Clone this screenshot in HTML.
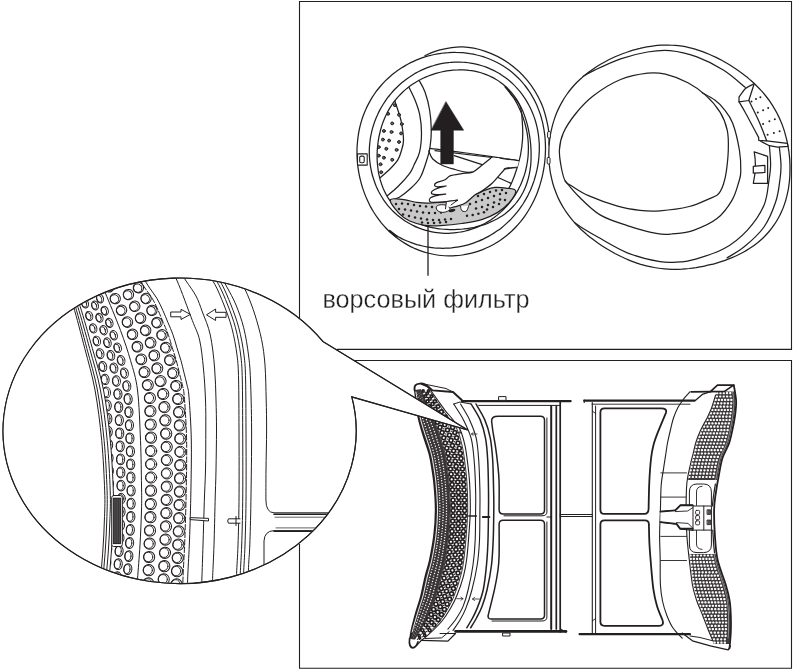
<!DOCTYPE html>
<html><head><meta charset="utf-8"><title>ворсовый фильтр</title>
<style>html,body{margin:0;padding:0;background:#fff}svg{display:block}
text{font-family:"Liberation Sans","DejaVu Sans",sans-serif;fill:#231f20}</style></head>
<body><svg width="793" height="670" viewBox="0 0 793 670">
<rect width="793" height="670" fill="#fff"/>
<path d="M299.5 318V1.5H791.5V349.4H336.7" fill="none" stroke="#231f20" stroke-width="1.1" />
<path d="M354.4 360.5H791.5V668.3H299.5V544" fill="none" stroke="#231f20" stroke-width="1.1" />
<g id="drum" stroke-linecap="round" stroke-linejoin="round">
<path d="M357.0 155.0C357.0 152.8 357.0 150.6 357.0 148.4C357.1 146.1 357.3 143.9 357.5 141.7C357.7 139.5 357.9 137.3 358.3 135.1C358.6 132.9 359.0 130.7 359.5 128.5C360.0 126.3 360.6 124.1 361.2 121.9C361.8 119.8 362.5 117.6 363.3 115.5C364.1 113.4 364.9 111.3 365.9 109.2C366.8 107.1 367.8 105.1 368.9 103.1C370.0 101.1 371.1 99.1 372.3 97.1C373.6 95.2 374.9 93.3 376.2 91.4C377.6 89.6 379.1 87.8 380.6 86.0C382.1 84.3 383.7 82.6 385.3 80.9C386.9 79.3 388.7 77.7 390.4 76.2C392.2 74.6 394.0 73.2 395.9 71.8C397.7 70.4 399.7 69.1 401.7 67.8C403.6 66.6 405.7 65.4 407.7 64.2C409.8 63.1 411.9 62.1 414.1 61.1C416.2 60.2 418.4 59.3 420.6 58.4C422.8 57.6 425.1 56.9 427.4 56.2C429.7 55.6 432.0 55.0 434.3 54.5C436.6 54.0 439.0 53.6 441.3 53.3C443.7 53.0 446.0 52.7 448.4 52.6C450.8 52.4 453.2 52.3 455.6 52.4C458.0 52.4 460.4 52.5 462.8 52.7C465.1 52.9 467.5 53.2 469.9 53.6C472.3 53.9 474.6 54.4 476.9 55.0C479.3 55.5 481.6 56.2 483.9 56.9C486.1 57.7 488.4 58.5 490.6 59.5C492.8 60.4 495.0 61.4 497.1 62.5C499.2 63.6 501.3 64.8 503.3 66.1C505.4 67.4 507.3 68.7 509.2 70.1C511.1 71.6 513.0 73.1 514.8 74.7C516.5 76.3 518.2 77.9 519.9 79.6C521.5 81.3 523.1 83.1 524.5 85.0C526.0 86.8 527.4 88.7 528.7 90.6C530.1 92.5 531.3 94.5 532.4 96.6C533.6 98.6 534.7 100.6 535.7 102.7C536.7 104.8 537.6 106.9 538.4 109.1C539.2 111.2 540.0 113.4 540.7 115.5C541.3 117.7 541.9 119.9 542.5 122.1C543.0 124.3 543.4 126.5 543.8 128.7C544.2 130.9 544.5 133.1 544.8 135.3C545.0 137.5 545.2 139.7 545.3 141.9C545.4 144.1 545.5 146.3 545.5 148.5C545.5 150.6 545.4 152.8 545.3 155.0C545.2 157.2 545.0 159.3 544.8 161.5C544.5 163.6 544.3 165.8 543.9 167.9C543.6 170.1 543.2 172.2 542.7 174.3C542.3 176.4 541.8 178.5 541.2 180.6C540.6 182.7 540.0 184.7 539.4 186.8C538.7 188.9 538.0 190.9 537.2 192.9C536.4 194.9 535.5 196.9 534.6 198.9C533.7 200.9 532.7 202.9 531.7 204.8C530.7 206.7 529.6 208.7 528.4 210.5C527.3 212.4 526.1 214.3 524.8 216.1C523.5 217.9 522.2 219.7 520.8 221.4C519.3 223.1 517.9 224.8 516.3 226.5C514.8 228.1 513.2 229.7 511.6 231.3C509.9 232.8 508.2 234.3 506.4 235.7C504.7 237.1 502.8 238.5 501.0 239.8C499.1 241.1 497.1 242.3 495.2 243.5C493.2 244.7 491.2 245.8 489.1 246.8C487.0 247.8 484.9 248.7 482.7 249.6C480.6 250.4 478.4 251.2 476.2 251.9C473.9 252.6 471.7 253.2 469.4 253.7C467.1 254.2 464.8 254.7 462.5 255.0C460.2 255.3 457.9 255.6 455.5 255.7C453.2 255.9 450.8 255.9 448.5 255.9C446.1 255.8 443.8 255.7 441.4 255.5C439.1 255.3 436.8 254.9 434.5 254.5C432.1 254.1 429.8 253.6 427.6 253.0C425.3 252.4 423.1 251.7 420.8 250.9C418.6 250.1 416.5 249.2 414.3 248.3C412.2 247.3 410.1 246.3 408.0 245.1C406.0 244.0 404.0 242.8 402.0 241.5C400.1 240.3 398.2 238.9 396.4 237.5C394.5 236.1 392.8 234.6 391.0 233.0C389.3 231.5 387.7 229.9 386.1 228.2C384.5 226.5 383.0 224.8 381.5 223.1C380.1 221.3 378.7 219.5 377.4 217.6C376.0 215.8 374.8 213.9 373.6 212.0C372.4 210.0 371.3 208.1 370.2 206.1C369.2 204.1 368.2 202.1 367.3 200.1C366.3 198.0 365.5 196.0 364.7 193.9C363.9 191.8 363.2 189.7 362.5 187.6C361.8 185.5 361.2 183.3 360.7 181.2C360.1 179.0 359.6 176.9 359.2 174.7C358.8 172.6 358.4 170.4 358.1 168.2C357.8 166.0 357.6 163.8 357.4 161.6C357.2 159.4 357.1 157.2 357.0 155.0Z" fill="none" stroke="#231f20" stroke-width="1.25" />
<path d="M425.0 55.5C427.5 54.5 433.7 51.2 440.0 49.8C446.3 48.3 455.1 46.5 462.7 46.8C470.3 47.0 477.8 48.6 485.4 51.3C493.0 53.9 501.1 57.8 508.1 62.7C515.2 67.6 522.2 74.0 527.7 80.8C533.2 87.6 538.0 95.7 541.4 103.5C544.8 111.3 546.9 120.8 548.2 127.7C549.5 134.6 548.9 142.1 549.0 145.0" fill="none" stroke="#231f20" stroke-width="1.25" />
<path d="M390.1 231.7C391.0 232.3 393.4 234.0 395.2 235.0C396.9 236.0 398.6 237.0 400.4 237.9C402.2 238.9 404.0 239.7 405.8 240.5C407.6 241.3 409.4 242.0 411.3 242.7C413.2 243.4 415.0 244.0 416.9 244.6C418.8 245.1 420.7 245.6 422.6 246.0C424.5 246.5 426.5 246.8 428.4 247.1C430.3 247.4 432.2 247.7 434.2 247.9C436.1 248.0 438.0 248.2 440.0 248.2C441.9 248.3 443.8 248.3 445.7 248.2C447.6 248.2 449.6 248.0 451.4 247.9C453.3 247.7 455.2 247.5 457.1 247.2C459.0 246.9 460.8 246.6 462.7 246.2C464.5 245.8 466.3 245.3 468.1 244.8C469.9 244.3 471.7 243.7 473.5 243.1C475.2 242.5 476.9 241.9 478.6 241.2C480.3 240.5 482.0 239.7 483.7 238.9C485.3 238.1 486.9 237.3 488.5 236.4C490.1 235.5 491.7 234.6 493.2 233.6C494.7 232.7 496.2 231.7 497.7 230.6C499.2 229.6 500.6 228.5 502.0 227.4C503.4 226.3 504.7 225.1 506.0 223.9C507.3 222.7 508.6 221.5 509.9 220.3C511.1 219.0 512.3 217.7 513.5 216.4C514.7 215.1 515.8 213.8 516.9 212.4C518.0 211.1 519.0 209.7 520.0 208.3C521.0 206.9 522.0 205.4 523.0 204.0C523.9 202.5 524.8 201.1 525.6 199.6C526.5 198.1 527.3 196.6 528.1 195.1C528.8 193.5 529.6 192.0 530.3 190.4C531.0 188.9 531.6 187.3 532.2 185.7C532.8 184.1 533.4 182.5 534.0 180.9C534.5 179.3 535.0 177.7 535.4 176.0C535.9 174.4 536.3 172.8 536.7 171.1C537.1 169.5 537.4 167.8 537.7 166.1C538.0 164.5 538.3 162.8 538.5 161.1C538.7 159.4 538.9 157.7 539.0 156.0C539.1 154.3 539.2 152.6 539.3 150.9C539.3 149.2 539.3 147.5 539.3 145.8C539.3 144.1 539.2 142.4 539.0 140.7C538.9 139.0 538.7 137.3 538.5 135.5C538.3 133.8 538.0 132.1 537.7 130.4C537.4 128.7 537.0 127.0 536.6 125.4C536.2 123.7 535.7 122.0 535.2 120.3C534.7 118.7 534.1 117.0 533.5 115.4C532.9 113.7 532.2 112.1 531.5 110.5C530.8 108.9 530.0 107.3 529.2 105.8C528.4 104.2 527.5 102.6 526.6 101.1C525.7 99.6 524.7 98.1 523.7 96.7C522.7 95.2 521.7 93.8 520.6 92.4C519.4 91.0 518.3 89.6 517.1 88.3C515.9 87.0 514.7 85.7 513.4 84.4C512.1 83.2 510.8 82.0 509.4 80.8C508.0 79.6 506.6 78.5 505.2 77.5C503.7 76.4 502.2 75.4 500.7 74.4C499.2 73.5 497.6 72.6 496.1 71.7C494.5 70.8 492.9 70.0 491.2 69.3C489.6 68.6 487.9 67.9 486.2 67.2C484.6 66.6 482.8 66.0 481.1 65.5C479.4 65.0 477.7 64.5 475.9 64.1C474.2 63.7 472.4 63.4 470.6 63.1C468.9 62.8 467.1 62.6 465.3 62.4C463.5 62.3 461.8 62.2 460.0 62.1C458.2 62.1 456.4 62.1 454.6 62.1C452.9 62.2 451.1 62.3 449.3 62.5C447.6 62.7 445.8 62.9 444.1 63.2C442.3 63.5 440.6 63.8 438.9 64.2C437.2 64.6 435.5 65.0 433.8 65.5C432.1 66.0 430.4 66.6 428.8 67.1C427.1 67.7 425.5 68.4 423.9 69.1C422.3 69.8 420.8 70.5 419.2 71.3C417.7 72.0 416.1 72.9 414.6 73.7C413.2 74.6 411.7 75.5 410.3 76.5C408.8 77.4 407.4 78.4 406.0 79.4C404.7 80.4 403.3 81.5 402.0 82.6C400.7 83.7 399.5 84.8 398.2 86.0C397.0 87.1 395.8 88.3 394.6 89.5C393.4 90.8 392.3 92.0 391.2 93.3C390.1 94.6 389.1 95.9 388.0 97.2C387.0 98.6 386.0 99.9 385.1 101.3C384.2 102.7 383.3 104.1 382.4 105.5C381.5 107.0 380.7 108.4 379.9 109.9C379.1 111.4 378.4 112.8 377.7 114.4C377.0 115.9 376.3 117.4 375.7 118.9C375.1 120.5 374.5 122.0 374.0 123.6C373.5 125.2 373.0 126.8 372.5 128.4C372.1 129.9 371.7 131.6 371.4 133.2C371.0 134.8 370.7 136.4 370.4 138.0C370.2 139.7 370.0 141.3 369.8 143.0C369.6 144.6 369.5 146.3 369.4 147.9C369.3 149.6 369.3 151.2 369.3 152.9C369.3 154.5 369.4 156.2 369.5 157.8C369.6 159.5 369.8 161.1 370.0 162.8C370.2 164.4 370.4 166.0 370.7 167.7C371.0 169.3 371.3 170.9 371.7 172.5C372.1 174.1 372.5 175.7 373.0 177.3C373.5 178.9 374.0 180.5 374.6 182.0C375.1 183.6 375.7 185.1 376.4 186.7C377.1 188.2 377.8 189.7 378.5 191.2C379.3 192.7 380.1 194.1 380.9 195.5C381.8 197.0 382.7 198.4 383.6 199.8C384.5 201.1 385.5 202.5 386.5 203.8C387.5 205.1 388.6 206.4 389.7 207.6C390.8 208.9 392.0 210.1 393.1 211.3C394.3 212.4 395.5 213.6 396.8 214.7C398.1 215.7 399.3 216.8 400.7 217.8C402.0 218.8 403.3 219.8 404.7 220.7C406.1 221.6 407.5 222.4 409.0 223.3C410.4 224.1 411.9 224.9 413.4 225.6C414.8 226.3 416.3 227.0 417.9 227.6C419.4 228.2 420.9 228.8 422.5 229.3C424.1 229.8 425.6 230.3 427.2 230.7C428.8 231.1 430.4 231.5 432.0 231.8C433.6 232.1 435.2 232.4 436.8 232.6C438.4 232.8 440.1 233.0 441.7 233.1C443.3 233.2 444.9 233.3 446.5 233.3C448.1 233.3 449.7 233.2 451.4 233.1C453.0 233.0 454.6 232.9 456.1 232.7C457.7 232.5 459.3 232.3 460.9 232.0C462.4 231.7 464.0 231.4 465.5 231.0C467.1 230.6 468.6 230.2 470.1 229.7C471.6 229.2 473.1 228.7 474.6 228.2C476.0 227.6 477.5 227.0 478.9 226.4C480.3 225.7 481.7 225.1 483.1 224.4C484.5 223.7 485.8 222.9 487.2 222.1C488.5 221.3 489.8 220.5 491.1 219.7C492.4 218.8 493.6 217.9 494.8 217.0C496.1 216.1 497.3 215.1 498.4 214.1C499.6 213.2 500.7 212.1 501.8 211.1C502.9 210.1 504.0 209.0 505.0 207.9C506.1 206.8 507.1 205.7 508.1 204.5C509.0 203.4 510.0 202.2 510.9 201.0C511.8 199.8 512.7 198.6 513.5 197.4C514.4 196.1 515.2 194.9 515.9 193.6C516.7 192.3 517.5 191.0 518.2 189.7C518.9 188.4 519.5 187.1 520.2 185.7C520.8 184.4 521.4 183.0 521.9 181.7C522.5 180.3 523.0 178.9 523.5 177.5C524.0 176.1 524.5 174.7 524.9 173.3C525.3 171.9 525.7 170.4 526.0 169.0C526.3 167.6 526.6 166.1 526.9 164.6C527.2 163.2 527.4 161.7 527.6 160.3C527.8 158.8 528.0 157.3 528.1 155.8C528.2 154.4 528.3 152.9 528.3 151.4C528.4 149.9 528.4 148.4 528.4 146.9C528.4 145.4 528.3 143.9 528.2 142.4C528.1 140.9 528.0 139.4 527.8 137.9C527.6 136.4 527.4 134.9 527.2 133.4C526.9 131.9 526.6 130.5 526.3 129.0C526.0 127.5 525.6 126.0 525.2 124.5C524.8 123.0 524.4 121.5 523.9 120.1C523.5 118.6 523.0 117.1 522.4 115.7C521.9 114.2 521.3 112.8 520.7 111.3C520.0 109.9 519.4 108.4 518.7 107.0C518.0 105.6 517.3 104.1 516.5 102.7C515.7 101.3 514.9 99.9 514.1 98.5C513.2 97.2 512.3 95.8 511.4 94.4C510.5 93.1 509.5 91.7 508.5 90.4C507.5 89.0 505.9 87.1 505.4 86.4" fill="none" stroke="#231f20" stroke-width="1.25" />
<clipPath id="clipd"><path d="M377.3 150.0C377.4 148.2 377.6 146.4 377.8 144.6C378.0 142.8 378.2 141.0 378.5 139.3C378.8 137.5 379.2 135.7 379.6 134.0C380.0 132.2 380.4 130.5 380.9 128.8C381.4 127.0 381.9 125.3 382.5 123.6C383.1 121.9 383.8 120.3 384.5 118.6C385.2 116.9 385.9 115.3 386.7 113.7C387.5 112.1 388.4 110.5 389.3 108.9C390.2 107.4 391.2 105.9 392.2 104.4C393.2 102.9 394.3 101.4 395.4 100.0C396.6 98.6 397.7 97.2 399.0 95.9C400.2 94.6 401.5 93.3 402.8 92.0C404.1 90.8 405.5 89.6 406.9 88.4C408.3 87.3 409.8 86.2 411.3 85.1C412.7 84.1 414.3 83.1 415.8 82.2C417.4 81.2 419.0 80.3 420.6 79.5C422.2 78.6 423.9 77.9 425.6 77.1C427.2 76.4 428.9 75.7 430.7 75.1C432.4 74.5 434.1 73.9 435.9 73.4C437.7 72.9 439.4 72.4 441.2 72.0C443.0 71.6 444.9 71.2 446.7 70.9C448.5 70.6 450.4 70.4 452.2 70.2C454.1 70.0 455.9 69.9 457.8 69.9C459.7 69.8 461.5 69.8 463.4 69.9C465.3 70.0 467.2 70.1 469.0 70.4C470.9 70.6 472.8 70.9 474.6 71.2C476.5 71.6 478.3 72.0 480.2 72.5C482.0 73.1 483.8 73.7 485.6 74.3C487.3 75.0 489.1 75.7 490.8 76.6C492.5 77.4 494.2 78.3 495.8 79.3C497.5 80.3 499.1 81.3 500.6 82.4C502.1 83.5 503.6 84.7 505.0 86.0C506.4 87.2 507.8 88.6 509.1 89.9C510.4 91.3 511.6 92.7 512.8 94.2C514.0 95.6 515.1 97.2 516.1 98.7C517.2 100.3 518.1 101.9 519.0 103.5C519.9 105.1 520.8 106.7 521.6 108.4C522.3 110.1 523.1 111.8 523.7 113.5C524.4 115.2 525.0 116.9 525.6 118.6C526.1 120.3 526.6 122.0 527.1 123.8C527.5 125.5 528.0 127.2 528.3 129.0C528.7 130.7 529.0 132.5 529.3 134.2C529.6 135.9 529.9 137.7 530.1 139.4C530.3 141.2 530.5 142.9 530.7 144.7C530.8 146.5 530.9 148.2 531.0 150.0C531.1 151.8 531.1 153.5 531.1 155.3C531.1 157.1 531.1 158.9 531.0 160.7C530.9 162.5 530.8 164.3 530.6 166.1C530.4 167.9 530.1 169.7 529.8 171.5C529.5 173.3 529.2 175.1 528.7 176.8C528.3 178.6 527.8 180.4 527.2 182.2C526.7 183.9 526.0 185.7 525.3 187.4C524.6 189.1 523.8 190.8 523.0 192.5C522.1 194.1 521.2 195.8 520.2 197.4C519.2 198.9 518.1 200.5 516.9 202.0C515.8 203.5 514.6 204.9 513.3 206.3C512.0 207.7 510.7 209.0 509.3 210.3C507.9 211.5 506.4 212.7 504.9 213.9C503.4 215.0 501.8 216.1 500.2 217.0C498.6 218.0 497.0 219.0 495.3 219.8C493.7 220.7 492.0 221.5 490.2 222.2C488.5 223.0 486.8 223.7 485.0 224.3C483.2 224.9 481.5 225.4 479.7 225.9C477.9 226.4 476.1 226.9 474.3 227.3C472.5 227.6 470.6 228.0 468.8 228.3C467.0 228.6 465.1 228.8 463.3 229.0C461.5 229.2 459.6 229.3 457.8 229.4C455.9 229.5 454.1 229.6 452.2 229.6C450.4 229.6 448.5 229.5 446.7 229.4C444.8 229.3 442.9 229.2 441.1 229.0C439.2 228.8 437.4 228.5 435.5 228.2C433.6 227.9 431.8 227.5 430.0 227.1C428.1 226.6 426.3 226.1 424.5 225.6C422.7 225.0 420.9 224.3 419.1 223.6C417.3 222.9 415.6 222.1 413.9 221.3C412.1 220.4 410.5 219.5 408.8 218.5C407.2 217.5 405.6 216.4 404.0 215.2C402.5 214.1 401.0 212.8 399.6 211.6C398.1 210.3 396.8 208.9 395.4 207.5C394.1 206.1 392.9 204.6 391.7 203.1C390.5 201.6 389.4 200.0 388.4 198.4C387.4 196.8 386.4 195.1 385.6 193.4C384.7 191.7 383.9 190.0 383.1 188.2C382.4 186.5 381.7 184.7 381.2 182.9C380.6 181.1 380.0 179.3 379.6 177.4C379.1 175.6 378.8 173.8 378.4 172.0C378.1 170.1 377.9 168.3 377.7 166.4C377.5 164.6 377.3 162.8 377.2 160.9C377.1 159.1 377.1 157.3 377.1 155.4C377.1 153.6 377.2 151.8 377.3 150.0Z"/></clipPath>
<clipPath id="clipf"><path d="M340 40L505 40L505.0 86.9L505.3 87.3L505.8 87.9L506.3 88.5L506.9 89.2L507.5 89.9L508.2 90.8L508.9 91.6L509.6 92.6L510.3 93.5L511.1 94.5L511.9 95.5L512.8 96.5L513.8 97.6L514.9 98.7L515.9 99.9L516.9 101.1L517.9 102.4L518.8 103.7L519.6 105.1L520.2 106.6L520.7 108.2L521.1 109.9L521.5 111.8L521.7 113.7L521.9 115.6L522.1 117.6L522.2 119.5L522.3 121.4L522.4 123.3L522.5 125.0L522.6 126.6L522.7 128.2L522.7 129.7L522.8 131.2L522.8 132.6L522.8 134.0L522.7 135.4L522.7 136.9L522.6 138.3L522.5 139.8L522.4 141.3L522.3 142.8L522.1 144.3L521.9 145.9L521.8 147.4L521.5 148.9L521.3 150.4L521.1 152.0L520.8 153.5L520.5 155.0L520.2 156.5L519.8 158.1L519.4 159.6L519.0 161.2L518.6 162.7L518.2 164.2L517.7 165.7L517.3 167.2L516.8 168.6L516.4 170.0L516.0 171.3L515.5 172.7L515.1 173.9L514.6 175.2L514.2 176.4L513.7 177.6L513.3 178.8L512.9 179.9L512.4 181.0L512.0 182.0L511.6 183.0L511.1 184.0L510.6 184.9L510.2 185.9L509.7 186.8L509.3 187.6L508.9 188.3L508.5 189.0L508.2 189.5L508.0 190.0L505 200L500 235L340 235Z"/></clipPath>
<g clip-path="url(#clipd)"><g clip-path="url(#clipf)">
<path d="M394.8 100.9C395.8 104.2 399.6 114.0 401.0 120.6C402.4 127.2 403.5 135.1 403.5 140.3C403.5 145.5 401.9 148.7 401.0 152.0C400.1 155.3 399.6 157.1 397.8 159.9C396.0 162.7 393.0 166.0 390.0 169.0C387.0 172.0 381.6 176.3 379.9 177.8" fill="none" stroke="#231f20" stroke-width="1.25" />
<path d="M409.1 87.5C410.1 89.6 413.2 95.5 415.0 100.0C416.8 104.5 418.6 109.1 419.7 114.6C420.8 120.1 421.5 126.8 421.5 133.1C421.5 139.4 420.8 147.1 419.5 152.4C418.2 157.7 415.6 161.5 414.0 165.0C412.4 168.5 412.4 169.7 409.7 173.3C407.0 176.9 401.7 182.8 398.0 186.5C394.3 190.2 389.1 194.2 387.3 195.7" fill="none" stroke="#231f20" stroke-width="1.25" />
<path d="M419.0 80.3C420.0 82.2 423.2 87.0 425.0 92.0C426.8 97.0 428.6 103.7 429.6 110.0C430.7 116.3 431.2 123.8 431.3 130.0C431.4 136.2 430.7 142.7 430.0 147.5C429.3 152.3 428.8 153.9 427.1 159.0C425.5 164.1 423.0 172.8 420.1 177.8C417.2 182.8 413.5 185.8 410.0 189.0C406.5 192.2 402.6 195.3 399.3 197.2C396.0 199.0 391.8 199.6 390.3 200.1" fill="none" stroke="#231f20" stroke-width="1.25" />
<circle cx="394.9" cy="105.2" r="1.45" fill="#666" stroke="#231f20" stroke-width="1.0"/>
<circle cx="388.1" cy="113.8" r="1.45" fill="#666" stroke="#231f20" stroke-width="1.0"/>
<circle cx="399.0" cy="114.8" r="1.45" fill="#666" stroke="#231f20" stroke-width="1.0"/>
<circle cx="392.2" cy="123.4" r="1.45" fill="#666" stroke="#231f20" stroke-width="1.0"/>
<circle cx="401.8" cy="124.1" r="1.45" fill="#666" stroke="#231f20" stroke-width="1.0"/>
<circle cx="383.9" cy="131.0" r="1.45" fill="#666" stroke="#231f20" stroke-width="1.0"/>
<circle cx="391.5" cy="132.0" r="1.45" fill="#666" stroke="#231f20" stroke-width="1.0"/>
<circle cx="401.1" cy="133.4" r="1.45" fill="#666" stroke="#231f20" stroke-width="1.0"/>
<circle cx="382.9" cy="139.6" r="1.45" fill="#666" stroke="#231f20" stroke-width="1.0"/>
<circle cx="389.1" cy="140.6" r="1.45" fill="#666" stroke="#231f20" stroke-width="1.0"/>
<circle cx="399.0" cy="142.0" r="1.45" fill="#666" stroke="#231f20" stroke-width="1.0"/>
<circle cx="378.8" cy="147.1" r="1.45" fill="#666" stroke="#231f20" stroke-width="1.0"/>
<circle cx="386.3" cy="148.8" r="1.45" fill="#666" stroke="#231f20" stroke-width="1.0"/>
<circle cx="396.6" cy="149.9" r="1.45" fill="#666" stroke="#231f20" stroke-width="1.0"/>
<circle cx="378.8" cy="155.7" r="1.45" fill="#666" stroke="#231f20" stroke-width="1.0"/>
<circle cx="383.9" cy="157.7" r="1.45" fill="#666" stroke="#231f20" stroke-width="1.0"/>
<circle cx="392.2" cy="159.8" r="1.45" fill="#666" stroke="#231f20" stroke-width="1.0"/>
<circle cx="380.5" cy="164.3" r="1.45" fill="#666" stroke="#231f20" stroke-width="1.0"/>
<circle cx="381.2" cy="172.2" r="1.45" fill="#666" stroke="#231f20" stroke-width="1.0"/>
<path d="M429.6 148.3C436.3 149.2 455.2 151.4 470.0 153.5C484.8 155.6 508.2 159.1 518.2 160.6C528.2 162.1 528.0 162.2 530.0 162.5" fill="none" stroke="#231f20" stroke-width="1.25" />
<path d="M435.0 150.6L492.0 157.5" fill="none" stroke="#231f20" stroke-width="1.25" />
<path d="M454.2 155.7L482.1 164.7" fill="none" stroke="#231f20" stroke-width="1.25" />
<path d="M428.7 150.8C429.4 152.2 430.5 156.6 432.8 159.0C435.1 161.4 439.0 163.8 442.7 165.5C446.4 167.2 451.2 168.4 455.0 169.5C458.8 170.6 462.8 171.7 465.7 172.1C468.6 172.5 471.1 172.1 472.2 172.1" fill="none" stroke="#231f20" stroke-width="1.25" />
<path d="M505.1 168.8L520.0 167.2L530.0 167.0" fill="none" stroke="#231f20" stroke-width="1.25" />
<path d="M496.9 177.0L511.7 183.6" fill="none" stroke="#231f20" stroke-width="1.25" />
<path d="M505.1 168.8C503.8 170.1 499.9 173.8 497.0 176.5C494.1 179.2 491.0 182.7 488.0 185.0C485.0 187.3 480.3 189.3 478.8 190.2" fill="none" stroke="#231f20" stroke-width="1.25" />
</g></g>
<path d="M377.3 150.0C377.4 148.2 377.6 146.4 377.8 144.6C378.0 142.8 378.2 141.0 378.5 139.3C378.8 137.5 379.2 135.7 379.6 134.0C380.0 132.2 380.4 130.5 380.9 128.8C381.4 127.0 381.9 125.3 382.5 123.6C383.1 121.9 383.8 120.3 384.5 118.6C385.2 116.9 385.9 115.3 386.7 113.7C387.5 112.1 388.4 110.5 389.3 108.9C390.2 107.4 391.2 105.9 392.2 104.4C393.2 102.9 394.3 101.4 395.4 100.0C396.6 98.6 397.7 97.2 399.0 95.9C400.2 94.6 401.5 93.3 402.8 92.0C404.1 90.8 405.5 89.6 406.9 88.4C408.3 87.3 409.8 86.2 411.3 85.1C412.7 84.1 414.3 83.1 415.8 82.2C417.4 81.2 419.0 80.3 420.6 79.5C422.2 78.6 423.9 77.9 425.6 77.1C427.2 76.4 428.9 75.7 430.7 75.1C432.4 74.5 434.1 73.9 435.9 73.4C437.7 72.9 439.4 72.4 441.2 72.0C443.0 71.6 444.9 71.2 446.7 70.9C448.5 70.6 450.4 70.4 452.2 70.2C454.1 70.0 455.9 69.9 457.8 69.9C459.7 69.8 461.5 69.8 463.4 69.9C465.3 70.0 467.2 70.1 469.0 70.4C470.9 70.6 472.8 70.9 474.6 71.2C476.5 71.6 478.3 72.0 480.2 72.5C482.0 73.1 483.8 73.7 485.6 74.3C487.3 75.0 489.1 75.7 490.8 76.6C492.5 77.4 494.2 78.3 495.8 79.3C497.5 80.3 499.1 81.3 500.6 82.4C502.1 83.5 503.6 84.7 505.0 86.0C506.4 87.2 507.8 88.6 509.1 89.9C510.4 91.3 511.6 92.7 512.8 94.2C514.0 95.6 515.1 97.2 516.1 98.7C517.2 100.3 518.1 101.9 519.0 103.5C519.9 105.1 520.8 106.7 521.6 108.4C522.3 110.1 523.1 111.8 523.7 113.5C524.4 115.2 525.0 116.9 525.6 118.6C526.1 120.3 526.6 122.0 527.1 123.8C527.5 125.5 528.0 127.2 528.3 129.0C528.7 130.7 529.0 132.5 529.3 134.2C529.6 135.9 529.9 137.7 530.1 139.4C530.3 141.2 530.5 142.9 530.7 144.7C530.8 146.5 530.9 148.2 531.0 150.0C531.1 151.8 531.1 153.5 531.1 155.3C531.1 157.1 531.1 158.9 531.0 160.7C530.9 162.5 530.8 164.3 530.6 166.1C530.4 167.9 530.1 169.7 529.8 171.5C529.5 173.3 529.2 175.1 528.7 176.8C528.3 178.6 527.8 180.4 527.2 182.2C526.7 183.9 526.0 185.7 525.3 187.4C524.6 189.1 523.8 190.8 523.0 192.5C522.1 194.1 521.2 195.8 520.2 197.4C519.2 198.9 518.1 200.5 516.9 202.0C515.8 203.5 514.6 204.9 513.3 206.3C512.0 207.7 510.7 209.0 509.3 210.3C507.9 211.5 506.4 212.7 504.9 213.9C503.4 215.0 501.8 216.1 500.2 217.0C498.6 218.0 497.0 219.0 495.3 219.8C493.7 220.7 492.0 221.5 490.2 222.2C488.5 223.0 486.8 223.7 485.0 224.3C483.2 224.9 481.5 225.4 479.7 225.9C477.9 226.4 476.1 226.9 474.3 227.3C472.5 227.6 470.6 228.0 468.8 228.3C467.0 228.6 465.1 228.8 463.3 229.0C461.5 229.2 459.6 229.3 457.8 229.4C455.9 229.5 454.1 229.6 452.2 229.6C450.4 229.6 448.5 229.5 446.7 229.4C444.8 229.3 442.9 229.2 441.1 229.0C439.2 228.8 437.4 228.5 435.5 228.2C433.6 227.9 431.8 227.5 430.0 227.1C428.1 226.6 426.3 226.1 424.5 225.6C422.7 225.0 420.9 224.3 419.1 223.6C417.3 222.9 415.6 222.1 413.9 221.3C412.1 220.4 410.5 219.5 408.8 218.5C407.2 217.5 405.6 216.4 404.0 215.2C402.5 214.1 401.0 212.8 399.6 211.6C398.1 210.3 396.8 208.9 395.4 207.5C394.1 206.1 392.9 204.6 391.7 203.1C390.5 201.6 389.4 200.0 388.4 198.4C387.4 196.8 386.4 195.1 385.6 193.4C384.7 191.7 383.9 190.0 383.1 188.2C382.4 186.5 381.7 184.7 381.2 182.9C380.6 181.1 380.0 179.3 379.6 177.4C379.1 175.6 378.8 173.8 378.4 172.0C378.1 170.1 377.9 168.3 377.7 166.4C377.5 164.6 377.3 162.8 377.2 160.9C377.1 159.1 377.1 157.3 377.1 155.4C377.1 153.6 377.2 151.8 377.3 150.0Z" fill="none" stroke="#231f20" stroke-width="1.25" />
<path d="M505.0 86.9C506.0 88.2 508.6 91.2 511.1 94.5C513.6 97.8 518.3 101.5 520.2 106.6C522.1 111.7 522.1 119.5 522.5 125.0C522.9 130.5 522.8 134.8 522.5 139.8C522.2 144.8 521.5 150.0 520.5 155.0C519.5 160.0 517.8 165.5 516.4 170.0C515.0 174.5 513.4 178.7 512.0 182.0C510.6 185.3 508.7 188.7 508.0 190.0" fill="none" stroke="#231f20" stroke-width="1.25" />
<path d="M390.3 200.1C390.8 197.7 397.7 199.0 402.2 199.4C406.7 199.8 412.7 201.8 417.2 202.4C421.7 203.0 424.5 203.2 429.1 203.1C433.7 203.0 439.5 202.5 445.0 202.0C450.5 201.5 456.9 201.3 462.0 200.0C467.1 198.7 471.6 196.0 475.5 194.4C479.4 192.8 482.0 191.4 485.2 190.2C488.4 189.0 491.4 187.8 494.9 187.4C498.4 187.1 502.5 187.5 506.0 188.1C509.5 188.7 515.2 188.4 515.7 190.9C516.2 193.4 512.0 199.4 509.0 203.0C506.0 206.6 502.1 209.7 497.7 212.4C493.3 215.1 488.4 217.5 482.4 219.3C476.4 221.2 468.5 222.4 461.6 223.5C454.7 224.6 447.0 225.3 440.8 225.6C434.6 225.9 429.8 226.1 424.6 225.3C419.4 224.5 413.9 222.9 409.7 221.0C405.5 219.1 402.5 217.1 399.3 213.6C396.1 210.1 389.8 202.5 390.3 200.1Z" fill="#c9c9c9" stroke="#231f20" stroke-width="1.25" />
<circle cx="396.0" cy="204.0" r="1.25" fill="#231f20"/>
<circle cx="402.0" cy="203.5" r="1.25" fill="#231f20"/>
<circle cx="408.0" cy="204.0" r="1.25" fill="#231f20"/>
<circle cx="414.0" cy="205.0" r="1.25" fill="#231f20"/>
<circle cx="420.0" cy="206.0" r="1.25" fill="#231f20"/>
<circle cx="426.0" cy="206.5" r="1.25" fill="#231f20"/>
<circle cx="432.0" cy="207.0" r="1.25" fill="#231f20"/>
<circle cx="399.0" cy="209.0" r="1.25" fill="#231f20"/>
<circle cx="405.0" cy="209.5" r="1.25" fill="#231f20"/>
<circle cx="411.0" cy="210.5" r="1.25" fill="#231f20"/>
<circle cx="417.0" cy="211.5" r="1.25" fill="#231f20"/>
<circle cx="423.0" cy="212.5" r="1.25" fill="#231f20"/>
<circle cx="429.0" cy="213.0" r="1.25" fill="#231f20"/>
<circle cx="435.0" cy="213.0" r="1.25" fill="#231f20"/>
<circle cx="441.0" cy="212.5" r="1.25" fill="#231f20"/>
<circle cx="403.0" cy="214.5" r="1.25" fill="#231f20"/>
<circle cx="409.0" cy="216.0" r="1.25" fill="#231f20"/>
<circle cx="415.0" cy="217.5" r="1.25" fill="#231f20"/>
<circle cx="421.0" cy="218.5" r="1.25" fill="#231f20"/>
<circle cx="427.0" cy="219.5" r="1.25" fill="#231f20"/>
<circle cx="433.0" cy="220.0" r="1.25" fill="#231f20"/>
<circle cx="439.0" cy="220.0" r="1.25" fill="#231f20"/>
<circle cx="445.0" cy="219.5" r="1.25" fill="#231f20"/>
<circle cx="451.0" cy="219.0" r="1.25" fill="#231f20"/>
<circle cx="422.0" cy="222.5" r="1.25" fill="#231f20"/>
<circle cx="428.0" cy="223.0" r="1.25" fill="#231f20"/>
<circle cx="434.0" cy="223.0" r="1.25" fill="#231f20"/>
<circle cx="440.0" cy="222.5" r="1.25" fill="#231f20"/>
<circle cx="446.0" cy="222.0" r="1.25" fill="#231f20"/>
<circle cx="467.0" cy="215.8" r="1.25" fill="#231f20"/>
<circle cx="472.7" cy="215.0" r="1.25" fill="#231f20"/>
<circle cx="478.4" cy="213.8" r="1.25" fill="#231f20"/>
<circle cx="484.0" cy="212.2" r="1.25" fill="#231f20"/>
<circle cx="476.0" cy="208.5" r="1.25" fill="#231f20"/>
<circle cx="482.0" cy="207.0" r="1.25" fill="#231f20"/>
<circle cx="488.0" cy="205.0" r="1.25" fill="#231f20"/>
<circle cx="494.0" cy="202.5" r="1.25" fill="#231f20"/>
<circle cx="500.0" cy="199.5" r="1.25" fill="#231f20"/>
<circle cx="470.0" cy="204.0" r="1.25" fill="#231f20"/>
<circle cx="476.0" cy="202.0" r="1.25" fill="#231f20"/>
<circle cx="482.0" cy="200.0" r="1.25" fill="#231f20"/>
<circle cx="488.0" cy="198.0" r="1.25" fill="#231f20"/>
<circle cx="494.0" cy="196.0" r="1.25" fill="#231f20"/>
<circle cx="500.0" cy="194.0" r="1.25" fill="#231f20"/>
<circle cx="506.0" cy="193.0" r="1.25" fill="#231f20"/>
<circle cx="478.0" cy="196.0" r="1.25" fill="#231f20"/>
<circle cx="484.0" cy="194.0" r="1.25" fill="#231f20"/>
<circle cx="490.0" cy="192.0" r="1.25" fill="#231f20"/>
<circle cx="496.0" cy="190.5" r="1.25" fill="#231f20"/>
<circle cx="502.0" cy="190.0" r="1.25" fill="#231f20"/>
<circle cx="487.0" cy="209.5" r="1.25" fill="#231f20"/>
<circle cx="493.0" cy="207.0" r="1.25" fill="#231f20"/>
<circle cx="499.0" cy="204.0" r="1.25" fill="#231f20"/>
<circle cx="505.0" cy="200.0" r="1.25" fill="#231f20"/>
<g clip-path="url(#clipf)">
<path d="M490.7 158.3C489.1 159.6 484.0 163.7 481.0 166.0C478.0 168.3 475.9 170.9 472.7 172.2C469.5 173.5 465.3 173.0 461.6 173.6C457.9 174.2 453.3 174.7 450.5 175.7C447.7 176.7 447.3 178.7 445.0 179.8C442.7 181.0 438.3 181.7 436.6 182.6C434.9 183.5 434.4 184.7 434.6 185.4C434.8 186.1 436.0 186.7 438.0 186.8C440.0 186.9 446.4 185.9 446.4 186.1C446.4 186.3 440.3 187.3 438.0 188.1C435.7 188.9 433.5 190.0 432.5 190.9C431.5 191.8 431.1 193.1 431.8 193.7C432.5 194.3 434.3 194.6 436.6 194.7C438.9 194.8 445.9 193.9 445.7 194.1C445.5 194.3 437.9 195.2 435.3 195.8C432.8 196.4 431.3 197.0 430.4 197.9C429.5 198.8 429.1 200.6 429.7 201.3C430.3 202.1 431.1 202.4 433.9 202.4C436.7 202.4 442.5 202.0 446.4 201.6C450.3 201.2 456.5 200.1 457.4 200.2C458.3 200.3 453.6 201.0 451.9 202.0C450.2 203.0 448.1 204.7 447.0 206.0C445.9 207.3 444.2 209.3 445.0 209.6C445.8 209.8 449.9 208.1 452.0 207.5C454.1 206.9 455.1 207.0 457.4 206.2C459.7 205.4 462.8 204.7 465.8 202.7C468.8 200.7 473.0 196.2 475.5 194.4C478.0 192.6 478.2 193.4 481.0 191.6C483.8 189.8 488.4 186.8 492.1 183.3C495.8 179.8 500.9 173.3 503.2 170.8C505.5 168.3 503.2 168.9 506.0 168.3C508.8 167.7 515.9 167.2 519.9 167.0C523.9 166.8 528.3 167.9 530.0 167.0C531.7 166.1 532.0 162.6 530.0 161.5C528.0 160.4 523.2 161.2 518.2 160.6C513.2 160.0 503.0 158.5 500.0 158.1" fill="#fff" stroke="#231f20" stroke-width="1.25" />
</g>
<path d="M447.0 205.5C445.3 204.7 441.8 204.6 440.0 204.8C438.2 205.1 436.6 206.0 436.3 207.0C436.0 208.0 436.7 210.1 438.0 211.0C439.3 211.9 442.0 212.6 444.0 212.3C446.0 212.1 449.5 210.6 450.0 209.5C450.5 208.4 448.7 206.3 447.0 205.5Z" fill="#fff" stroke="#231f20" stroke-width="1.0" />
<path d="M445.5 208.8L446.4 201.6L457.4 200.2L451.0 205.0" fill="#fff" stroke="#231f20" stroke-width="1.0" />
<ellipse cx="452" cy="210.5" rx="3.4" ry="1.6" fill="#231f20" transform="rotate(-12 452 210.5)"/>
<path d="M460.5 206.5C460.8 207.2 461.0 210.1 462.0 210.8C463.0 211.6 465.4 211.9 466.5 211.0C467.6 210.1 468.4 206.4 468.8 205.5" fill="#fff" stroke="#231f20" stroke-width="1.0" />
<path d="M446.0 101.8L463.7 130.2L453.4 130.2L453.4 163.9L440.7 163.9L440.7 130.2L431.2 130.2Z" fill="#231f20" stroke="#231f20" stroke-width="0.5" />
<rect x="357.5" y="153.9" width="9.7" height="11.2" fill="#fff" stroke="#231f20" stroke-width="1.1"/>
<rect x="359.7" y="156.1" width="4.5" height="6.7" rx="1.5" fill="none" stroke="#231f20" stroke-width="1.1"/>
<path d="M389.6 230.9L396.8 236.6" fill="none" stroke="#231f20" stroke-width="2.2" />
</g>
<path d="M428.0 225.0L428.0 275.8" fill="none" stroke="#231f20" stroke-width="1.3" />
<g style="filter:grayscale(1)"><text id="lbl" x="322.4" y="307.6" font-size="26.4" textLength="207.2" lengthAdjust="spacingAndGlyphs" stroke="#fff" stroke-width="0.3">ворсовый фильтр</text></g>
<g id="door" stroke-linecap="round" stroke-linejoin="round">
<path d="M548.9 158.0C548.8 155.5 548.8 153.0 548.9 150.5C548.9 148.0 549.1 145.5 549.3 143.0C549.6 140.5 549.9 138.0 550.3 135.5C550.7 133.1 551.2 130.6 551.8 128.2C552.4 125.7 553.0 123.3 553.8 120.9C554.5 118.5 555.4 116.1 556.3 113.8C557.2 111.4 558.3 109.1 559.4 106.9C560.5 104.6 561.7 102.4 563.0 100.3C564.3 98.1 565.7 96.0 567.1 94.0C568.6 91.9 570.1 90.0 571.7 88.0C573.3 86.1 575.0 84.3 576.7 82.5C578.5 80.7 580.3 79.0 582.2 77.4C584.0 75.8 585.9 74.2 587.9 72.7C589.9 71.2 591.9 69.8 593.9 68.4C595.9 67.1 598.0 65.8 600.1 64.5C602.2 63.3 604.3 62.1 606.5 61.0C608.6 59.9 610.8 58.8 612.9 57.8C615.1 56.8 617.3 55.9 619.5 55.0C621.7 54.1 624.0 53.2 626.2 52.5C628.5 51.7 630.7 50.9 633.0 50.2C635.3 49.6 637.6 48.9 639.9 48.4C642.2 47.8 644.5 47.3 646.8 46.9C649.1 46.5 651.5 46.1 653.8 45.8C656.2 45.5 658.5 45.3 660.9 45.2C663.3 45.1 665.6 45.0 668.0 45.0C670.4 45.1 672.7 45.2 675.1 45.4C677.4 45.6 679.8 45.9 682.1 46.2C684.4 46.6 686.8 47.1 689.1 47.6C691.4 48.1 693.6 48.7 695.9 49.4C698.1 50.1 700.4 50.8 702.6 51.6C704.8 52.4 707.0 53.3 709.1 54.2C711.3 55.1 713.4 56.1 715.5 57.1C717.6 58.1 719.7 59.2 721.7 60.3C723.8 61.4 725.8 62.6 727.8 63.8C729.8 65.0 731.8 66.2 733.7 67.5C735.7 68.8 737.6 70.1 739.5 71.5C741.5 72.9 743.4 74.3 745.2 75.8C747.1 77.2 748.9 78.8 750.7 80.3C752.5 81.9 754.3 83.5 756.0 85.2C757.7 86.9 759.4 88.6 761.0 90.4C762.7 92.2 764.2 94.0 765.8 96.0C767.3 97.9 768.8 99.8 770.2 101.8C771.6 103.9 772.9 105.9 774.1 108.1C775.4 110.2 776.6 112.3 777.7 114.6C778.8 116.8 779.9 119.0 780.8 121.3C781.8 123.6 782.7 126.0 783.5 128.4C784.3 130.7 785.0 133.1 785.6 135.6C786.3 138.0 786.9 140.4 787.4 142.9C787.9 145.4 788.3 147.9 788.7 150.4C789.1 152.9 789.3 155.5 789.6 158.0C789.8 160.5 789.9 163.1 790.0 165.7C790.0 168.2 790.0 170.8 789.9 173.4C789.9 176.0 789.7 178.6 789.4 181.2C789.2 183.7 788.8 186.3 788.4 188.9C787.9 191.5 787.4 194.0 786.7 196.6C786.1 199.1 785.4 201.6 784.5 204.1C783.7 206.6 782.7 209.1 781.6 211.5C780.6 213.9 779.4 216.2 778.1 218.5C776.8 220.8 775.4 223.1 773.9 225.2C772.4 227.4 770.8 229.5 769.1 231.5C767.4 233.5 765.6 235.4 763.8 237.2C761.9 239.1 759.9 240.8 757.9 242.5C755.9 244.1 753.8 245.7 751.7 247.1C749.6 248.6 747.3 249.9 745.1 251.2C742.9 252.5 740.6 253.7 738.3 254.8C736.1 255.9 733.7 257.0 731.4 257.9C729.1 258.9 726.7 259.8 724.4 260.6C722.0 261.4 719.7 262.1 717.3 262.8C715.0 263.5 712.6 264.2 710.3 264.7C707.9 265.3 705.5 265.8 703.2 266.3C700.8 266.8 698.5 267.2 696.1 267.6C693.8 267.9 691.4 268.2 689.1 268.5C686.7 268.7 684.4 268.9 682.0 269.1C679.7 269.2 677.3 269.3 675.0 269.3C672.7 269.3 670.3 269.2 668.0 269.1C665.7 269.0 663.4 268.8 661.0 268.5C658.7 268.2 656.4 267.9 654.2 267.5C651.9 267.1 649.6 266.6 647.4 266.1C645.1 265.6 642.9 264.9 640.7 264.3C638.5 263.6 636.3 262.9 634.2 262.1C632.0 261.3 629.9 260.5 627.8 259.6C625.7 258.7 623.6 257.7 621.5 256.8C619.5 255.8 617.4 254.7 615.4 253.7C613.4 252.6 611.4 251.5 609.4 250.3C607.4 249.2 605.5 248.0 603.5 246.7C601.6 245.5 599.7 244.2 597.8 242.9C595.9 241.6 594.0 240.2 592.2 238.8C590.3 237.4 588.5 235.9 586.7 234.4C584.9 232.8 583.1 231.3 581.4 229.7C579.7 228.0 578.0 226.3 576.3 224.6C574.7 222.9 573.1 221.1 571.6 219.2C570.1 217.3 568.6 215.4 567.2 213.4C565.8 211.5 564.4 209.4 563.2 207.3C561.9 205.2 560.7 203.1 559.6 200.9C558.5 198.7 557.5 196.5 556.6 194.2C555.6 191.9 554.8 189.6 554.0 187.3C553.2 184.9 552.5 182.5 552.0 180.1C551.4 177.7 550.9 175.3 550.4 172.9C550.0 170.4 549.7 167.9 549.4 165.5C549.2 163.0 549.0 160.5 548.9 158.0Z" fill="#fff" stroke="#231f20" stroke-width="1.25" />
<path d="M583.0 76.5C584.8 75.5 587.4 73.5 593.7 70.6C600.0 67.6 611.6 61.9 620.6 58.8C629.6 55.7 639.3 53.4 647.5 52.0C655.7 50.6 661.8 49.8 670.0 50.6C678.2 51.4 687.9 53.6 696.9 56.9C705.9 60.2 715.7 65.2 723.7 70.3C731.8 75.4 741.6 84.5 745.2 87.3" fill="none" stroke="#231f20" stroke-width="1.25" />
<path d="M779.3 146.9C779.6 149.9 780.9 159.5 781.0 165.0C781.1 170.5 780.8 173.9 779.9 180.0C779.0 186.1 778.4 194.0 775.7 201.8C773.1 209.6 769.3 219.4 764.0 227.0C758.7 234.6 750.0 242.0 743.9 247.1C737.8 252.2 729.9 256.0 727.1 257.8" fill="none" stroke="#231f20" stroke-width="1.25" />
<path d="M769.4 145.7C769.6 148.9 770.7 159.3 770.6 165.0C770.5 170.7 770.1 173.3 769.0 180.0C767.9 186.7 767.6 196.8 764.0 205.2C760.4 213.6 753.9 223.0 747.2 230.3C740.5 237.6 732.7 243.9 723.7 248.8C714.8 253.7 700.8 257.5 693.5 259.7C686.2 261.9 685.6 261.6 680.0 261.9C674.4 262.2 668.8 263.2 660.0 261.7C651.2 260.2 637.6 256.9 627.3 252.8C617.0 248.7 605.4 241.3 598.2 237.3C591.0 233.3 587.9 231.4 584.0 229.0C580.1 226.6 576.4 223.8 574.9 222.7" fill="none" stroke="#231f20" stroke-width="1.25" />
<path d="M559.4 150.0C559.7 144.2 560.6 139.1 563.3 133.0C566.0 126.9 570.7 119.8 575.8 113.5C580.9 107.2 586.2 101.2 593.7 95.5C601.2 89.8 611.6 83.2 620.6 79.5C629.6 75.8 640.0 74.0 647.5 73.1C655.0 72.2 658.7 72.6 665.4 74.2C672.1 75.8 681.2 79.3 687.9 82.8C694.6 86.3 700.4 90.5 705.8 95.4C711.2 100.3 716.6 106.6 720.2 112.4C723.8 118.2 725.9 124.0 727.3 130.3C728.6 136.6 728.5 143.1 728.3 150.0C728.1 156.9 727.1 165.9 726.3 171.6C725.5 177.3 724.5 180.8 723.5 184.0C722.5 187.2 721.6 189.1 720.5 191.0C719.4 192.9 718.9 193.9 717.0 195.2C715.1 196.5 713.6 196.9 709.0 198.8C704.4 200.7 697.5 204.5 689.3 206.5C681.1 208.5 668.2 210.2 660.0 210.8C651.8 211.5 647.1 211.2 640.0 210.4C632.9 209.6 626.2 208.7 617.6 206.2C609.0 203.7 596.3 199.0 588.5 195.6C580.7 192.2 574.9 187.9 571.0 185.5C567.1 183.1 566.8 183.9 565.2 181.0C563.6 178.1 562.4 173.2 561.4 168.0C560.4 162.8 559.1 155.8 559.4 150.0Z" fill="none" stroke="#231f20" stroke-width="1.25" />
<path d="M702.2 92.7C704.3 93.9 711.2 97.3 714.8 100.0C718.4 102.7 720.7 104.9 723.7 108.8C726.7 112.7 730.1 116.4 732.7 123.3C735.3 130.2 738.0 141.9 739.4 150.0C740.8 158.1 740.9 166.3 740.8 171.6C740.7 176.9 740.2 177.2 738.8 182.0C737.3 186.8 735.7 194.0 732.1 200.1C728.5 206.2 723.4 213.6 717.0 218.6C710.6 223.6 701.0 227.7 693.5 230.3C686.0 232.9 677.9 233.5 671.7 234.0C665.5 234.5 663.7 234.8 656.3 233.4C648.9 232.0 636.7 228.7 627.3 225.6C617.9 222.5 608.2 219.8 600.1 214.9C592.0 210.1 584.6 202.2 578.8 196.5C573.0 190.8 567.5 183.6 565.2 181.0" fill="none" stroke="#231f20" stroke-width="1.25" />
<path d="M754.2 83.7C752.8 84.5 748.0 86.2 745.5 88.5C743.0 90.8 740.1 95.8 739.0 97.2L739 101.8C740.0 103.5 742.8 108.1 745.0 112.0C747.2 115.9 749.7 120.7 752.0 125.0C754.3 129.3 757.6 135.5 758.7 137.6L758.7 140.3L766.7 140.8L787.3 143.4L788 146.3L777.5 147.2L769.4 145.7L758.7 140.3" fill="#fff" stroke="#231f20" stroke-width="1.25" />
<path d="M754.2 83.7L748.8 100.5L739.0 101.8" fill="none" stroke="#231f20" stroke-width="1.25" />
<path d="M748.8 100.5C749.7 102.2 752.0 106.9 754.0 111.0C756.0 115.1 758.4 120.0 760.5 125.0C762.6 130.0 765.7 138.2 766.7 140.8" fill="none" stroke="#231f20" stroke-width="1.25" />
<circle cx="751.5" cy="101.6" r="1.0" fill="#231f20"/>
<circle cx="756.0" cy="99.0" r="1.0" fill="#231f20"/>
<circle cx="760.4" cy="97.2" r="1.0" fill="#231f20"/>
<circle cx="757.8" cy="112.4" r="1.0" fill="#231f20"/>
<circle cx="763.1" cy="110.2" r="1.0" fill="#231f20"/>
<circle cx="768.2" cy="107.9" r="1.0" fill="#231f20"/>
<circle cx="763.1" cy="124.0" r="1.0" fill="#231f20"/>
<circle cx="769.4" cy="121.3" r="1.0" fill="#231f20"/>
<circle cx="774.8" cy="119.2" r="1.0" fill="#231f20"/>
<circle cx="767.6" cy="134.8" r="1.0" fill="#231f20"/>
<circle cx="773.9" cy="133.0" r="1.0" fill="#231f20"/>
<circle cx="779.6" cy="131.2" r="1.0" fill="#231f20"/>
<path d="M754.2 151.9L767.6 156.4V183.3H753.3Q757 167 754.2 151.9Z" fill="none" stroke="#231f20" stroke-width="1.25" />
<path d="M753.3 166.3L764.9 165.4L764.9 172.5L753.3 173.1Z" fill="#fff" stroke="#231f20" stroke-width="1.25" />
<rect x="547.6" y="131.5" width="2.8" height="6.5" rx="1" fill="#fff" stroke="#231f20" stroke-width="1"/>
<rect x="547.2" y="157.5" width="2.8" height="6.5" rx="1" fill="#fff" stroke="#231f20" stroke-width="1"/>
</g>
<g id="filter" stroke-linecap="round" stroke-linejoin="round">
<path d="M414.6 389.0L414.7 389.5L414.7 390.1L414.8 390.8L414.9 391.6L415.0 392.5L415.2 393.4L415.3 394.4L415.4 395.5L415.6 396.6L415.7 397.7L415.9 398.8L416.0 400.0L416.1 401.2L416.3 402.5L416.4 403.8L416.6 405.2L416.7 406.6L416.9 408.1L417.1 409.6L417.3 411.1L417.5 412.6L417.7 414.0L417.9 415.5L418.2 416.9L418.5 418.3L418.8 419.7L419.1 421.0L419.5 422.4L419.8 423.8L420.2 425.1L420.6 426.5L421.0 427.9L421.4 429.2L421.8 430.6L422.3 432.1L422.7 433.5L423.2 435.0L423.7 436.5L424.2 438.1L424.7 439.7L425.3 441.4L425.8 443.0L426.4 444.6L426.9 446.2L427.4 447.7L427.9 449.1L428.3 450.5L428.7 451.7L429.0 452.8L429.3 453.8L429.5 454.6L429.7 455.3L429.9 456.0L430.0 456.7L430.2 457.4L430.3 458.1L430.5 458.9L430.6 459.8L430.8 460.8L431.0 462.0L431.2 463.3L431.5 464.8L431.7 466.3L432.0 467.9L432.3 469.6L432.5 471.3L432.8 473.1L433.1 474.9L433.3 476.8L433.6 478.8L433.8 480.7L434.0 482.7L434.2 484.7L434.4 486.9L434.6 489.1L434.8 491.3L434.9 493.6L435.1 496.0L435.2 498.3L435.4 500.7L435.5 503.1L435.5 505.4L435.6 507.7L435.6 509.9L435.6 512.1L435.5 514.3L435.5 516.5L435.4 518.6L435.3 520.8L435.2 522.9L435.0 525.1L434.8 527.2L434.7 529.3L434.5 531.4L434.2 533.5L434.0 535.6L433.7 537.7L433.5 539.8L433.1 541.9L432.8 544.1L432.4 546.2L432.1 548.3L431.7 550.4L431.3 552.4L430.9 554.3L430.5 556.2L430.2 558.1L429.8 559.8L429.4 561.4L429.1 562.9L428.7 564.3L428.3 565.7L428.0 567.0L427.6 568.2L427.2 569.5L426.9 570.7L426.5 572.0L426.1 573.3L425.8 574.6L425.4 576.1L425.0 577.6L424.7 579.2L424.3 580.9L424.0 582.5L423.6 584.2L423.3 585.9L422.9 587.6L422.5 589.4L422.2 591.1L421.8 592.7L421.4 594.4L421.0 596.0L420.6 597.6L420.1 599.2L419.7 600.7L419.2 602.3L418.7 603.8L418.2 605.4L417.7 606.9L417.3 608.4L416.8 609.9L416.3 611.3L415.9 612.8L415.5 614.2L415.1 615.6L414.7 617.0L414.3 618.5L414.0 619.9L413.6 621.2L413.3 622.6L412.9 623.9L412.6 625.3L412.3 626.5L412.0 627.7L411.7 628.9L411.5 630.0L411.3 631.1L411.1 632.1L410.9 633.1L410.7 634.1L410.5 635.1L410.4 636.0L410.3 636.8L410.2 637.6L410.1 638.3L410.0 639.0L409.9 639.5L409.8 640.0L421.4 640.4L421.8 640.1L422.2 639.8L422.6 639.4L423.2 639.0L423.8 638.5L424.4 638.0L425.1 637.5L425.8 636.9L426.6 636.3L427.4 635.6L428.2 634.9L429.0 634.1L429.9 633.3L430.9 632.4L431.9 631.4L433.0 630.4L434.1 629.3L435.2 628.2L436.4 627.1L437.5 626.0L438.6 624.8L439.7 623.7L440.7 622.6L441.6 621.5L442.5 620.4L443.3 619.4L444.1 618.3L444.9 617.2L445.7 616.1L446.4 615.0L447.1 613.9L447.8 612.8L448.5 611.7L449.1 610.6L449.8 609.6L450.4 608.5L451.0 607.5L451.6 606.5L452.1 605.5L452.7 604.6L453.2 603.6L453.7 602.7L454.2 601.7L454.7 600.7L455.1 599.6L455.7 598.5L456.2 597.3L456.7 596.0L457.3 594.6L457.8 593.1L458.5 591.5L459.1 589.8L459.7 588.1L460.3 586.3L460.9 584.5L461.5 582.7L462.0 581.0L462.6 579.3L463.1 577.7L463.5 576.1L463.9 574.6L464.2 573.3L464.6 572.0L464.8 570.7L465.1 569.5L465.3 568.2L465.6 567.0L465.8 565.7L466.0 564.3L466.2 562.9L466.4 561.4L466.6 559.8L466.8 558.1L467.0 556.2L467.2 554.3L467.4 552.4L467.6 550.4L467.8 548.3L468.0 546.2L468.2 544.1L468.3 541.9L468.5 539.8L468.6 537.7L468.8 535.6L469.0 533.5L469.1 531.4L469.3 529.3L469.4 527.2L469.6 525.1L469.7 522.9L469.9 520.8L470.0 518.6L470.1 516.5L470.2 514.3L470.3 512.1L470.3 509.9L470.3 507.7L470.3 505.4L470.3 503.1L470.3 500.7L470.2 498.3L470.2 496.0L470.1 493.6L470.0 491.3L469.9 489.1L469.8 486.9L469.7 484.7L469.6 482.7L469.5 480.7L469.3 478.8L469.2 477.0L469.0 475.2L468.8 473.4L468.7 471.7L468.5 470.0L468.3 468.3L468.1 466.7L467.9 465.1L467.7 463.6L467.5 462.0L467.3 460.5L467.1 459.0L467.0 457.6L466.8 456.2L466.6 454.8L466.4 453.5L466.2 452.1L466.0 450.8L465.8 449.5L465.5 448.2L465.3 446.9L465.0 445.6L464.7 444.3L464.4 442.9L464.1 441.6L463.7 440.3L463.4 438.9L463.0 437.6L462.6 436.3L462.2 435.1L461.8 433.9L461.4 432.7L461.0 431.6L460.5 430.5L460.0 429.5L459.6 428.6L459.1 427.7L458.6 426.9L458.0 426.2L457.5 425.4L457.0 424.7L456.4 424.0L455.8 423.3L455.2 422.6L454.6 421.8L454.0 421.0L453.4 420.2L452.7 419.3L452.0 418.5L451.3 417.7L450.5 416.8L449.8 416.0L449.0 415.1L448.3 414.2L447.5 413.4L446.8 412.5L446.1 411.7L445.4 410.8L444.7 409.9L444.1 409.1L443.5 408.2L442.8 407.4L442.2 406.5L441.6 405.7L441.0 404.8L440.4 403.9L439.8 403.1L439.1 402.2L438.5 401.2L437.8 400.3L437.1 399.3L436.3 398.2L435.5 397.1L434.6 395.9L433.8 394.7L432.9 393.5L432.1 392.3L431.3 391.3L430.6 390.3L430.0 389.4L429.4 388.6L429.0 388.0Z" fill="#fff" stroke="none" stroke-width="0" />
<path d="M414.6 389.0L414.8 390.5L415.0 392.0L415.2 393.5L415.4 395.0L415.6 396.5L415.7 398.0L415.9 399.5L416.1 401.0L416.3 402.5L416.5 404.0L416.6 405.5L416.8 407.0L417.0 408.5L417.1 410.0L417.3 411.5L417.5 413.0L417.8 414.5L418.0 416.0L418.3 417.5L418.6 419.0L419.0 420.5L419.4 422.0L419.8 423.5L420.2 425.0L420.6 426.5L421.0 428.0L421.5 429.5L421.9 431.0L422.4 432.5L422.9 434.0L423.3 435.5L423.8 437.0L424.3 438.5L424.8 440.0L425.3 441.5L425.8 443.0L426.4 444.5L426.9 446.0L427.4 447.5L427.9 449.0L428.3 450.5L428.8 452.0L429.2 453.5L429.6 455.0L430.0 456.5L430.3 458.0L430.6 459.5L430.8 461.0L431.1 462.5L431.3 464.0L431.6 465.5L431.9 467.0L432.1 468.5L432.3 470.0L432.6 471.5L432.8 473.0L433.0 474.5L433.2 476.0L433.4 477.5L433.6 479.0L433.8 480.5L433.9 482.0L434.1 483.5L434.2 485.0L434.4 486.5L434.5 488.0L434.6 489.5L434.7 491.0L434.8 492.5L435.0 494.0L435.1 495.5L435.2 497.0L435.2 498.5L435.3 500.0L435.4 501.5L435.5 503.0L435.5 504.5L435.6 506.0L435.6 507.5L435.6 509.0L435.6 510.5L435.6 512.0L435.6 513.5L435.5 515.0L435.5 516.5L435.4 518.0L435.4 519.5L435.3 521.0L435.2 522.5L435.1 524.0L435.0 525.5L434.9 527.0L434.7 528.5L434.6 530.0L434.4 531.5L434.3 533.0L434.1 534.5L434.0 536.0L433.8 537.5L433.6 539.0L433.4 540.5L433.1 542.0L432.9 543.5L432.6 545.0L432.4 546.5L432.1 548.0L431.9 549.5L431.6 551.0L431.3 552.5L431.0 554.0L430.7 555.5L430.4 557.0L430.1 558.5L429.8 560.0L429.4 561.5L429.1 563.0L428.7 564.5L428.3 566.0L427.8 567.5L427.4 569.0L426.9 570.5L426.5 572.0L426.1 573.5L425.7 575.0L425.3 576.5L425.0 578.0L424.6 579.5L424.3 581.0L424.0 582.5L423.7 584.0L423.4 585.5L423.0 587.0L422.7 588.5L422.4 590.0L422.1 591.5L421.7 593.0L421.4 594.5L421.0 596.0L420.6 597.5L420.2 599.0L419.7 600.5L419.3 602.0L418.8 603.5L418.3 605.0L417.9 606.5L417.4 608.0L416.9 609.5L416.4 611.0L416.0 612.5L415.6 614.0L415.1 615.5L414.7 617.0L414.3 618.5L413.9 620.0L413.5 621.5L413.2 623.0L412.8 624.5L412.4 626.0L412.1 627.5L411.7 629.0L411.4 630.5L411.1 632.0L410.8 633.5L410.6 635.0L410.3 636.5L410.1 638.0L409.9 639.5L415.1 639.5L416.1 638.0L416.9 636.5L417.8 635.0L418.6 633.5L419.5 632.0L420.3 630.5L421.1 629.0L422.0 627.5L422.8 626.0L423.6 624.5L424.4 623.0L425.2 621.5L425.9 620.0L426.6 618.5L427.3 617.0L428.0 615.5L428.6 614.0L429.3 612.5L429.9 611.0L430.6 609.5L431.2 608.0L431.9 606.5L432.5 605.0L433.1 603.5L433.7 602.0L434.3 600.5L434.8 599.0L435.3 597.5L435.8 596.0L436.3 594.5L436.7 593.0L437.2 591.5L437.6 590.0L438.0 588.5L438.4 587.0L438.8 585.5L439.2 584.0L439.6 582.5L440.0 581.0L440.3 579.5L440.7 578.0L441.1 576.5L441.5 575.0L441.9 573.5L442.3 572.0L442.7 570.5L443.1 569.0L443.4 567.5L443.8 566.0L444.1 564.5L444.5 563.0L444.8 561.5L445.0 560.0L445.3 558.5L445.6 557.0L445.8 555.5L446.0 554.0L446.3 552.5L446.5 551.0L446.7 549.5L446.9 548.0L447.1 546.5L447.3 545.0L447.5 543.5L447.7 542.0L447.9 540.5L448.1 539.0L448.2 537.5L448.4 536.0L448.5 534.5L448.7 533.0L448.8 531.5L449.0 530.0L449.1 528.5L449.2 527.0L449.3 525.5L449.4 524.0L449.5 522.5L449.6 521.0L449.7 519.5L449.8 518.0L449.8 516.5L449.9 515.0L449.9 513.5L450.0 512.0L450.0 510.5L450.0 509.0L450.0 507.5L450.0 506.0L450.0 504.5L449.9 503.0L449.9 501.5L449.8 500.0L449.8 498.5L449.7 497.0L449.6 495.5L449.5 494.0L449.5 492.5L449.4 491.0L449.3 489.5L449.2 488.0L449.1 486.5L449.0 485.0L448.8 483.5L448.7 482.0L448.6 480.5L448.4 479.0L448.3 477.5L448.1 476.0L447.9 474.5L447.7 473.0L447.5 471.5L447.3 470.0L447.1 468.5L446.9 467.0L446.7 465.5L446.5 464.0L446.2 462.5L446.0 461.0L445.8 459.5L445.5 458.0L445.3 456.5L445.0 455.0L444.7 453.5L444.3 452.0L443.9 450.5L443.6 449.0L443.2 447.5L442.7 446.0L442.3 444.5L441.8 443.0L441.4 441.5L440.9 440.0L440.5 438.5L440.0 437.0L439.5 435.5L439.0 434.0L438.6 432.5L438.0 431.0L437.5 429.5L436.9 428.0L436.2 426.5L435.5 425.0L434.8 423.5L434.1 422.0L433.4 420.5L432.7 419.0L431.9 417.5L431.2 416.0L430.5 414.5L429.8 413.0L429.2 411.5L428.6 410.0L428.0 408.5L427.5 407.0L426.9 405.5L426.4 404.0L425.9 402.5L425.3 401.0L424.8 399.5L424.2 398.0L423.7 396.5L423.1 395.0L422.5 393.5L422.0 392.0L421.4 390.5L420.9 389.0Z" fill="#3a3637" stroke="none" stroke-width="0" />
<g fill="#fff"><circle cx="417.1" cy="392.0" r="0.32"/><circle cx="417.6" cy="394.6" r="0.38"/><circle cx="418.2" cy="397.3" r="0.43"/><circle cx="418.7" cy="399.9" r="0.49"/><circle cx="419.2" cy="402.6" r="0.54"/><circle cx="419.7" cy="405.2" r="0.60"/><circle cx="420.2" cy="407.9" r="0.66"/><circle cx="420.7" cy="410.5" r="0.72"/><circle cx="421.3" cy="413.2" r="0.72"/><circle cx="422.0" cy="415.8" r="0.72"/><circle cx="422.7" cy="418.5" r="0.72"/><circle cx="423.5" cy="421.1" r="0.72"/><circle cx="424.4" cy="423.8" r="0.72"/><circle cx="425.3" cy="426.4" r="0.72"/><circle cx="426.2" cy="429.1" r="0.72"/><circle cx="427.0" cy="431.7" r="0.72"/><circle cx="427.9" cy="434.4" r="0.72"/><circle cx="428.7" cy="437.0" r="0.72"/><circle cx="429.6" cy="439.7" r="0.72"/><circle cx="430.4" cy="442.3" r="0.72"/><circle cx="431.3" cy="445.0" r="0.72"/><circle cx="432.2" cy="447.6" r="0.72"/><circle cx="433.0" cy="450.3" r="0.72"/><circle cx="433.7" cy="452.9" r="0.72"/><circle cx="434.4" cy="455.6" r="0.72"/><circle cx="434.9" cy="458.2" r="0.72"/><circle cx="435.4" cy="460.9" r="0.72"/><circle cx="435.8" cy="463.5" r="0.72"/><circle cx="436.3" cy="466.2" r="0.72"/><circle cx="436.7" cy="468.8" r="0.72"/><circle cx="437.1" cy="471.5" r="0.72"/><circle cx="437.5" cy="474.1" r="0.72"/><circle cx="437.8" cy="476.8" r="0.72"/><circle cx="438.1" cy="479.4" r="0.72"/><circle cx="438.4" cy="482.1" r="0.72"/><circle cx="438.6" cy="484.7" r="0.72"/><circle cx="438.9" cy="487.4" r="0.72"/><circle cx="439.1" cy="490.0" r="0.72"/><circle cx="439.3" cy="492.7" r="0.72"/><circle cx="439.4" cy="495.3" r="0.72"/><circle cx="439.6" cy="498.0" r="0.72"/><circle cx="439.7" cy="500.6" r="0.72"/><circle cx="439.8" cy="503.3" r="0.72"/><circle cx="439.9" cy="505.9" r="0.72"/><circle cx="439.9" cy="508.6" r="0.72"/><circle cx="439.9" cy="511.2" r="0.72"/><circle cx="439.9" cy="513.9" r="0.72"/><circle cx="439.8" cy="516.5" r="0.72"/><circle cx="439.7" cy="519.2" r="0.72"/><circle cx="439.6" cy="521.8" r="0.72"/><circle cx="439.4" cy="524.5" r="0.72"/><circle cx="439.2" cy="527.1" r="0.72"/><circle cx="438.9" cy="529.8" r="0.72"/><circle cx="438.7" cy="532.4" r="0.72"/><circle cx="438.4" cy="535.1" r="0.72"/><circle cx="438.1" cy="537.7" r="0.72"/><circle cx="437.8" cy="540.4" r="0.72"/><circle cx="437.4" cy="543.0" r="0.72"/><circle cx="437.0" cy="545.7" r="0.72"/><circle cx="436.5" cy="548.3" r="0.72"/><circle cx="436.1" cy="551.0" r="0.72"/><circle cx="435.6" cy="553.6" r="0.72"/><circle cx="435.1" cy="556.3" r="0.72"/><circle cx="434.6" cy="558.9" r="0.72"/><circle cx="434.0" cy="561.6" r="0.72"/><circle cx="433.4" cy="564.2" r="0.72"/><circle cx="432.7" cy="566.9" r="0.72"/><circle cx="431.9" cy="569.5" r="0.72"/><circle cx="431.2" cy="572.2" r="0.72"/><circle cx="430.5" cy="574.8" r="0.72"/><circle cx="429.8" cy="577.5" r="0.72"/><circle cx="429.2" cy="580.1" r="0.72"/><circle cx="428.6" cy="582.8" r="0.72"/><circle cx="428.0" cy="585.4" r="0.72"/><circle cx="427.4" cy="588.1" r="0.72"/><circle cx="426.8" cy="590.7" r="0.72"/><circle cx="426.2" cy="593.4" r="0.72"/><circle cx="425.4" cy="596.0" r="0.72"/><circle cx="424.7" cy="598.7" r="0.72"/><circle cx="423.8" cy="601.3" r="0.72"/><circle cx="422.9" cy="604.0" r="0.72"/><circle cx="422.0" cy="606.6" r="0.72"/><circle cx="421.1" cy="609.3" r="0.72"/><circle cx="420.2" cy="611.9" r="0.72"/><circle cx="419.3" cy="614.6" r="0.72"/><circle cx="418.4" cy="617.2" r="0.72"/><circle cx="417.6" cy="619.9" r="0.72"/><circle cx="416.7" cy="622.5" r="0.70"/><circle cx="415.8" cy="625.2" r="0.63"/><circle cx="414.9" cy="627.8" r="0.56"/><circle cx="414.1" cy="630.5" r="0.48"/><circle cx="413.3" cy="633.1" r="0.40"/><circle cx="412.5" cy="635.8" r="0.31"/><circle cx="419.0" cy="393.3" r="0.35"/><circle cx="419.7" cy="395.9" r="0.40"/><circle cx="420.4" cy="398.6" r="0.46"/><circle cx="421.1" cy="401.2" r="0.52"/><circle cx="421.7" cy="403.9" r="0.57"/><circle cx="422.3" cy="406.5" r="0.63"/><circle cx="423.0" cy="409.2" r="0.69"/><circle cx="423.7" cy="411.8" r="0.72"/><circle cx="424.5" cy="414.5" r="0.72"/><circle cx="425.4" cy="417.1" r="0.72"/><circle cx="426.4" cy="419.8" r="0.72"/><circle cx="427.3" cy="422.4" r="0.72"/><circle cx="428.4" cy="425.1" r="0.72"/><circle cx="429.4" cy="427.7" r="0.72"/><circle cx="430.3" cy="430.4" r="0.72"/><circle cx="431.1" cy="433.0" r="0.72"/><circle cx="432.0" cy="435.7" r="0.72"/><circle cx="432.8" cy="438.3" r="0.72"/><circle cx="433.7" cy="441.0" r="0.72"/><circle cx="434.5" cy="443.6" r="0.72"/><circle cx="435.4" cy="446.3" r="0.72"/><circle cx="436.2" cy="448.9" r="0.72"/><circle cx="436.9" cy="451.6" r="0.72"/><circle cx="437.6" cy="454.2" r="0.72"/><circle cx="438.2" cy="456.9" r="0.72"/><circle cx="438.6" cy="459.5" r="0.72"/><circle cx="439.1" cy="462.2" r="0.72"/><circle cx="439.5" cy="464.8" r="0.72"/><circle cx="439.9" cy="467.5" r="0.72"/><circle cx="440.3" cy="470.1" r="0.72"/><circle cx="440.7" cy="472.8" r="0.72"/><circle cx="441.0" cy="475.4" r="0.72"/><circle cx="441.4" cy="478.1" r="0.72"/><circle cx="441.6" cy="480.7" r="0.72"/><circle cx="441.9" cy="483.4" r="0.72"/><circle cx="442.1" cy="486.0" r="0.72"/><circle cx="442.3" cy="488.7" r="0.72"/><circle cx="442.5" cy="491.3" r="0.72"/><circle cx="442.7" cy="494.0" r="0.72"/><circle cx="442.8" cy="496.6" r="0.72"/><circle cx="443.0" cy="499.3" r="0.72"/><circle cx="443.1" cy="501.9" r="0.72"/><circle cx="443.2" cy="504.6" r="0.72"/><circle cx="443.2" cy="507.2" r="0.72"/><circle cx="443.2" cy="509.9" r="0.72"/><circle cx="443.2" cy="512.5" r="0.72"/><circle cx="443.1" cy="515.2" r="0.72"/><circle cx="443.0" cy="517.8" r="0.72"/><circle cx="442.9" cy="520.5" r="0.72"/><circle cx="442.8" cy="523.1" r="0.72"/><circle cx="442.6" cy="525.8" r="0.72"/><circle cx="442.3" cy="528.4" r="0.72"/><circle cx="442.1" cy="531.1" r="0.72"/><circle cx="441.8" cy="533.7" r="0.72"/><circle cx="441.6" cy="536.4" r="0.72"/><circle cx="441.3" cy="539.0" r="0.72"/><circle cx="440.9" cy="541.7" r="0.72"/><circle cx="440.5" cy="544.3" r="0.72"/><circle cx="440.1" cy="547.0" r="0.72"/><circle cx="439.7" cy="549.6" r="0.72"/><circle cx="439.3" cy="552.3" r="0.72"/><circle cx="438.8" cy="554.9" r="0.72"/><circle cx="438.3" cy="557.6" r="0.72"/><circle cx="437.8" cy="560.2" r="0.72"/><circle cx="437.2" cy="562.9" r="0.72"/><circle cx="436.6" cy="565.5" r="0.72"/><circle cx="435.9" cy="568.2" r="0.72"/><circle cx="435.2" cy="570.8" r="0.72"/><circle cx="434.5" cy="573.5" r="0.72"/><circle cx="433.8" cy="576.1" r="0.72"/><circle cx="433.1" cy="578.8" r="0.72"/><circle cx="432.5" cy="581.4" r="0.72"/><circle cx="431.9" cy="584.1" r="0.72"/><circle cx="431.2" cy="586.7" r="0.72"/><circle cx="430.6" cy="589.4" r="0.72"/><circle cx="429.9" cy="592.0" r="0.72"/><circle cx="429.2" cy="594.7" r="0.72"/><circle cx="428.5" cy="597.3" r="0.72"/><circle cx="427.6" cy="600.0" r="0.72"/><circle cx="426.7" cy="602.6" r="0.72"/><circle cx="425.7" cy="605.3" r="0.72"/><circle cx="424.7" cy="607.9" r="0.72"/><circle cx="423.7" cy="610.6" r="0.72"/><circle cx="422.8" cy="613.2" r="0.72"/><circle cx="421.8" cy="615.9" r="0.72"/><circle cx="420.8" cy="618.5" r="0.72"/><circle cx="419.8" cy="621.2" r="0.72"/><circle cx="418.8" cy="623.8" r="0.67"/><circle cx="417.7" cy="626.5" r="0.60"/><circle cx="416.7" cy="629.1" r="0.52"/><circle cx="415.6" cy="631.8" r="0.44"/><circle cx="414.6" cy="634.4" r="0.36"/><circle cx="413.6" cy="637.1" r="0.29"/><circle cx="420.3" cy="392.0" r="0.32"/><circle cx="421.1" cy="394.6" r="0.38"/><circle cx="422.0" cy="397.3" r="0.43"/><circle cx="422.8" cy="399.9" r="0.49"/><circle cx="423.6" cy="402.6" r="0.54"/><circle cx="424.4" cy="405.2" r="0.60"/><circle cx="425.2" cy="407.9" r="0.66"/><circle cx="426.0" cy="410.5" r="0.72"/><circle cx="427.0" cy="413.2" r="0.72"/><circle cx="428.0" cy="415.8" r="0.72"/><circle cx="429.1" cy="418.5" r="0.72"/><circle cx="430.2" cy="421.1" r="0.72"/><circle cx="431.3" cy="423.8" r="0.72"/><circle cx="432.4" cy="426.4" r="0.72"/><circle cx="433.5" cy="429.1" r="0.72"/><circle cx="434.4" cy="431.7" r="0.72"/><circle cx="435.3" cy="434.4" r="0.72"/><circle cx="436.1" cy="437.0" r="0.72"/><circle cx="437.0" cy="439.7" r="0.72"/><circle cx="437.8" cy="442.3" r="0.72"/><circle cx="438.6" cy="445.0" r="0.72"/><circle cx="439.4" cy="447.6" r="0.72"/><circle cx="440.1" cy="450.3" r="0.72"/><circle cx="440.8" cy="452.9" r="0.72"/><circle cx="441.4" cy="455.6" r="0.72"/><circle cx="441.9" cy="458.2" r="0.72"/><circle cx="442.3" cy="460.9" r="0.72"/><circle cx="442.7" cy="463.5" r="0.72"/><circle cx="443.2" cy="466.2" r="0.72"/><circle cx="443.6" cy="468.8" r="0.72"/><circle cx="443.9" cy="471.5" r="0.72"/><circle cx="444.3" cy="474.1" r="0.72"/><circle cx="444.6" cy="476.8" r="0.72"/><circle cx="444.9" cy="479.4" r="0.72"/><circle cx="445.2" cy="482.1" r="0.72"/><circle cx="445.4" cy="484.7" r="0.72"/><circle cx="445.6" cy="487.4" r="0.72"/><circle cx="445.8" cy="490.0" r="0.72"/><circle cx="445.9" cy="492.7" r="0.72"/><circle cx="446.1" cy="495.3" r="0.72"/><circle cx="446.2" cy="498.0" r="0.72"/><circle cx="446.4" cy="500.6" r="0.72"/><circle cx="446.4" cy="503.3" r="0.72"/><circle cx="446.5" cy="505.9" r="0.72"/><circle cx="446.5" cy="508.6" r="0.72"/><circle cx="446.5" cy="511.2" r="0.72"/><circle cx="446.5" cy="513.9" r="0.72"/><circle cx="446.4" cy="516.5" r="0.72"/><circle cx="446.3" cy="519.2" r="0.72"/><circle cx="446.1" cy="521.8" r="0.72"/><circle cx="445.9" cy="524.5" r="0.72"/><circle cx="445.7" cy="527.1" r="0.72"/><circle cx="445.5" cy="529.8" r="0.72"/><circle cx="445.3" cy="532.4" r="0.72"/><circle cx="445.0" cy="535.1" r="0.72"/><circle cx="444.7" cy="537.7" r="0.72"/><circle cx="444.4" cy="540.4" r="0.72"/><circle cx="444.1" cy="543.0" r="0.72"/><circle cx="443.7" cy="545.7" r="0.72"/><circle cx="443.3" cy="548.3" r="0.72"/><circle cx="442.9" cy="551.0" r="0.72"/><circle cx="442.5" cy="553.6" r="0.72"/><circle cx="442.0" cy="556.3" r="0.72"/><circle cx="441.5" cy="558.9" r="0.72"/><circle cx="441.0" cy="561.6" r="0.72"/><circle cx="440.5" cy="564.2" r="0.72"/><circle cx="439.8" cy="566.9" r="0.72"/><circle cx="439.1" cy="569.5" r="0.72"/><circle cx="438.4" cy="572.2" r="0.72"/><circle cx="437.7" cy="574.8" r="0.72"/><circle cx="437.1" cy="577.5" r="0.72"/><circle cx="436.4" cy="580.1" r="0.72"/><circle cx="435.7" cy="582.8" r="0.72"/><circle cx="435.1" cy="585.4" r="0.72"/><circle cx="434.4" cy="588.1" r="0.72"/><circle cx="433.7" cy="590.7" r="0.72"/><circle cx="433.0" cy="593.4" r="0.72"/><circle cx="432.2" cy="596.0" r="0.72"/><circle cx="431.4" cy="598.7" r="0.72"/><circle cx="430.5" cy="601.3" r="0.72"/><circle cx="429.5" cy="604.0" r="0.72"/><circle cx="428.4" cy="606.6" r="0.72"/><circle cx="427.4" cy="609.3" r="0.72"/><circle cx="426.3" cy="611.9" r="0.72"/><circle cx="425.2" cy="614.6" r="0.72"/><circle cx="424.2" cy="617.2" r="0.72"/><circle cx="423.1" cy="619.9" r="0.72"/><circle cx="421.9" cy="622.5" r="0.70"/><circle cx="420.7" cy="625.2" r="0.63"/><circle cx="419.4" cy="627.8" r="0.56"/><circle cx="418.1" cy="630.5" r="0.48"/><circle cx="416.9" cy="633.1" r="0.40"/><circle cx="415.7" cy="635.8" r="0.31"/></g>
<path d="M414.6 389.0C414.8 390.8 415.4 395.4 416.0 400.0C416.6 404.6 417.1 411.3 418.2 416.9C419.3 422.5 420.9 427.7 422.7 433.5C424.4 439.3 427.3 446.9 428.7 451.7C430.1 456.4 430.1 456.8 431.0 462.0C431.9 467.2 433.2 474.7 434.0 482.7C434.8 490.7 435.6 501.1 435.6 509.9C435.6 518.7 435.0 527.3 434.0 535.6C433.0 543.9 431.2 553.0 429.8 559.8C428.4 566.5 426.9 570.1 425.4 576.1C423.9 582.1 422.6 589.6 421.0 596.0C419.4 602.4 417.1 608.5 415.5 614.2C413.9 619.9 412.4 625.7 411.5 630.0C410.6 634.3 410.1 638.3 409.8 640.0" fill="none" stroke="#231f20" stroke-width="1.6" />
<path d="M415.9 392.0C416.1 393.0 416.6 396.0 416.9 398.0C417.2 400.0 417.5 402.0 417.8 404.0C418.1 406.0 418.3 408.0 418.7 410.0C419.0 412.0 419.3 414.0 419.8 416.0C420.2 418.0 420.8 420.0 421.3 422.0C421.9 424.0 422.5 426.0 423.1 428.0C423.8 430.0 424.4 432.0 425.0 434.0C425.6 436.0 426.3 438.0 427.0 440.0C427.6 442.0 428.3 444.0 429.0 446.0C429.6 448.0 430.3 450.0 430.8 452.0C431.4 454.0 431.9 456.0 432.3 458.0C432.7 460.0 433.0 462.0 433.3 464.0C433.7 466.0 434.0 468.0 434.3 470.0C434.6 472.0 434.9 474.0 435.2 476.0C435.5 478.0 435.7 480.0 435.9 482.0C436.1 484.0 436.3 486.0 436.4 488.0C436.6 490.0 436.8 492.0 436.9 494.0C437.0 496.0 437.1 498.0 437.2 500.0C437.3 502.0 437.4 504.0 437.5 506.0C437.5 508.0 437.5 510.0 437.5 512.0C437.5 514.0 437.4 516.0 437.3 518.0C437.2 520.0 437.1 522.0 437.0 524.0C436.9 526.0 436.7 528.0 436.5 530.0C436.3 532.0 436.1 534.0 435.9 536.0C435.6 538.0 435.4 540.0 435.1 542.0C434.8 544.0 434.4 546.0 434.1 548.0C433.7 550.0 433.4 552.0 433.0 554.0C432.6 556.0 432.2 558.0 431.8 560.0C431.3 562.0 430.9 564.0 430.3 566.0C429.8 568.0 429.1 570.0 428.6 572.0C428.0 574.0 427.5 576.0 427.0 578.0C426.6 580.0 426.2 582.0 425.7 584.0C425.3 586.0 424.9 588.0 424.4 590.0C424.0 592.0 423.5 594.0 423.0 596.0C422.4 598.0 421.8 600.0 421.2 602.0C420.6 604.0 419.9 606.0 419.2 608.0C418.6 610.0 417.9 612.0 417.3 614.0C416.7 616.0 416.1 618.0 415.5 620.0C414.9 622.0 414.4 624.0 413.8 626.0C413.2 628.0 412.5 631.0 412.2 632.0" fill="none" stroke="#fff" stroke-width="0.9" />
<g fill="#fff" stroke="#231f20" stroke-width="1.65"><circle cx="423.1" cy="391.0" r="1.06"/><circle cx="425.3" cy="396.2" r="1.26"/><circle cx="427.5" cy="401.4" r="1.46"/><circle cx="429.6" cy="406.6" r="1.66"/><circle cx="431.9" cy="411.8" r="1.87"/><circle cx="434.6" cy="417.0" r="1.95"/><circle cx="437.4" cy="422.2" r="1.95"/><circle cx="440.0" cy="427.4" r="1.95"/><circle cx="442.1" cy="432.6" r="1.95"/><circle cx="443.8" cy="437.8" r="1.95"/><circle cx="445.3" cy="443.0" r="1.95"/><circle cx="446.8" cy="448.2" r="1.95"/><circle cx="448.0" cy="453.4" r="1.95"/><circle cx="448.9" cy="458.6" r="1.95"/><circle cx="449.7" cy="463.8" r="1.95"/><circle cx="450.5" cy="469.0" r="1.95"/><circle cx="451.1" cy="474.2" r="1.95"/><circle cx="451.7" cy="479.4" r="1.95"/><circle cx="452.1" cy="484.6" r="1.95"/><circle cx="452.5" cy="489.8" r="1.95"/><circle cx="452.8" cy="495.0" r="1.95"/><circle cx="453.0" cy="500.2" r="1.95"/><circle cx="453.1" cy="505.4" r="1.95"/><circle cx="453.1" cy="510.6" r="1.95"/><circle cx="453.0" cy="515.8" r="1.95"/><circle cx="452.7" cy="521.0" r="1.95"/><circle cx="452.4" cy="526.2" r="1.95"/><circle cx="452.0" cy="531.4" r="1.95"/><circle cx="451.5" cy="536.6" r="1.95"/><circle cx="450.9" cy="541.8" r="1.95"/><circle cx="450.3" cy="547.0" r="1.95"/><circle cx="449.6" cy="552.2" r="1.95"/><circle cx="448.8" cy="557.4" r="1.95"/><circle cx="447.9" cy="562.6" r="1.95"/><circle cx="446.8" cy="567.8" r="1.95"/><circle cx="445.4" cy="573.0" r="1.95"/><circle cx="444.1" cy="578.2" r="1.95"/><circle cx="442.7" cy="583.4" r="1.95"/><circle cx="441.3" cy="588.6" r="1.95"/><circle cx="439.7" cy="593.8" r="1.95"/><circle cx="438.0" cy="599.0" r="1.95"/><circle cx="435.9" cy="604.2" r="1.95"/><circle cx="433.6" cy="609.4" r="1.95"/><circle cx="431.2" cy="614.6" r="1.95"/><circle cx="428.6" cy="619.8" r="1.88"/><circle cx="425.7" cy="625.0" r="1.67"/><circle cx="422.4" cy="630.2" r="1.41"/><circle cx="419.1" cy="635.4" r="1.11"/><circle cx="427.1" cy="393.6" r="1.16"/><circle cx="429.8" cy="398.8" r="1.36"/><circle cx="432.5" cy="404.0" r="1.56"/><circle cx="435.2" cy="409.2" r="1.76"/><circle cx="438.3" cy="414.4" r="1.95"/><circle cx="441.6" cy="419.6" r="1.95"/><circle cx="444.8" cy="424.8" r="1.95"/><circle cx="447.5" cy="430.0" r="1.95"/><circle cx="449.4" cy="435.2" r="1.95"/><circle cx="451.0" cy="440.4" r="1.95"/><circle cx="452.4" cy="445.6" r="1.95"/><circle cx="453.6" cy="450.8" r="1.95"/><circle cx="454.6" cy="456.0" r="1.95"/><circle cx="455.3" cy="461.2" r="1.95"/><circle cx="456.1" cy="466.4" r="1.95"/><circle cx="456.8" cy="471.6" r="1.95"/><circle cx="457.3" cy="476.8" r="1.95"/><circle cx="457.8" cy="482.0" r="1.95"/><circle cx="458.1" cy="487.2" r="1.95"/><circle cx="458.4" cy="492.4" r="1.95"/><circle cx="458.7" cy="497.6" r="1.95"/><circle cx="458.8" cy="502.8" r="1.95"/><circle cx="458.9" cy="508.0" r="1.95"/><circle cx="458.8" cy="513.2" r="1.95"/><circle cx="458.6" cy="518.4" r="1.95"/><circle cx="458.3" cy="523.6" r="1.95"/><circle cx="457.9" cy="528.8" r="1.95"/><circle cx="457.5" cy="534.0" r="1.95"/><circle cx="457.0" cy="539.2" r="1.95"/><circle cx="456.4" cy="544.4" r="1.95"/><circle cx="455.9" cy="549.6" r="1.95"/><circle cx="455.2" cy="554.8" r="1.95"/><circle cx="454.4" cy="560.0" r="1.95"/><circle cx="453.5" cy="565.2" r="1.95"/><circle cx="452.4" cy="570.4" r="1.95"/><circle cx="451.1" cy="575.6" r="1.95"/><circle cx="449.6" cy="580.8" r="1.95"/><circle cx="448.1" cy="586.0" r="1.95"/><circle cx="446.5" cy="591.2" r="1.95"/><circle cx="444.8" cy="596.4" r="1.95"/><circle cx="442.7" cy="601.6" r="1.95"/><circle cx="440.3" cy="606.8" r="1.95"/><circle cx="437.7" cy="612.0" r="1.95"/><circle cx="434.9" cy="617.2" r="1.95"/><circle cx="431.7" cy="622.4" r="1.79"/><circle cx="428.0" cy="627.6" r="1.55"/><circle cx="424.0" cy="632.8" r="1.26"/><circle cx="419.7" cy="638.0" r="0.93"/><circle cx="428.5" cy="391.0" r="1.06"/><circle cx="431.7" cy="396.2" r="1.26"/><circle cx="434.9" cy="401.4" r="1.46"/><circle cx="438.1" cy="406.6" r="1.66"/><circle cx="441.4" cy="411.8" r="1.87"/><circle cx="445.3" cy="417.0" r="1.95"/><circle cx="449.1" cy="422.2" r="1.95"/><circle cx="452.6" cy="427.4" r="1.95"/><circle cx="454.9" cy="432.6" r="1.95"/><circle cx="456.6" cy="437.8" r="1.95"/><circle cx="458.0" cy="443.0" r="1.95"/><circle cx="459.3" cy="448.2" r="1.95"/><circle cx="460.3" cy="453.4" r="1.95"/><circle cx="461.0" cy="458.6" r="1.95"/><circle cx="461.7" cy="463.8" r="1.95"/><circle cx="462.4" cy="469.0" r="1.95"/><circle cx="463.0" cy="474.2" r="1.95"/><circle cx="463.5" cy="479.4" r="1.95"/><circle cx="463.8" cy="484.6" r="1.95"/><circle cx="464.1" cy="489.8" r="1.95"/><circle cx="464.4" cy="495.0" r="1.95"/><circle cx="464.5" cy="500.2" r="1.95"/><circle cx="464.6" cy="505.4" r="1.95"/><circle cx="464.6" cy="510.6" r="1.95"/><circle cx="464.4" cy="515.8" r="1.95"/><circle cx="464.1" cy="521.0" r="1.95"/><circle cx="463.8" cy="526.2" r="1.95"/><circle cx="463.4" cy="531.4" r="1.95"/><circle cx="463.0" cy="536.6" r="1.95"/><circle cx="462.5" cy="541.8" r="1.95"/><circle cx="462.0" cy="547.0" r="1.95"/><circle cx="461.5" cy="552.2" r="1.95"/><circle cx="460.9" cy="557.4" r="1.95"/><circle cx="460.1" cy="562.6" r="1.95"/><circle cx="459.2" cy="567.8" r="1.95"/><circle cx="458.0" cy="573.0" r="1.95"/><circle cx="456.6" cy="578.2" r="1.95"/><circle cx="455.1" cy="583.4" r="1.95"/><circle cx="453.4" cy="588.6" r="1.95"/><circle cx="451.6" cy="593.8" r="1.95"/><circle cx="449.6" cy="599.0" r="1.95"/><circle cx="447.2" cy="604.2" r="1.95"/><circle cx="444.4" cy="609.4" r="1.95"/><circle cx="441.5" cy="614.6" r="1.95"/><circle cx="438.2" cy="619.8" r="1.88"/><circle cx="434.2" cy="625.0" r="1.67"/><circle cx="429.6" cy="630.2" r="1.41"/><circle cx="424.8" cy="635.4" r="1.11"/></g>
<g fill="#231f20"><circle cx="425.0" cy="392.3" r="0.7"/><circle cx="426.3" cy="394.9" r="0.7"/><circle cx="427.5" cy="397.5" r="0.7"/><circle cx="428.7" cy="400.1" r="0.7"/><circle cx="429.9" cy="402.7" r="0.7"/><circle cx="431.1" cy="405.3" r="0.7"/><circle cx="432.4" cy="407.9" r="0.7"/><circle cx="433.6" cy="410.5" r="0.7"/><circle cx="435.0" cy="413.1" r="0.7"/><circle cx="436.5" cy="415.7" r="0.7"/><circle cx="438.1" cy="418.3" r="0.7"/><circle cx="439.6" cy="420.9" r="0.7"/><circle cx="441.0" cy="423.5" r="0.7"/><circle cx="442.5" cy="426.1" r="0.7"/><circle cx="443.8" cy="428.7" r="0.7"/><circle cx="444.8" cy="431.3" r="0.7"/><circle cx="445.7" cy="433.9" r="0.7"/><circle cx="446.6" cy="436.5" r="0.7"/><circle cx="447.4" cy="439.1" r="0.7"/><circle cx="448.1" cy="441.7" r="0.7"/><circle cx="448.9" cy="444.3" r="0.7"/><circle cx="449.6" cy="446.9" r="0.7"/><circle cx="450.2" cy="449.5" r="0.7"/><circle cx="450.8" cy="452.1" r="0.7"/><circle cx="451.3" cy="454.7" r="0.7"/><circle cx="451.8" cy="457.3" r="0.7"/><circle cx="452.1" cy="459.9" r="0.7"/><circle cx="452.5" cy="462.5" r="0.7"/><circle cx="452.9" cy="465.1" r="0.7"/><circle cx="453.3" cy="467.7" r="0.7"/><circle cx="453.6" cy="470.3" r="0.7"/><circle cx="453.9" cy="472.9" r="0.7"/><circle cx="454.2" cy="475.5" r="0.7"/><circle cx="454.5" cy="478.1" r="0.7"/><circle cx="454.8" cy="480.7" r="0.7"/><circle cx="455.0" cy="483.3" r="0.7"/><circle cx="455.1" cy="485.9" r="0.7"/><circle cx="455.3" cy="488.5" r="0.7"/><circle cx="455.5" cy="491.1" r="0.7"/><circle cx="455.6" cy="493.7" r="0.7"/><circle cx="455.7" cy="496.3" r="0.7"/><circle cx="455.8" cy="498.9" r="0.7"/><circle cx="455.9" cy="501.5" r="0.7"/><circle cx="456.0" cy="504.1" r="0.7"/><circle cx="456.0" cy="506.7" r="0.7"/><circle cx="456.0" cy="509.3" r="0.7"/><circle cx="456.0" cy="511.9" r="0.7"/><circle cx="455.9" cy="514.5" r="0.7"/><circle cx="455.8" cy="517.1" r="0.7"/><circle cx="455.7" cy="519.7" r="0.7"/><circle cx="455.5" cy="522.3" r="0.7"/><circle cx="455.3" cy="524.9" r="0.7"/><circle cx="455.1" cy="527.5" r="0.7"/><circle cx="454.9" cy="530.1" r="0.7"/><circle cx="454.7" cy="532.7" r="0.7"/><circle cx="454.5" cy="535.3" r="0.7"/><circle cx="454.2" cy="537.9" r="0.7"/><circle cx="454.0" cy="540.5" r="0.7"/><circle cx="453.7" cy="543.1" r="0.7"/><circle cx="453.4" cy="545.7" r="0.7"/><circle cx="453.1" cy="548.3" r="0.7"/><circle cx="452.7" cy="550.9" r="0.7"/><circle cx="452.4" cy="553.5" r="0.7"/><circle cx="452.0" cy="556.1" r="0.7"/><circle cx="451.6" cy="558.7" r="0.7"/><circle cx="451.2" cy="561.3" r="0.7"/><circle cx="450.7" cy="563.9" r="0.7"/><circle cx="450.2" cy="566.5" r="0.7"/><circle cx="449.6" cy="569.1" r="0.7"/><circle cx="448.9" cy="571.7" r="0.7"/><circle cx="448.3" cy="574.3" r="0.7"/><circle cx="447.6" cy="576.9" r="0.7"/><circle cx="446.9" cy="579.5" r="0.7"/><circle cx="446.2" cy="582.1" r="0.7"/><circle cx="445.4" cy="584.7" r="0.7"/><circle cx="444.7" cy="587.3" r="0.7"/><circle cx="443.9" cy="589.9" r="0.7"/><circle cx="443.1" cy="592.5" r="0.7"/><circle cx="442.3" cy="595.1" r="0.7"/><circle cx="441.4" cy="597.7" r="0.7"/><circle cx="440.4" cy="600.3" r="0.7"/><circle cx="439.3" cy="602.9" r="0.7"/><circle cx="438.1" cy="605.5" r="0.7"/><circle cx="436.9" cy="608.1" r="0.7"/><circle cx="435.7" cy="610.7" r="0.7"/><circle cx="434.4" cy="613.3" r="0.7"/><circle cx="433.1" cy="615.9" r="0.7"/><circle cx="431.7" cy="618.5" r="0.7"/><circle cx="430.3" cy="621.1" r="0.7"/><circle cx="428.7" cy="623.7" r="0.7"/><circle cx="426.9" cy="626.3" r="0.7"/><circle cx="425.1" cy="628.9" r="0.7"/><circle cx="423.3" cy="631.5" r="0.7"/><circle cx="421.5" cy="634.1" r="0.7"/><circle cx="419.6" cy="636.7" r="0.7"/><circle cx="417.5" cy="639.3" r="0.7"/><circle cx="427.9" cy="392.3" r="0.7"/><circle cx="429.3" cy="394.9" r="0.7"/><circle cx="430.8" cy="397.5" r="0.7"/><circle cx="432.3" cy="400.1" r="0.7"/><circle cx="433.8" cy="402.7" r="0.7"/><circle cx="435.2" cy="405.3" r="0.7"/><circle cx="436.7" cy="407.9" r="0.7"/><circle cx="438.2" cy="410.5" r="0.7"/><circle cx="439.9" cy="413.1" r="0.7"/><circle cx="441.7" cy="415.7" r="0.7"/><circle cx="443.6" cy="418.3" r="0.7"/><circle cx="445.3" cy="420.9" r="0.7"/><circle cx="447.0" cy="423.5" r="0.7"/><circle cx="448.7" cy="426.1" r="0.7"/><circle cx="450.1" cy="428.7" r="0.7"/><circle cx="451.2" cy="431.3" r="0.7"/><circle cx="452.2" cy="433.9" r="0.7"/><circle cx="453.0" cy="436.5" r="0.7"/><circle cx="453.8" cy="439.1" r="0.7"/><circle cx="454.5" cy="441.7" r="0.7"/><circle cx="455.2" cy="444.3" r="0.7"/><circle cx="455.8" cy="446.9" r="0.7"/><circle cx="456.4" cy="449.5" r="0.7"/><circle cx="456.9" cy="452.1" r="0.7"/><circle cx="457.4" cy="454.7" r="0.7"/><circle cx="457.8" cy="457.3" r="0.7"/><circle cx="458.2" cy="459.9" r="0.7"/><circle cx="458.5" cy="462.5" r="0.7"/><circle cx="458.9" cy="465.1" r="0.7"/><circle cx="459.2" cy="467.7" r="0.7"/><circle cx="459.6" cy="470.3" r="0.7"/><circle cx="459.9" cy="472.9" r="0.7"/><circle cx="460.2" cy="475.5" r="0.7"/><circle cx="460.4" cy="478.1" r="0.7"/><circle cx="460.6" cy="480.7" r="0.7"/><circle cx="460.8" cy="483.3" r="0.7"/><circle cx="461.0" cy="485.9" r="0.7"/><circle cx="461.1" cy="488.5" r="0.7"/><circle cx="461.3" cy="491.1" r="0.7"/><circle cx="461.4" cy="493.7" r="0.7"/><circle cx="461.5" cy="496.3" r="0.7"/><circle cx="461.6" cy="498.9" r="0.7"/><circle cx="461.7" cy="501.5" r="0.7"/><circle cx="461.7" cy="504.1" r="0.7"/><circle cx="461.7" cy="506.7" r="0.7"/><circle cx="461.7" cy="509.3" r="0.7"/><circle cx="461.7" cy="511.9" r="0.7"/><circle cx="461.6" cy="514.5" r="0.7"/><circle cx="461.5" cy="517.1" r="0.7"/><circle cx="461.4" cy="519.7" r="0.7"/><circle cx="461.2" cy="522.3" r="0.7"/><circle cx="461.0" cy="524.9" r="0.7"/><circle cx="460.8" cy="527.5" r="0.7"/><circle cx="460.6" cy="530.1" r="0.7"/><circle cx="460.4" cy="532.7" r="0.7"/><circle cx="460.2" cy="535.3" r="0.7"/><circle cx="460.0" cy="537.9" r="0.7"/><circle cx="459.7" cy="540.5" r="0.7"/><circle cx="459.5" cy="543.1" r="0.7"/><circle cx="459.2" cy="545.7" r="0.7"/><circle cx="459.0" cy="548.3" r="0.7"/><circle cx="458.7" cy="550.9" r="0.7"/><circle cx="458.3" cy="553.5" r="0.7"/><circle cx="458.0" cy="556.1" r="0.7"/><circle cx="457.7" cy="558.7" r="0.7"/><circle cx="457.3" cy="561.3" r="0.7"/><circle cx="456.8" cy="563.9" r="0.7"/><circle cx="456.4" cy="566.5" r="0.7"/><circle cx="455.8" cy="569.1" r="0.7"/><circle cx="455.2" cy="571.7" r="0.7"/><circle cx="454.5" cy="574.3" r="0.7"/><circle cx="453.9" cy="576.9" r="0.7"/><circle cx="453.1" cy="579.5" r="0.7"/><circle cx="452.4" cy="582.1" r="0.7"/><circle cx="451.6" cy="584.7" r="0.7"/><circle cx="450.8" cy="587.3" r="0.7"/><circle cx="450.0" cy="589.9" r="0.7"/><circle cx="449.1" cy="592.5" r="0.7"/><circle cx="448.2" cy="595.1" r="0.7"/><circle cx="447.2" cy="597.7" r="0.7"/><circle cx="446.2" cy="600.3" r="0.7"/><circle cx="445.0" cy="602.9" r="0.7"/><circle cx="443.7" cy="605.5" r="0.7"/><circle cx="442.4" cy="608.1" r="0.7"/><circle cx="441.0" cy="610.7" r="0.7"/><circle cx="439.6" cy="613.3" r="0.7"/><circle cx="438.2" cy="615.9" r="0.7"/><circle cx="436.6" cy="618.5" r="0.7"/><circle cx="434.9" cy="621.1" r="0.7"/><circle cx="433.1" cy="623.7" r="0.7"/><circle cx="431.0" cy="626.3" r="0.7"/><circle cx="428.9" cy="628.9" r="0.7"/><circle cx="426.7" cy="631.5" r="0.7"/><circle cx="424.5" cy="634.1" r="0.7"/><circle cx="422.2" cy="636.7" r="0.7"/><circle cx="419.6" cy="639.3" r="0.7"/></g>
<path d="M422.2 392.0C422.5 393.0 423.7 396.0 424.4 398.0C425.2 400.0 425.9 402.0 426.6 404.0C427.4 406.0 428.1 408.0 428.9 410.0C429.7 412.0 430.6 414.0 431.5 416.0C432.5 418.0 433.5 420.0 434.4 422.0C435.4 424.0 436.4 426.0 437.3 428.0C438.1 430.0 438.8 432.0 439.4 434.0C440.1 436.0 440.7 438.0 441.3 440.0C441.9 442.0 442.5 444.0 443.1 446.0C443.7 448.0 444.2 450.0 444.7 452.0C445.1 454.0 445.5 456.0 445.9 458.0C446.3 460.0 446.5 462.0 446.8 464.0C447.1 466.0 447.4 468.0 447.7 470.0C448.0 472.0 448.2 474.0 448.5 476.0C448.7 478.0 448.9 480.0 449.1 482.0C449.2 484.0 449.4 486.0 449.5 488.0C449.7 490.0 449.8 492.0 449.9 494.0C450.0 496.0 450.1 498.0 450.2 500.0C450.2 502.0 450.3 504.0 450.3 506.0C450.4 508.0 450.4 510.0 450.3 512.0C450.3 514.0 450.2 516.0 450.1 518.0C450.0 520.0 449.9 522.0 449.8 524.0C449.6 526.0 449.5 528.0 449.3 530.0C449.1 532.0 449.0 534.0 448.7 536.0C448.5 538.0 448.3 540.0 448.1 542.0C447.8 544.0 447.6 546.0 447.3 548.0C447.0 550.0 446.7 552.0 446.4 554.0C446.1 556.0 445.8 558.0 445.4 560.0C445.0 562.0 444.6 564.0 444.2 566.0C443.7 568.0 443.2 570.0 442.7 572.0C442.2 574.0 441.6 576.0 441.1 578.0C440.6 580.0 440.1 582.0 439.6 584.0C439.0 586.0 438.5 588.0 438.0 590.0C437.4 592.0 436.8 594.0 436.2 596.0C435.5 598.0 434.8 600.0 434.0 602.0C433.3 604.0 432.4 606.0 431.5 608.0C430.7 610.0 429.8 612.0 428.9 614.0C428.0 616.0 427.2 618.0 426.2 620.0C425.2 622.0 424.2 624.0 423.1 626.0C422.0 628.0 420.2 631.0 419.7 632.0" fill="none" stroke="#231f20" stroke-width="0.9" />
<path d="M430.6 392.0C431.3 393.0 433.3 396.0 434.6 398.0C436.0 400.0 437.3 402.0 438.6 404.0C440.0 406.0 441.2 408.0 442.7 410.0C444.2 412.0 445.8 414.0 447.4 416.0C449.0 418.0 450.6 420.0 452.1 422.0C453.6 424.0 455.2 426.0 456.4 428.0C457.5 430.0 458.2 432.0 458.9 434.0C459.7 436.0 460.2 438.0 460.7 440.0C461.3 442.0 461.8 444.0 462.2 446.0C462.7 448.0 463.0 450.0 463.4 452.0C463.7 454.0 464.0 456.0 464.3 458.0C464.5 460.0 464.8 462.0 465.0 464.0C465.3 466.0 465.5 468.0 465.8 470.0C466.0 472.0 466.2 474.0 466.4 476.0C466.6 478.0 466.7 480.0 466.9 482.0C467.0 484.0 467.1 486.0 467.2 488.0C467.3 490.0 467.4 492.0 467.5 494.0C467.5 496.0 467.6 498.0 467.6 500.0C467.7 502.0 467.7 504.0 467.7 506.0C467.7 508.0 467.7 510.0 467.7 512.0C467.6 514.0 467.5 516.0 467.4 518.0C467.3 520.0 467.2 522.0 467.1 524.0C466.9 526.0 466.8 528.0 466.6 530.0C466.5 532.0 466.3 534.0 466.2 536.0C466.0 538.0 465.8 540.0 465.7 542.0C465.5 544.0 465.3 546.0 465.1 548.0C465.0 550.0 464.8 552.0 464.5 554.0C464.3 556.0 464.1 558.0 463.8 560.0C463.5 562.0 463.3 564.0 462.9 566.0C462.6 568.0 462.2 570.0 461.7 572.0C461.2 574.0 460.7 576.0 460.1 578.0C459.5 580.0 458.9 582.0 458.3 584.0C457.6 586.0 457.0 588.0 456.2 590.0C455.5 592.0 454.8 594.0 454.0 596.0C453.2 598.0 452.4 600.0 451.4 602.0C450.4 604.0 449.3 606.0 448.2 608.0C447.1 610.0 445.9 612.0 444.7 614.0C443.4 616.0 442.2 618.0 440.6 620.0C439.1 622.0 437.4 624.0 435.6 626.0C433.8 628.0 430.7 631.0 429.7 632.0" fill="none" stroke="#231f20" stroke-width="0.9" />
<path d="M429.0 388.0C430.5 390.1 435.1 396.5 437.8 400.3C440.5 404.1 442.7 407.4 445.4 410.8C448.1 414.2 451.5 417.7 454.0 421.0C456.5 424.3 458.7 426.4 460.5 430.5C462.3 434.6 463.8 440.4 465.0 445.6C466.2 450.9 466.7 455.8 467.5 462.0C468.3 468.2 469.1 474.7 469.6 482.7C470.1 490.7 470.4 501.1 470.3 509.9C470.2 518.7 469.4 527.3 468.8 535.6C468.2 543.9 467.5 553.0 466.6 559.8C465.7 566.5 465.1 570.1 463.5 576.1C461.9 582.1 458.9 590.6 456.7 596.0C454.5 601.4 452.9 604.2 450.4 608.5C447.9 612.8 445.2 617.2 441.6 621.5C438.0 625.8 432.4 631.0 429.0 634.1C425.6 637.2 422.7 639.4 421.4 640.4" fill="none" stroke="#231f20" stroke-width="1.1" />
<path d="M414.6 390Q413.6 384 419.5 383.6Q425 383 429 388" fill="#fff" stroke="#231f20" stroke-width="1.9" />
<path d="M409.6 638.5Q408.6 646.8 412.6 647.9Q416.2 647.6 418 641.8" fill="#fff" stroke="#231f20" stroke-width="1.7" />
<path d="M416.5 645.5L421.4 640.4" fill="none" stroke="#231f20" stroke-width="1.2" />
<path d="M453.7 404.0C455.3 406.6 460.6 414.2 463.5 419.9C466.4 425.6 469.3 431.4 471.1 438.1C472.9 444.8 473.4 451.4 474.1 460.0C474.9 468.6 475.4 481.7 475.6 490.0C475.9 498.3 475.7 501.6 475.6 509.9C475.5 518.2 475.6 530.8 475.2 540.0C474.8 549.2 474.2 556.7 473.0 565.0C471.8 573.3 469.8 583.1 468.1 590.0C466.5 596.9 465.1 601.6 463.1 606.4C461.1 611.2 458.5 615.2 456.0 619.0C453.5 622.8 449.2 627.4 447.9 629.1" fill="none" stroke="#231f20" stroke-width="1.1" />
<path d="M460.5 404.0C462.0 406.6 467.0 414.2 469.6 419.9C472.2 425.6 474.7 431.4 476.2 438.1C477.7 444.8 478.1 451.4 478.7 460.0C479.3 468.6 479.7 481.7 479.9 490.0C480.1 498.3 480.0 501.6 479.9 509.9C479.8 518.2 479.9 530.8 479.5 540.0C479.1 549.2 478.5 556.7 477.2 565.0C475.9 573.3 473.8 582.7 471.9 590.0C470.0 597.3 467.6 603.9 465.6 608.9C463.6 613.9 462.1 616.4 460.0 620.0C457.9 623.6 454.2 628.7 453.0 630.4" fill="none" stroke="#231f20" stroke-width="1.1" />
<path d="M471.1 404.0C472.6 406.6 477.8 414.2 480.2 419.9C482.6 425.6 484.2 431.4 485.5 438.1C486.8 444.8 487.2 451.4 487.7 460.0C488.2 468.6 488.4 481.7 488.5 490.0C488.6 498.3 488.6 501.6 488.5 509.9C488.4 518.2 488.3 530.8 488.0 540.0C487.7 549.2 487.3 556.7 486.5 565.0C485.7 573.3 484.8 582.7 483.2 590.0C481.6 597.3 478.8 604.1 476.9 608.9C475.0 613.7 473.7 615.9 472.0 619.0C470.3 622.1 467.7 626.3 466.8 627.8" fill="none" stroke="#231f20" stroke-width="1.5" />
<path d="M476.0 404.0C477.5 406.6 482.4 414.2 484.8 419.9C487.2 425.6 489.0 431.4 490.3 438.1C491.6 444.8 492.1 451.4 492.7 460.0C493.2 468.6 493.4 481.7 493.6 490.0C493.8 498.3 493.9 501.6 493.8 509.9C493.7 518.2 493.6 530.8 493.2 540.0C492.8 549.2 492.5 556.7 491.5 565.0C490.5 573.3 488.6 583.1 487.0 590.0C485.4 596.9 483.8 601.7 482.0 606.4C480.2 611.1 478.4 614.4 476.5 618.0C474.6 621.6 471.6 626.2 470.6 627.8" fill="none" stroke="#231f20" stroke-width="1.5" />
<path d="M422.0 384.2L428.0 386.6L432.5 390.4L453.0 392.0L462.0 400.3" fill="none" stroke="#231f20" stroke-width="1.9" />
<path d="M419.5 383.6L424.0 384.0L446.0 388.5L453.0 392.0" fill="none" stroke="#231f20" stroke-width="1.0" />
<path d="M462 401.2H570.6" fill="none" stroke="#231f20" stroke-width="2.2" />
<path d="M478.7 405.4H560.4" fill="none" stroke="#231f20" stroke-width="1.0" />
<path d="M453.7 404.0L460.0 402.0L471.0 404.0" fill="none" stroke="#231f20" stroke-width="1.0" />
<rect x="499" y="396.6" width="7" height="3.8" fill="#fff" stroke="#231f20" stroke-width="1"/>
<path d="M584.2 400.6H694.5" fill="none" stroke="#231f20" stroke-width="2.2" />
<path d="M584.2 400V402.5" fill="none" stroke="#231f20" stroke-width="1.2" />
<path d="M592 404.2H690" fill="none" stroke="#231f20" stroke-width="0.9" />
<path d="M455.5 631.4H566" fill="none" stroke="#231f20" stroke-width="2.6" />
<path d="M440 633.5L455.5 633.5" fill="none" stroke="#231f20" stroke-width="1.0" />
<path d="M421.4 640.4L447.9 641.1L455.5 633.5" fill="none" stroke="#231f20" stroke-width="1.3" />
<path d="M425.2 638.5L441.6 637.9L449.2 631.6" fill="none" stroke="#231f20" stroke-width="1.0" />
<path d="M579.6 634.2H690" fill="none" stroke="#231f20" stroke-width="2.2" />
<path d="M566 632.6L561 629" fill="none" stroke="#231f20" stroke-width="1.0" />
<rect x="503" y="633" width="7" height="3" fill="#fff" stroke="#231f20" stroke-width="1"/>
<path d="M498 416.3H540.5Q544.5 416.3 544.5 420.3V509.9Q544.5 513.9 540.5 513.9H503.1Q499.1 513.9 499.1 509.4C499.1 504.8 499.3 489.5 499.1 482.1C498.9 474.7 498.4 470.7 497.8 465.0C497.2 459.3 496.5 453.6 495.7 448.1C494.9 442.6 493.7 436.5 493.0 432.0C492.3 427.5 491.8 422.8 491.6 421.0Q491.6 416.3 498 416.3Z" fill="none" stroke="#231f20" stroke-width="1.5" />
<path d="M546.9 418V512Q546.9 515.8 542 515.8H504" fill="none" stroke="#231f20" stroke-width="1.0" />
<path d="M503.1 520.2H540.5Q544.5 520.2 544.5 524.2V615Q544.5 619 540.5 619H491Q487 619 488.5 614.0C489.5 609.9 492.9 596.7 494.5 589.4C496.1 582.1 497.2 575.7 498.0 570.0C498.8 564.3 498.9 563.0 499.1 555.4C499.3 547.8 499.1 529.4 499.1 524.2Q499.1 520.2 503.1 520.2Z" fill="none" stroke="#231f20" stroke-width="1.5" />
<path d="M546.9 522V617Q546.9 621 542 621H492" fill="none" stroke="#231f20" stroke-width="1.0" />
<path d="M551.2 406V629" fill="none" stroke="#231f20" stroke-width="2.0" />
<path d="M556.3 406V629" fill="none" stroke="#231f20" stroke-width="1.7" />
<path d="M560.2 402V632" fill="none" stroke="#231f20" stroke-width="1.7" />
<path d="M560 514.5H592.5" fill="none" stroke="#231f20" stroke-width="1.0" />
<path d="M560 516.5H592.5" fill="none" stroke="#231f20" stroke-width="1.0" />
<path d="M546.9 517H551" fill="none" stroke="#231f20" stroke-width="1.0" />
<path d="M592.3 402.5V633" fill="none" stroke="#231f20" stroke-width="1.1" />
<path d="M595.6 406V633" fill="none" stroke="#231f20" stroke-width="1.0" />
<path d="M592.3 411.0L595.6 413.5" fill="none" stroke="#231f20" stroke-width="0.9" />
<path d="M592.3 621.0L595.6 618.5" fill="none" stroke="#231f20" stroke-width="0.9" />
<path d="M604.4 408.4H661Q667.5 408.4 665.9 412.9C664.6 416.1 660.0 426.8 657.9 432.2C655.8 437.6 654.6 440.7 653.5 445.0C652.4 449.3 651.8 451.8 651.1 458.0C650.4 464.2 649.7 473.6 649.3 482.1C648.9 490.6 648.7 504.5 648.6 509.0Q648.4 513.9 644.4 513.9H604.4Q600.4 513.9 600.4 509.9V412.4Q600.4 408.4 604.4 408.4Z" fill="none" stroke="#231f20" stroke-width="1.8" />
<path d="M604.4 520.4H644.9Q648.9 520.4 648.9 524.4C649.0 527.8 649.1 538.2 649.5 545.0C649.9 551.8 650.4 557.6 651.0 565.0C651.6 572.4 652.4 582.6 653.4 589.4C654.4 596.2 655.5 600.9 657.0 606.0C658.5 611.1 661.6 617.7 662.5 620.0Q664.5 625.8 659 625.8H604.4Q600.4 625.8 600.4 621.8V524.4Q600.4 520.4 604.4 520.4Z" fill="none" stroke="#231f20" stroke-width="1.8" />
<path d="M689.9 391.9C688.9 393.0 685.9 396.0 683.9 398.7C681.9 401.4 679.5 404.6 677.8 407.8C676.1 411.0 674.8 414.2 673.5 418.0C672.2 421.8 671.3 426.3 670.3 430.5C669.3 434.7 668.3 439.0 667.5 443.0C666.7 447.0 666.4 450.2 665.7 454.7C665.0 459.2 664.1 464.8 663.4 469.8C662.6 474.9 661.7 478.3 661.2 485.0C660.7 491.7 660.7 501.5 660.4 510.0C660.1 518.5 659.6 527.5 659.6 535.8C659.6 544.1 660.1 551.9 660.2 560.0C660.3 568.1 660.0 577.7 660.4 584.5C660.8 591.3 661.4 595.9 662.5 601.0C663.6 606.1 665.0 610.7 666.8 615.2C668.5 619.7 670.4 624.2 673.0 628.0C675.6 631.8 680.7 636.5 682.2 638.2" fill="none" stroke="#231f20" stroke-width="1.1" />
<path d="M660.8 472.9H686.5" fill="none" stroke="#231f20" stroke-width="0.9" />
<path d="M660.8 497.1H686.5" fill="none" stroke="#231f20" stroke-width="0.9" />
<path d="M660.8 536.4H686.5" fill="none" stroke="#231f20" stroke-width="0.9" />
<path d="M660.8 560.5H686.5" fill="none" stroke="#231f20" stroke-width="0.9" />
<path d="M715.6 395.0L715.4 395.7L715.1 396.6L714.8 397.7L714.5 398.8L714.1 400.1L713.7 401.5L713.2 402.9L712.8 404.3L712.4 405.6L711.9 407.0L711.5 408.2L711.1 409.3L710.7 410.3L710.3 411.3L709.9 412.2L709.5 413.1L709.0 414.0L708.6 414.9L708.2 415.7L707.8 416.6L707.3 417.4L706.9 418.3L706.4 419.1L706.0 420.0L705.6 420.9L705.1 421.8L704.6 422.6L704.2 423.5L703.7 424.3L703.2 425.2L702.7 426.1L702.3 426.9L701.8 427.8L701.4 428.7L700.9 429.6L700.5 430.5L700.1 431.4L699.7 432.3L699.3 433.3L698.9 434.2L698.5 435.2L698.1 436.1L697.7 437.1L697.4 438.0L697.0 439.0L696.7 440.0L696.3 441.0L696.0 442.0L695.7 443.0L695.4 444.1L695.1 445.1L694.8 446.2L694.6 447.3L694.3 448.4L694.1 449.5L693.8 450.6L693.6 451.7L693.4 452.7L693.1 453.7L692.9 454.7L692.7 455.6L692.4 456.5L692.2 457.3L692.0 458.0L691.8 458.8L691.6 459.5L691.4 460.3L691.2 461.1L691.0 462.0L690.8 462.9L690.5 463.9L690.3 465.0L690.0 466.2L689.7 467.4L689.4 468.7L689.1 470.0L688.8 471.4L688.5 472.8L688.2 474.3L687.9 475.8L687.6 477.4L687.3 479.1L687.1 480.9L686.9 482.7L686.7 484.6L686.6 486.7L686.5 488.9L686.4 491.1L686.3 493.4L686.2 495.8L686.2 498.2L686.2 500.6L686.1 503.0L686.1 505.3L686.1 507.7L686.1 509.9L686.1 512.1L686.1 514.4L686.2 516.6L686.2 518.9L686.3 521.1L686.3 523.3L686.4 525.5L686.5 527.6L686.6 529.7L686.7 531.8L686.8 533.7L686.9 535.6L687.0 537.3L687.1 538.9L687.2 540.4L687.3 541.8L687.4 543.1L687.6 544.4L687.7 545.7L687.8 547.1L688.0 548.5L688.2 550.1L688.4 551.9L688.6 553.8L688.8 556.0L689.1 558.4L689.4 561.0L689.7 563.7L690.0 566.5L690.3 569.3L690.7 572.2L691.0 574.9L691.4 577.6L691.7 580.1L692.1 582.4L692.4 584.5L692.7 586.3L693.0 588.0L693.4 589.5L693.7 590.8L694.0 592.1L694.3 593.2L694.6 594.3L695.0 595.4L695.3 596.5L695.7 597.6L696.1 598.8L696.5 600.0L696.9 601.3L697.4 602.6L697.9 603.9L698.4 605.2L699.0 606.5L699.5 607.8L700.0 609.1L700.6 610.3L701.1 611.6L701.6 612.8L702.1 614.0L702.6 615.2L703.0 616.4L703.5 617.5L703.9 618.6L704.3 619.6L704.7 620.7L705.1 621.8L705.5 622.8L705.9 623.8L706.3 624.9L706.7 625.9L707.1 626.9L707.5 628.0L707.9 629.1L708.4 630.3L708.9 631.5L709.5 632.7L710.0 634.0L710.5 635.2L711.0 636.4L711.5 637.5L711.9 638.5L712.3 639.4L712.6 640.2L712.9 640.8L729.5 648.5L729.6 647.7L729.7 646.7L729.8 645.5L729.9 644.2L730.0 642.8L730.2 641.3L730.3 639.7L730.4 638.1L730.5 636.5L730.6 635.0L730.7 633.4L730.8 632.0L730.8 630.6L730.9 629.2L730.9 627.8L730.9 626.4L731.0 624.9L731.0 623.5L731.0 622.1L730.9 620.7L730.9 619.3L730.9 617.9L730.8 616.5L730.8 615.2L730.7 613.9L730.7 612.6L730.6 611.3L730.6 610.0L730.5 608.8L730.4 607.5L730.3 606.3L730.2 605.0L730.0 603.8L729.9 602.5L729.7 601.3L729.5 600.0L729.3 598.7L729.1 597.5L728.8 596.4L728.6 595.2L728.3 594.0L728.0 592.8L727.7 591.6L727.4 590.4L727.0 589.0L726.6 587.6L726.2 586.1L725.7 584.5L725.2 582.8L724.5 580.9L723.9 579.0L723.1 576.9L722.4 574.8L721.6 572.7L720.8 570.5L720.1 568.3L719.3 566.2L718.7 564.0L718.1 561.9L717.6 559.8L717.2 557.8L716.8 555.8L716.5 553.8L716.2 551.8L716.0 549.8L715.8 547.8L715.6 545.8L715.5 543.8L715.3 541.7L715.2 539.7L715.0 537.7L714.9 535.6L714.8 533.5L714.6 531.3L714.5 529.0L714.4 526.7L714.3 524.5L714.2 522.2L714.2 519.9L714.1 517.7L714.1 515.6L714.1 513.6L714.1 511.7L714.1 509.9L714.1 508.3L714.2 506.8L714.3 505.5L714.3 504.3L714.4 503.1L714.6 502.0L714.7 501.0L714.8 499.9L715.0 498.8L715.1 497.6L715.3 496.4L715.5 495.0L715.7 493.6L715.9 492.1L716.2 490.5L716.4 488.9L716.7 487.3L717.0 485.7L717.2 484.1L717.5 482.4L717.8 480.8L718.1 479.2L718.4 477.6L718.7 476.0L719.0 474.5L719.3 472.9L719.5 471.4L719.8 469.8L720.1 468.3L720.4 466.8L720.7 465.3L721.0 463.8L721.3 462.3L721.7 460.8L722.1 459.4L722.5 458.0L723.0 456.6L723.5 455.3L724.0 454.1L724.6 452.8L725.2 451.6L725.9 450.4L726.5 449.2L727.1 447.9L727.7 446.7L728.3 445.4L728.8 444.0L729.3 442.6L729.8 441.1L730.2 439.5L730.7 437.8L731.1 436.1L731.5 434.3L731.9 432.5L732.2 430.8L732.6 429.1L732.9 427.4L733.2 425.8L733.5 424.3L733.8 423.0L734.0 421.8L734.3 420.7L734.4 419.7L734.6 418.7L734.8 417.8L734.9 417.0L735.0 416.2L735.1 415.4L735.2 414.6L735.3 413.8L735.4 412.9L735.5 412.0L735.6 411.1L735.7 410.1L735.8 409.2L735.9 408.3L736.0 407.4L736.0 406.4L736.1 405.5L736.2 404.5L736.2 403.5L736.2 402.5L736.2 401.4L736.1 400.3L736.0 399.1L735.9 397.8L735.7 396.4L735.5 394.9L735.2 393.4L735.0 392.0L734.7 390.5L734.5 389.2L734.3 387.9L734.1 386.8L733.9 385.8L733.8 385.1Z" fill="#fff" stroke="none" stroke-width="0" />
<path d="M716.2 391.5L716.2 393.0L716.2 394.5L715.9 396.0L715.5 397.5L715.1 399.0L714.6 400.5L714.2 402.0L713.7 403.5L713.3 405.0L712.8 406.5L712.3 408.0L711.8 409.5L711.2 411.0L710.5 412.5L709.8 414.0L709.1 415.5L708.4 417.0L707.6 418.5L706.9 420.0L706.1 421.5L705.3 423.0L704.5 424.5L703.7 426.0L702.9 427.5L702.2 429.0L701.5 430.5L700.8 432.0L700.2 433.5L699.5 435.0L698.9 436.5L698.4 438.0L697.8 439.5L697.3 441.0L696.9 442.5L696.4 444.0L696.0 445.5L695.6 447.0L695.3 448.5L694.9 450.0L694.6 451.5L694.2 453.0L693.9 454.5L693.5 456.0L693.1 457.5L692.7 459.0L692.3 460.5L691.9 462.0L691.5 463.5L691.2 465.0L690.9 466.5L690.5 468.0L690.2 469.5L689.8 471.0L689.5 472.5L689.2 474.0L688.9 475.5L688.6 477.0L688.3 478.5L688.1 480.0L717.0 480.0L717.3 478.5L717.6 477.0L717.9 475.5L718.1 474.0L718.4 472.5L718.7 471.0L719.0 469.5L719.2 468.0L719.5 466.5L719.8 465.0L720.1 463.5L720.5 462.0L720.9 460.5L721.3 459.0L721.7 457.5L722.3 456.0L722.9 454.5L723.6 453.0L724.3 451.5L725.1 450.0L725.8 448.5L726.6 447.0L727.2 445.5L727.8 444.0L728.3 442.5L728.8 441.0L729.2 439.5L729.6 438.0L730.0 436.5L730.3 435.0L730.7 433.5L731.0 432.0L731.3 430.5L731.7 429.0L732.0 427.5L732.3 426.0L732.6 424.5L732.9 423.0L733.2 421.5L733.5 420.0L733.8 418.5L734.1 417.0L734.3 415.5L734.5 414.0L734.7 412.5L734.8 411.0L735.0 409.5L735.2 408.0L735.3 406.5L735.4 405.0L735.5 403.5L735.5 402.0L735.4 400.5L735.3 399.0L735.2 397.5L735.0 396.0L734.8 394.5L734.6 393.0L734.3 391.5Z" fill="#3d393a" stroke="none" stroke-width="0" />
<path d="M689.5 554.0L689.6 555.5L689.8 557.0L690.0 558.5L690.1 560.0L690.3 561.5L690.5 563.0L690.7 564.5L690.8 566.0L691.0 567.5L691.2 569.0L691.4 570.5L691.6 572.0L691.8 573.5L692.0 575.0L692.2 576.5L692.4 578.0L692.6 579.5L692.8 581.0L693.1 582.5L693.3 584.0L693.6 585.5L693.9 587.0L694.2 588.5L694.5 590.0L694.9 591.5L695.3 593.0L695.7 594.5L696.2 596.0L696.7 597.5L697.2 599.0L697.7 600.5L698.2 602.0L698.7 603.5L699.3 605.0L699.9 606.5L700.5 608.0L701.1 609.5L701.8 611.0L702.4 612.5L703.0 614.0L703.6 615.5L704.1 617.0L704.7 618.5L705.2 620.0L705.8 621.5L706.3 623.0L706.9 624.5L707.4 626.0L708.0 627.5L708.6 629.0L709.2 630.5L709.8 632.0L710.4 633.5L711.0 635.0L711.6 636.5L712.3 638.0L712.9 639.5L713.4 641.0L713.4 642.5L713.4 644.0L729.4 644.0L729.5 642.5L729.7 641.0L729.8 639.5L729.9 638.0L730.0 636.5L730.0 635.0L730.1 633.5L730.2 632.0L730.2 630.5L730.2 629.0L730.2 627.5L730.2 626.0L730.2 624.5L730.2 623.0L730.2 621.5L730.1 620.0L730.1 618.5L730.0 617.0L730.0 615.5L729.9 614.0L729.8 612.5L729.7 611.0L729.6 609.5L729.5 608.0L729.4 606.5L729.2 605.0L729.0 603.5L728.8 602.0L728.6 600.5L728.3 599.0L728.1 597.5L727.7 596.0L727.4 594.5L727.0 593.0L726.7 591.5L726.3 590.0L725.9 588.5L725.4 587.0L725.0 585.5L724.6 584.0L724.1 582.5L723.6 581.0L723.1 579.5L722.5 578.0L722.0 576.5L721.5 575.0L720.9 573.5L720.4 572.0L719.9 570.5L719.4 569.0L718.9 567.5L718.4 566.0L718.0 564.5L717.5 563.0L717.1 561.5L716.8 560.0L716.5 558.5L716.2 557.0L715.9 555.5L715.7 554.0Z" fill="#3d393a" stroke="none" stroke-width="0" />
<g fill="#fff"><rect x="716.1" y="392.1" width="2.3" height="2.2" rx="0.8"/><rect x="719.3" y="392.1" width="2.3" height="2.2" rx="0.8"/><rect x="722.6" y="392.1" width="2.3" height="2.2" rx="0.8"/><rect x="725.9" y="392.1" width="2.3" height="2.2" rx="0.8"/><rect x="729.1" y="392.1" width="2.3" height="2.2" rx="0.8"/><rect x="715.7" y="395.4" width="2.3" height="2.2" rx="0.8"/><rect x="719.1" y="395.4" width="2.3" height="2.2" rx="0.8"/><rect x="722.6" y="395.4" width="2.3" height="2.2" rx="0.8"/><rect x="726.0" y="395.4" width="2.3" height="2.2" rx="0.8"/><rect x="729.4" y="395.4" width="2.3" height="2.2" rx="0.8"/><rect x="714.6" y="398.8" width="2.3" height="2.2" rx="0.8"/><rect x="717.7" y="398.8" width="2.3" height="2.2" rx="0.8"/><rect x="720.8" y="398.8" width="2.3" height="2.2" rx="0.8"/><rect x="724.0" y="398.8" width="2.3" height="2.2" rx="0.8"/><rect x="727.1" y="398.8" width="2.3" height="2.2" rx="0.8"/><rect x="730.2" y="398.8" width="2.3" height="2.2" rx="0.8"/><rect x="713.6" y="402.2" width="2.3" height="2.2" rx="0.8"/><rect x="716.9" y="402.2" width="2.3" height="2.2" rx="0.8"/><rect x="720.2" y="402.2" width="2.3" height="2.2" rx="0.8"/><rect x="723.5" y="402.2" width="2.3" height="2.2" rx="0.8"/><rect x="726.8" y="402.2" width="2.3" height="2.2" rx="0.8"/><rect x="730.1" y="402.2" width="2.3" height="2.2" rx="0.8"/><rect x="712.6" y="405.5" width="2.3" height="2.2" rx="0.8"/><rect x="716.0" y="405.5" width="2.3" height="2.2" rx="0.8"/><rect x="719.5" y="405.5" width="2.3" height="2.2" rx="0.8"/><rect x="722.9" y="405.5" width="2.3" height="2.2" rx="0.8"/><rect x="726.3" y="405.5" width="2.3" height="2.2" rx="0.8"/><rect x="729.7" y="405.5" width="2.3" height="2.2" rx="0.8"/><rect x="711.2" y="408.9" width="2.3" height="2.2" rx="0.8"/><rect x="714.4" y="408.9" width="2.3" height="2.2" rx="0.8"/><rect x="717.5" y="408.9" width="2.3" height="2.2" rx="0.8"/><rect x="720.6" y="408.9" width="2.3" height="2.2" rx="0.8"/><rect x="723.7" y="408.9" width="2.3" height="2.2" rx="0.8"/><rect x="726.8" y="408.9" width="2.3" height="2.2" rx="0.8"/><rect x="729.9" y="408.9" width="2.3" height="2.2" rx="0.8"/><rect x="709.9" y="412.2" width="2.3" height="2.2" rx="0.8"/><rect x="713.1" y="412.2" width="2.3" height="2.2" rx="0.8"/><rect x="716.4" y="412.2" width="2.3" height="2.2" rx="0.8"/><rect x="719.6" y="412.2" width="2.3" height="2.2" rx="0.8"/><rect x="722.8" y="412.2" width="2.3" height="2.2" rx="0.8"/><rect x="726.1" y="412.2" width="2.3" height="2.2" rx="0.8"/><rect x="729.3" y="412.2" width="2.3" height="2.2" rx="0.8"/><rect x="708.3" y="415.6" width="2.3" height="2.2" rx="0.8"/><rect x="711.7" y="415.6" width="2.3" height="2.2" rx="0.8"/><rect x="715.1" y="415.6" width="2.3" height="2.2" rx="0.8"/><rect x="718.5" y="415.6" width="2.3" height="2.2" rx="0.8"/><rect x="721.9" y="415.6" width="2.3" height="2.2" rx="0.8"/><rect x="725.3" y="415.6" width="2.3" height="2.2" rx="0.8"/><rect x="728.7" y="415.6" width="2.3" height="2.2" rx="0.8"/><rect x="706.4" y="418.9" width="2.3" height="2.2" rx="0.8"/><rect x="709.6" y="418.9" width="2.3" height="2.2" rx="0.8"/><rect x="712.7" y="418.9" width="2.3" height="2.2" rx="0.8"/><rect x="715.9" y="418.9" width="2.3" height="2.2" rx="0.8"/><rect x="719.0" y="418.9" width="2.3" height="2.2" rx="0.8"/><rect x="722.2" y="418.9" width="2.3" height="2.2" rx="0.8"/><rect x="725.4" y="418.9" width="2.3" height="2.2" rx="0.8"/><rect x="728.5" y="418.9" width="2.3" height="2.2" rx="0.8"/><rect x="704.7" y="422.3" width="2.3" height="2.2" rx="0.8"/><rect x="708.0" y="422.3" width="2.3" height="2.2" rx="0.8"/><rect x="711.3" y="422.3" width="2.3" height="2.2" rx="0.8"/><rect x="714.6" y="422.3" width="2.3" height="2.2" rx="0.8"/><rect x="717.8" y="422.3" width="2.3" height="2.2" rx="0.8"/><rect x="721.1" y="422.3" width="2.3" height="2.2" rx="0.8"/><rect x="724.4" y="422.3" width="2.3" height="2.2" rx="0.8"/><rect x="727.7" y="422.3" width="2.3" height="2.2" rx="0.8"/><rect x="703.0" y="425.6" width="2.3" height="2.2" rx="0.8"/><rect x="706.4" y="425.6" width="2.3" height="2.2" rx="0.8"/><rect x="709.8" y="425.6" width="2.3" height="2.2" rx="0.8"/><rect x="713.2" y="425.6" width="2.3" height="2.2" rx="0.8"/><rect x="716.6" y="425.6" width="2.3" height="2.2" rx="0.8"/><rect x="720.0" y="425.6" width="2.3" height="2.2" rx="0.8"/><rect x="723.4" y="425.6" width="2.3" height="2.2" rx="0.8"/><rect x="726.8" y="425.6" width="2.3" height="2.2" rx="0.8"/><rect x="701.1" y="429.0" width="2.3" height="2.2" rx="0.8"/><rect x="704.3" y="429.0" width="2.3" height="2.2" rx="0.8"/><rect x="707.5" y="429.0" width="2.3" height="2.2" rx="0.8"/><rect x="710.6" y="429.0" width="2.3" height="2.2" rx="0.8"/><rect x="713.8" y="429.0" width="2.3" height="2.2" rx="0.8"/><rect x="717.0" y="429.0" width="2.3" height="2.2" rx="0.8"/><rect x="720.2" y="429.0" width="2.3" height="2.2" rx="0.8"/><rect x="723.3" y="429.0" width="2.3" height="2.2" rx="0.8"/><rect x="726.5" y="429.0" width="2.3" height="2.2" rx="0.8"/><rect x="699.7" y="432.3" width="2.3" height="2.2" rx="0.8"/><rect x="702.9" y="432.3" width="2.3" height="2.2" rx="0.8"/><rect x="706.2" y="432.3" width="2.3" height="2.2" rx="0.8"/><rect x="709.4" y="432.3" width="2.3" height="2.2" rx="0.8"/><rect x="712.7" y="432.3" width="2.3" height="2.2" rx="0.8"/><rect x="715.9" y="432.3" width="2.3" height="2.2" rx="0.8"/><rect x="719.2" y="432.3" width="2.3" height="2.2" rx="0.8"/><rect x="722.4" y="432.3" width="2.3" height="2.2" rx="0.8"/><rect x="725.7" y="432.3" width="2.3" height="2.2" rx="0.8"/><rect x="698.4" y="435.7" width="2.3" height="2.2" rx="0.8"/><rect x="701.7" y="435.7" width="2.3" height="2.2" rx="0.8"/><rect x="705.0" y="435.7" width="2.3" height="2.2" rx="0.8"/><rect x="708.3" y="435.7" width="2.3" height="2.2" rx="0.8"/><rect x="711.6" y="435.7" width="2.3" height="2.2" rx="0.8"/><rect x="714.9" y="435.7" width="2.3" height="2.2" rx="0.8"/><rect x="718.2" y="435.7" width="2.3" height="2.2" rx="0.8"/><rect x="721.5" y="435.7" width="2.3" height="2.2" rx="0.8"/><rect x="724.8" y="435.7" width="2.3" height="2.2" rx="0.8"/><rect x="697.1" y="439.0" width="2.3" height="2.2" rx="0.8"/><rect x="700.5" y="439.0" width="2.3" height="2.2" rx="0.8"/><rect x="703.8" y="439.0" width="2.3" height="2.2" rx="0.8"/><rect x="707.2" y="439.0" width="2.3" height="2.2" rx="0.8"/><rect x="710.5" y="439.0" width="2.3" height="2.2" rx="0.8"/><rect x="713.9" y="439.0" width="2.3" height="2.2" rx="0.8"/><rect x="717.2" y="439.0" width="2.3" height="2.2" rx="0.8"/><rect x="720.5" y="439.0" width="2.3" height="2.2" rx="0.8"/><rect x="723.9" y="439.0" width="2.3" height="2.2" rx="0.8"/><rect x="696.1" y="442.4" width="2.3" height="2.2" rx="0.8"/><rect x="699.4" y="442.4" width="2.3" height="2.2" rx="0.8"/><rect x="702.8" y="442.4" width="2.3" height="2.2" rx="0.8"/><rect x="706.1" y="442.4" width="2.3" height="2.2" rx="0.8"/><rect x="709.5" y="442.4" width="2.3" height="2.2" rx="0.8"/><rect x="712.8" y="442.4" width="2.3" height="2.2" rx="0.8"/><rect x="716.2" y="442.4" width="2.3" height="2.2" rx="0.8"/><rect x="719.5" y="442.4" width="2.3" height="2.2" rx="0.8"/><rect x="722.8" y="442.4" width="2.3" height="2.2" rx="0.8"/><rect x="695.2" y="445.7" width="2.3" height="2.2" rx="0.8"/><rect x="698.5" y="445.7" width="2.3" height="2.2" rx="0.8"/><rect x="701.8" y="445.7" width="2.3" height="2.2" rx="0.8"/><rect x="705.1" y="445.7" width="2.3" height="2.2" rx="0.8"/><rect x="708.4" y="445.7" width="2.3" height="2.2" rx="0.8"/><rect x="711.7" y="445.7" width="2.3" height="2.2" rx="0.8"/><rect x="715.0" y="445.7" width="2.3" height="2.2" rx="0.8"/><rect x="718.3" y="445.7" width="2.3" height="2.2" rx="0.8"/><rect x="721.5" y="445.7" width="2.3" height="2.2" rx="0.8"/><rect x="694.4" y="449.1" width="2.3" height="2.2" rx="0.8"/><rect x="697.6" y="449.1" width="2.3" height="2.2" rx="0.8"/><rect x="700.8" y="449.1" width="2.3" height="2.2" rx="0.8"/><rect x="704.0" y="449.1" width="2.3" height="2.2" rx="0.8"/><rect x="707.2" y="449.1" width="2.3" height="2.2" rx="0.8"/><rect x="710.4" y="449.1" width="2.3" height="2.2" rx="0.8"/><rect x="713.6" y="449.1" width="2.3" height="2.2" rx="0.8"/><rect x="716.8" y="449.1" width="2.3" height="2.2" rx="0.8"/><rect x="720.0" y="449.1" width="2.3" height="2.2" rx="0.8"/><rect x="693.8" y="452.4" width="2.3" height="2.2" rx="0.8"/><rect x="697.2" y="452.4" width="2.3" height="2.2" rx="0.8"/><rect x="700.7" y="452.4" width="2.3" height="2.2" rx="0.8"/><rect x="704.1" y="452.4" width="2.3" height="2.2" rx="0.8"/><rect x="707.6" y="452.4" width="2.3" height="2.2" rx="0.8"/><rect x="711.1" y="452.4" width="2.3" height="2.2" rx="0.8"/><rect x="714.5" y="452.4" width="2.3" height="2.2" rx="0.8"/><rect x="718.0" y="452.4" width="2.3" height="2.2" rx="0.8"/><rect x="692.9" y="455.8" width="2.3" height="2.2" rx="0.8"/><rect x="696.3" y="455.8" width="2.3" height="2.2" rx="0.8"/><rect x="699.7" y="455.8" width="2.3" height="2.2" rx="0.8"/><rect x="703.1" y="455.8" width="2.3" height="2.2" rx="0.8"/><rect x="706.5" y="455.8" width="2.3" height="2.2" rx="0.8"/><rect x="709.9" y="455.8" width="2.3" height="2.2" rx="0.8"/><rect x="713.3" y="455.8" width="2.3" height="2.2" rx="0.8"/><rect x="716.7" y="455.8" width="2.3" height="2.2" rx="0.8"/><rect x="692.0" y="459.1" width="2.3" height="2.2" rx="0.8"/><rect x="695.4" y="459.1" width="2.3" height="2.2" rx="0.8"/><rect x="698.7" y="459.1" width="2.3" height="2.2" rx="0.8"/><rect x="702.1" y="459.1" width="2.3" height="2.2" rx="0.8"/><rect x="705.5" y="459.1" width="2.3" height="2.2" rx="0.8"/><rect x="708.9" y="459.1" width="2.3" height="2.2" rx="0.8"/><rect x="712.3" y="459.1" width="2.3" height="2.2" rx="0.8"/><rect x="715.6" y="459.1" width="2.3" height="2.2" rx="0.8"/><rect x="691.2" y="462.5" width="2.3" height="2.2" rx="0.8"/><rect x="694.5" y="462.5" width="2.3" height="2.2" rx="0.8"/><rect x="697.9" y="462.5" width="2.3" height="2.2" rx="0.8"/><rect x="701.3" y="462.5" width="2.3" height="2.2" rx="0.8"/><rect x="704.7" y="462.5" width="2.3" height="2.2" rx="0.8"/><rect x="708.1" y="462.5" width="2.3" height="2.2" rx="0.8"/><rect x="711.4" y="462.5" width="2.3" height="2.2" rx="0.8"/><rect x="714.8" y="462.5" width="2.3" height="2.2" rx="0.8"/><rect x="690.4" y="465.8" width="2.3" height="2.2" rx="0.8"/><rect x="693.8" y="465.8" width="2.3" height="2.2" rx="0.8"/><rect x="697.2" y="465.8" width="2.3" height="2.2" rx="0.8"/><rect x="700.6" y="465.8" width="2.3" height="2.2" rx="0.8"/><rect x="704.0" y="465.8" width="2.3" height="2.2" rx="0.8"/><rect x="707.3" y="465.8" width="2.3" height="2.2" rx="0.8"/><rect x="710.7" y="465.8" width="2.3" height="2.2" rx="0.8"/><rect x="714.1" y="465.8" width="2.3" height="2.2" rx="0.8"/><rect x="689.6" y="469.2" width="2.3" height="2.2" rx="0.8"/><rect x="693.0" y="469.2" width="2.3" height="2.2" rx="0.8"/><rect x="696.4" y="469.2" width="2.3" height="2.2" rx="0.8"/><rect x="699.8" y="469.2" width="2.3" height="2.2" rx="0.8"/><rect x="703.3" y="469.2" width="2.3" height="2.2" rx="0.8"/><rect x="706.7" y="469.2" width="2.3" height="2.2" rx="0.8"/><rect x="710.1" y="469.2" width="2.3" height="2.2" rx="0.8"/><rect x="713.5" y="469.2" width="2.3" height="2.2" rx="0.8"/><rect x="688.9" y="472.5" width="2.3" height="2.2" rx="0.8"/><rect x="692.3" y="472.5" width="2.3" height="2.2" rx="0.8"/><rect x="695.7" y="472.5" width="2.3" height="2.2" rx="0.8"/><rect x="699.2" y="472.5" width="2.3" height="2.2" rx="0.8"/><rect x="702.6" y="472.5" width="2.3" height="2.2" rx="0.8"/><rect x="706.0" y="472.5" width="2.3" height="2.2" rx="0.8"/><rect x="709.4" y="472.5" width="2.3" height="2.2" rx="0.8"/><rect x="712.9" y="472.5" width="2.3" height="2.2" rx="0.8"/><rect x="688.2" y="475.9" width="2.3" height="2.2" rx="0.8"/><rect x="691.7" y="475.9" width="2.3" height="2.2" rx="0.8"/><rect x="695.1" y="475.9" width="2.3" height="2.2" rx="0.8"/><rect x="698.5" y="475.9" width="2.3" height="2.2" rx="0.8"/><rect x="701.9" y="475.9" width="2.3" height="2.2" rx="0.8"/><rect x="705.4" y="475.9" width="2.3" height="2.2" rx="0.8"/><rect x="708.8" y="475.9" width="2.3" height="2.2" rx="0.8"/><rect x="712.2" y="475.9" width="2.3" height="2.2" rx="0.8"/><rect x="689.4" y="554.4" width="2.3" height="2.2" rx="0.8"/><rect x="692.9" y="554.4" width="2.3" height="2.2" rx="0.8"/><rect x="696.4" y="554.4" width="2.3" height="2.2" rx="0.8"/><rect x="699.9" y="554.4" width="2.3" height="2.2" rx="0.8"/><rect x="703.4" y="554.4" width="2.3" height="2.2" rx="0.8"/><rect x="706.9" y="554.4" width="2.3" height="2.2" rx="0.8"/><rect x="710.4" y="554.4" width="2.3" height="2.2" rx="0.8"/><rect x="689.6" y="557.8" width="2.3" height="2.2" rx="0.8"/><rect x="692.7" y="557.8" width="2.3" height="2.2" rx="0.8"/><rect x="695.9" y="557.8" width="2.3" height="2.2" rx="0.8"/><rect x="699.0" y="557.8" width="2.3" height="2.2" rx="0.8"/><rect x="702.1" y="557.8" width="2.3" height="2.2" rx="0.8"/><rect x="705.3" y="557.8" width="2.3" height="2.2" rx="0.8"/><rect x="708.4" y="557.8" width="2.3" height="2.2" rx="0.8"/><rect x="711.5" y="557.8" width="2.3" height="2.2" rx="0.8"/><rect x="690.0" y="561.1" width="2.3" height="2.2" rx="0.8"/><rect x="693.2" y="561.1" width="2.3" height="2.2" rx="0.8"/><rect x="696.3" y="561.1" width="2.3" height="2.2" rx="0.8"/><rect x="699.5" y="561.1" width="2.3" height="2.2" rx="0.8"/><rect x="702.7" y="561.1" width="2.3" height="2.2" rx="0.8"/><rect x="705.9" y="561.1" width="2.3" height="2.2" rx="0.8"/><rect x="709.1" y="561.1" width="2.3" height="2.2" rx="0.8"/><rect x="712.3" y="561.1" width="2.3" height="2.2" rx="0.8"/><rect x="690.4" y="564.5" width="2.3" height="2.2" rx="0.8"/><rect x="693.6" y="564.5" width="2.3" height="2.2" rx="0.8"/><rect x="696.9" y="564.5" width="2.3" height="2.2" rx="0.8"/><rect x="700.1" y="564.5" width="2.3" height="2.2" rx="0.8"/><rect x="703.4" y="564.5" width="2.3" height="2.2" rx="0.8"/><rect x="706.6" y="564.5" width="2.3" height="2.2" rx="0.8"/><rect x="709.9" y="564.5" width="2.3" height="2.2" rx="0.8"/><rect x="713.1" y="564.5" width="2.3" height="2.2" rx="0.8"/><rect x="690.8" y="567.8" width="2.3" height="2.2" rx="0.8"/><rect x="694.1" y="567.8" width="2.3" height="2.2" rx="0.8"/><rect x="697.5" y="567.8" width="2.3" height="2.2" rx="0.8"/><rect x="700.8" y="567.8" width="2.3" height="2.2" rx="0.8"/><rect x="704.1" y="567.8" width="2.3" height="2.2" rx="0.8"/><rect x="707.5" y="567.8" width="2.3" height="2.2" rx="0.8"/><rect x="710.8" y="567.8" width="2.3" height="2.2" rx="0.8"/><rect x="714.1" y="567.8" width="2.3" height="2.2" rx="0.8"/><rect x="691.3" y="571.2" width="2.3" height="2.2" rx="0.8"/><rect x="694.7" y="571.2" width="2.3" height="2.2" rx="0.8"/><rect x="698.1" y="571.2" width="2.3" height="2.2" rx="0.8"/><rect x="701.5" y="571.2" width="2.3" height="2.2" rx="0.8"/><rect x="704.9" y="571.2" width="2.3" height="2.2" rx="0.8"/><rect x="708.3" y="571.2" width="2.3" height="2.2" rx="0.8"/><rect x="711.7" y="571.2" width="2.3" height="2.2" rx="0.8"/><rect x="715.2" y="571.2" width="2.3" height="2.2" rx="0.8"/><rect x="691.5" y="574.5" width="2.3" height="2.2" rx="0.8"/><rect x="694.7" y="574.5" width="2.3" height="2.2" rx="0.8"/><rect x="697.8" y="574.5" width="2.3" height="2.2" rx="0.8"/><rect x="701.0" y="574.5" width="2.3" height="2.2" rx="0.8"/><rect x="704.2" y="574.5" width="2.3" height="2.2" rx="0.8"/><rect x="707.3" y="574.5" width="2.3" height="2.2" rx="0.8"/><rect x="710.5" y="574.5" width="2.3" height="2.2" rx="0.8"/><rect x="713.6" y="574.5" width="2.3" height="2.2" rx="0.8"/><rect x="716.8" y="574.5" width="2.3" height="2.2" rx="0.8"/><rect x="692.0" y="577.9" width="2.3" height="2.2" rx="0.8"/><rect x="695.3" y="577.9" width="2.3" height="2.2" rx="0.8"/><rect x="698.5" y="577.9" width="2.3" height="2.2" rx="0.8"/><rect x="701.7" y="577.9" width="2.3" height="2.2" rx="0.8"/><rect x="704.9" y="577.9" width="2.3" height="2.2" rx="0.8"/><rect x="708.2" y="577.9" width="2.3" height="2.2" rx="0.8"/><rect x="711.4" y="577.9" width="2.3" height="2.2" rx="0.8"/><rect x="714.6" y="577.9" width="2.3" height="2.2" rx="0.8"/><rect x="717.9" y="577.9" width="2.3" height="2.2" rx="0.8"/><rect x="692.5" y="581.2" width="2.3" height="2.2" rx="0.8"/><rect x="695.8" y="581.2" width="2.3" height="2.2" rx="0.8"/><rect x="699.1" y="581.2" width="2.3" height="2.2" rx="0.8"/><rect x="702.4" y="581.2" width="2.3" height="2.2" rx="0.8"/><rect x="705.7" y="581.2" width="2.3" height="2.2" rx="0.8"/><rect x="709.0" y="581.2" width="2.3" height="2.2" rx="0.8"/><rect x="712.3" y="581.2" width="2.3" height="2.2" rx="0.8"/><rect x="715.6" y="581.2" width="2.3" height="2.2" rx="0.8"/><rect x="718.9" y="581.2" width="2.3" height="2.2" rx="0.8"/><rect x="693.1" y="584.6" width="2.3" height="2.2" rx="0.8"/><rect x="696.5" y="584.6" width="2.3" height="2.2" rx="0.8"/><rect x="699.8" y="584.6" width="2.3" height="2.2" rx="0.8"/><rect x="703.2" y="584.6" width="2.3" height="2.2" rx="0.8"/><rect x="706.5" y="584.6" width="2.3" height="2.2" rx="0.8"/><rect x="709.8" y="584.6" width="2.3" height="2.2" rx="0.8"/><rect x="713.2" y="584.6" width="2.3" height="2.2" rx="0.8"/><rect x="716.5" y="584.6" width="2.3" height="2.2" rx="0.8"/><rect x="719.9" y="584.6" width="2.3" height="2.2" rx="0.8"/><rect x="693.8" y="587.9" width="2.3" height="2.2" rx="0.8"/><rect x="697.2" y="587.9" width="2.3" height="2.2" rx="0.8"/><rect x="700.5" y="587.9" width="2.3" height="2.2" rx="0.8"/><rect x="703.9" y="587.9" width="2.3" height="2.2" rx="0.8"/><rect x="707.3" y="587.9" width="2.3" height="2.2" rx="0.8"/><rect x="710.7" y="587.9" width="2.3" height="2.2" rx="0.8"/><rect x="714.0" y="587.9" width="2.3" height="2.2" rx="0.8"/><rect x="717.4" y="587.9" width="2.3" height="2.2" rx="0.8"/><rect x="720.8" y="587.9" width="2.3" height="2.2" rx="0.8"/><rect x="694.6" y="591.3" width="2.3" height="2.2" rx="0.8"/><rect x="698.0" y="591.3" width="2.3" height="2.2" rx="0.8"/><rect x="701.4" y="591.3" width="2.3" height="2.2" rx="0.8"/><rect x="704.8" y="591.3" width="2.3" height="2.2" rx="0.8"/><rect x="708.1" y="591.3" width="2.3" height="2.2" rx="0.8"/><rect x="711.5" y="591.3" width="2.3" height="2.2" rx="0.8"/><rect x="714.9" y="591.3" width="2.3" height="2.2" rx="0.8"/><rect x="718.3" y="591.3" width="2.3" height="2.2" rx="0.8"/><rect x="721.7" y="591.3" width="2.3" height="2.2" rx="0.8"/><rect x="695.6" y="594.6" width="2.3" height="2.2" rx="0.8"/><rect x="699.0" y="594.6" width="2.3" height="2.2" rx="0.8"/><rect x="702.3" y="594.6" width="2.3" height="2.2" rx="0.8"/><rect x="705.7" y="594.6" width="2.3" height="2.2" rx="0.8"/><rect x="709.0" y="594.6" width="2.3" height="2.2" rx="0.8"/><rect x="712.4" y="594.6" width="2.3" height="2.2" rx="0.8"/><rect x="715.8" y="594.6" width="2.3" height="2.2" rx="0.8"/><rect x="719.1" y="594.6" width="2.3" height="2.2" rx="0.8"/><rect x="722.5" y="594.6" width="2.3" height="2.2" rx="0.8"/><rect x="696.7" y="598.0" width="2.3" height="2.2" rx="0.8"/><rect x="700.0" y="598.0" width="2.3" height="2.2" rx="0.8"/><rect x="703.3" y="598.0" width="2.3" height="2.2" rx="0.8"/><rect x="706.6" y="598.0" width="2.3" height="2.2" rx="0.8"/><rect x="710.0" y="598.0" width="2.3" height="2.2" rx="0.8"/><rect x="713.3" y="598.0" width="2.3" height="2.2" rx="0.8"/><rect x="716.6" y="598.0" width="2.3" height="2.2" rx="0.8"/><rect x="719.9" y="598.0" width="2.3" height="2.2" rx="0.8"/><rect x="723.2" y="598.0" width="2.3" height="2.2" rx="0.8"/><rect x="697.8" y="601.3" width="2.3" height="2.2" rx="0.8"/><rect x="701.1" y="601.3" width="2.3" height="2.2" rx="0.8"/><rect x="704.3" y="601.3" width="2.3" height="2.2" rx="0.8"/><rect x="707.6" y="601.3" width="2.3" height="2.2" rx="0.8"/><rect x="710.8" y="601.3" width="2.3" height="2.2" rx="0.8"/><rect x="714.1" y="601.3" width="2.3" height="2.2" rx="0.8"/><rect x="717.3" y="601.3" width="2.3" height="2.2" rx="0.8"/><rect x="720.6" y="601.3" width="2.3" height="2.2" rx="0.8"/><rect x="723.8" y="601.3" width="2.3" height="2.2" rx="0.8"/><rect x="699.1" y="604.7" width="2.3" height="2.2" rx="0.8"/><rect x="702.2" y="604.7" width="2.3" height="2.2" rx="0.8"/><rect x="705.4" y="604.7" width="2.3" height="2.2" rx="0.8"/><rect x="708.6" y="604.7" width="2.3" height="2.2" rx="0.8"/><rect x="711.7" y="604.7" width="2.3" height="2.2" rx="0.8"/><rect x="714.9" y="604.7" width="2.3" height="2.2" rx="0.8"/><rect x="718.0" y="604.7" width="2.3" height="2.2" rx="0.8"/><rect x="721.2" y="604.7" width="2.3" height="2.2" rx="0.8"/><rect x="724.4" y="604.7" width="2.3" height="2.2" rx="0.8"/><rect x="700.6" y="608.0" width="2.3" height="2.2" rx="0.8"/><rect x="704.0" y="608.0" width="2.3" height="2.2" rx="0.8"/><rect x="707.4" y="608.0" width="2.3" height="2.2" rx="0.8"/><rect x="710.7" y="608.0" width="2.3" height="2.2" rx="0.8"/><rect x="714.1" y="608.0" width="2.3" height="2.2" rx="0.8"/><rect x="717.5" y="608.0" width="2.3" height="2.2" rx="0.8"/><rect x="720.9" y="608.0" width="2.3" height="2.2" rx="0.8"/><rect x="724.3" y="608.0" width="2.3" height="2.2" rx="0.8"/><rect x="702.0" y="611.4" width="2.3" height="2.2" rx="0.8"/><rect x="705.2" y="611.4" width="2.3" height="2.2" rx="0.8"/><rect x="708.4" y="611.4" width="2.3" height="2.2" rx="0.8"/><rect x="711.7" y="611.4" width="2.3" height="2.2" rx="0.8"/><rect x="714.9" y="611.4" width="2.3" height="2.2" rx="0.8"/><rect x="718.2" y="611.4" width="2.3" height="2.2" rx="0.8"/><rect x="721.4" y="611.4" width="2.3" height="2.2" rx="0.8"/><rect x="724.7" y="611.4" width="2.3" height="2.2" rx="0.8"/><rect x="703.4" y="614.7" width="2.3" height="2.2" rx="0.8"/><rect x="706.9" y="614.7" width="2.3" height="2.2" rx="0.8"/><rect x="710.4" y="614.7" width="2.3" height="2.2" rx="0.8"/><rect x="713.9" y="614.7" width="2.3" height="2.2" rx="0.8"/><rect x="717.4" y="614.7" width="2.3" height="2.2" rx="0.8"/><rect x="720.9" y="614.7" width="2.3" height="2.2" rx="0.8"/><rect x="724.4" y="614.7" width="2.3" height="2.2" rx="0.8"/><rect x="704.6" y="618.1" width="2.3" height="2.2" rx="0.8"/><rect x="708.0" y="618.1" width="2.3" height="2.2" rx="0.8"/><rect x="711.3" y="618.1" width="2.3" height="2.2" rx="0.8"/><rect x="714.7" y="618.1" width="2.3" height="2.2" rx="0.8"/><rect x="718.0" y="618.1" width="2.3" height="2.2" rx="0.8"/><rect x="721.4" y="618.1" width="2.3" height="2.2" rx="0.8"/><rect x="724.7" y="618.1" width="2.3" height="2.2" rx="0.8"/><rect x="705.8" y="621.4" width="2.3" height="2.2" rx="0.8"/><rect x="709.0" y="621.4" width="2.3" height="2.2" rx="0.8"/><rect x="712.2" y="621.4" width="2.3" height="2.2" rx="0.8"/><rect x="715.4" y="621.4" width="2.3" height="2.2" rx="0.8"/><rect x="718.6" y="621.4" width="2.3" height="2.2" rx="0.8"/><rect x="721.8" y="621.4" width="2.3" height="2.2" rx="0.8"/><rect x="725.0" y="621.4" width="2.3" height="2.2" rx="0.8"/><rect x="707.2" y="624.8" width="2.3" height="2.2" rx="0.8"/><rect x="710.7" y="624.8" width="2.3" height="2.2" rx="0.8"/><rect x="714.2" y="624.8" width="2.3" height="2.2" rx="0.8"/><rect x="717.7" y="624.8" width="2.3" height="2.2" rx="0.8"/><rect x="721.1" y="624.8" width="2.3" height="2.2" rx="0.8"/><rect x="724.6" y="624.8" width="2.3" height="2.2" rx="0.8"/><rect x="708.5" y="628.1" width="2.3" height="2.2" rx="0.8"/><rect x="711.7" y="628.1" width="2.3" height="2.2" rx="0.8"/><rect x="715.0" y="628.1" width="2.3" height="2.2" rx="0.8"/><rect x="718.3" y="628.1" width="2.3" height="2.2" rx="0.8"/><rect x="721.6" y="628.1" width="2.3" height="2.2" rx="0.8"/><rect x="724.8" y="628.1" width="2.3" height="2.2" rx="0.8"/><rect x="710.0" y="631.5" width="2.3" height="2.2" rx="0.8"/><rect x="713.6" y="631.5" width="2.3" height="2.2" rx="0.8"/><rect x="717.1" y="631.5" width="2.3" height="2.2" rx="0.8"/><rect x="720.7" y="631.5" width="2.3" height="2.2" rx="0.8"/><rect x="724.3" y="631.5" width="2.3" height="2.2" rx="0.8"/><rect x="711.3" y="634.8" width="2.3" height="2.2" rx="0.8"/><rect x="714.6" y="634.8" width="2.3" height="2.2" rx="0.8"/><rect x="717.9" y="634.8" width="2.3" height="2.2" rx="0.8"/><rect x="721.2" y="634.8" width="2.3" height="2.2" rx="0.8"/><rect x="724.5" y="634.8" width="2.3" height="2.2" rx="0.8"/><rect x="712.9" y="638.2" width="2.3" height="2.2" rx="0.8"/><rect x="716.5" y="638.2" width="2.3" height="2.2" rx="0.8"/><rect x="720.1" y="638.2" width="2.3" height="2.2" rx="0.8"/><rect x="723.7" y="638.2" width="2.3" height="2.2" rx="0.8"/><rect x="713.5" y="641.5" width="2.3" height="2.2" rx="0.8"/><rect x="716.9" y="641.5" width="2.3" height="2.2" rx="0.8"/><rect x="720.3" y="641.5" width="2.3" height="2.2" rx="0.8"/><rect x="723.7" y="641.5" width="2.3" height="2.2" rx="0.8"/></g>
<path d="M733.8 385.1C734.2 387.6 735.8 395.8 736.1 400.3C736.4 404.8 735.9 408.2 735.5 412.0C735.1 415.8 734.8 417.9 733.8 423.0C732.8 428.1 731.2 436.8 729.3 442.6C727.4 448.4 724.3 452.4 722.5 458.0C720.7 463.6 719.9 469.8 718.7 476.0C717.5 482.2 716.3 489.4 715.5 495.0C714.7 500.6 714.2 503.1 714.1 509.9C714.0 516.7 714.3 527.3 714.9 535.6C715.5 543.9 715.8 551.6 717.6 559.8C719.4 567.9 723.7 577.8 725.7 584.5C727.7 591.2 728.6 594.9 729.5 600.0C730.4 605.1 730.6 609.9 730.8 615.2C731.0 620.5 731.0 626.5 730.8 632.0C730.6 637.5 729.7 645.8 729.5 648.5" fill="none" stroke="#231f20" stroke-width="1.8" />
<path d="M715.6 395.0C714.9 397.4 712.7 405.1 711.1 409.3C709.5 413.5 707.8 416.5 706.0 420.0C704.2 423.5 702.2 426.8 700.5 430.5C698.8 434.2 697.3 438.0 696.0 442.0C694.7 446.0 693.9 450.9 692.9 454.7C691.9 458.5 691.3 460.3 690.3 465.0C689.3 469.7 687.6 475.2 686.9 482.7C686.2 490.2 686.1 501.1 686.1 509.9C686.1 518.7 686.5 528.3 686.9 535.6C687.3 542.9 687.7 545.6 688.6 553.8C689.5 561.9 691.1 576.8 692.4 584.5C693.7 592.2 694.8 594.9 696.5 600.0C698.2 605.1 700.8 610.5 702.6 615.2C704.4 619.9 705.8 623.7 707.5 628.0C709.2 632.3 712.0 638.7 712.9 640.8" fill="none" stroke="#231f20" stroke-width="1.1" />
<path d="M732.7 392.0C732.8 393.0 733.4 396.0 733.6 398.0C733.8 400.0 733.9 402.0 733.9 404.0C733.8 406.0 733.6 408.0 733.4 410.0C733.2 412.0 733.0 414.0 732.7 416.0C732.5 418.0 732.1 420.0 731.7 422.0C731.3 424.0 730.9 426.0 730.5 428.0C730.1 430.0 729.7 432.0 729.2 434.0C728.8 436.0 728.4 438.0 727.8 440.0C727.2 442.0 726.5 444.0 725.7 446.0C724.9 448.0 723.7 450.0 722.7 452.0C721.8 454.0 720.9 456.0 720.2 458.0C719.5 460.0 719.1 462.0 718.6 464.0C718.2 466.0 717.9 468.0 717.5 470.0C717.1 472.0 716.8 474.0 716.4 476.0C716.0 478.0 715.7 480.0 715.3 482.0C714.9 484.0 714.6 486.0 714.3 488.0C713.9 490.0 713.6 492.0 713.3 494.0C713.0 496.0 712.7 498.0 712.5 500.0C712.3 502.0 712.0 504.0 711.9 506.0C711.8 508.0 711.8 510.0 711.8 512.0C711.8 514.0 711.8 516.0 711.8 518.0C711.9 520.0 711.9 522.0 712.0 524.0C712.1 526.0 712.2 528.0 712.3 530.0C712.4 532.0 712.5 534.0 712.6 536.0C712.8 538.0 712.9 540.0 713.0 542.0C713.2 544.0 713.3 546.0 713.5 548.0C713.7 550.0 713.9 552.0 714.2 554.0C714.5 556.0 714.9 558.0 715.3 560.0C715.8 562.0 716.4 564.0 717.0 566.0C717.6 568.0 718.3 570.0 719.0 572.0C719.7 574.0 720.5 576.0 721.2 578.0C721.9 580.0 722.6 582.0 723.2 584.0C723.9 586.0 724.4 588.0 725.0 590.0C725.5 592.0 726.0 594.0 726.5 596.0C726.9 598.0 727.2 600.0 727.5 602.0C727.8 604.0 728.0 606.0 728.1 608.0C728.3 610.0 728.4 612.0 728.5 614.0C728.5 616.0 728.6 618.0 728.6 620.0C728.7 622.0 728.7 624.0 728.6 626.0C728.6 628.0 728.6 630.0 728.5 632.0C728.4 634.0 728.2 637.0 728.1 638.0" fill="none" stroke="#ddd" stroke-width="0.5" />
<path d="M717.5 385.1L733.6 385.1L724.5 391.4L710.4 391.7Z" fill="#fff" stroke="#231f20" stroke-width="1.7" />
<path d="M710.4 391.7L702.3 394.4L695.3 400.6" fill="none" stroke="#231f20" stroke-width="1.3" />
<path d="M691.2 391.8L710.4 391.7" fill="none" stroke="#231f20" stroke-width="1.8" />
<path d="M682.2 633.1L692.4 640.8L710.3 645.9L728.2 649.8L730.5 646.0" fill="none" stroke="#231f20" stroke-width="1.3" />
<path d="M690.0 636.0L700.0 637.5L712.9 640.8" fill="none" stroke="#231f20" stroke-width="1.0" />
<g fill="#fff">
<path d="M689.4 505.4V492Q689.4 484 697 484H703.5Q711.3 484 711.4 492V505.4" fill="#fff" stroke="#231f20" stroke-width="1.0" />
<path d="M696.5 505.4V492Q696.5 486.5 702 486.3" fill="none" stroke="#231f20" stroke-width="0.9" />
<path d="M689.4 530V545Q689.4 552.6 697 552.6H703.5Q711.3 552.6 711.4 545V530" fill="#fff" stroke="#231f20" stroke-width="1.0" />
<path d="M696.5 529.6V544Q696.5 549 702 549.4" fill="none" stroke="#231f20" stroke-width="0.9" />
<path d="M660.5 511.5L675.3 510.2L680.3 505.2H693V506H711.4V530.1H693V530.5L680.3 529L676.5 524.2L660.5 522.2" fill="#fff" stroke="#231f20" stroke-width="1.0" />
<path d="M660.5 511.6L675.3 510.4L680.3 505.3H692.5" fill="none" stroke="#231f20" stroke-width="1.9" />
<path d="M660.5 522.1L676.5 523.9L680.3 528.8H692.5" fill="none" stroke="#231f20" stroke-width="1.9" />
<path d="M675.3 511.6L687.6 511L693 507.5" fill="none" stroke="#231f20" stroke-width="0.9" />
<path d="M676.5 522.6L688 523.4L693 528.3" fill="none" stroke="#231f20" stroke-width="0.9" />
<path d="M693 506V530.1" fill="none" stroke="#231f20" stroke-width="1.0" />
<path d="M703.8 506V530.1" fill="none" stroke="#231f20" stroke-width="1.0" />
<rect x="695.6" y="510.4" width="4" height="4" rx="1" fill="#fff" stroke="#231f20" stroke-width="0.9"/>
<rect x="695.6" y="515.6" width="4" height="4" rx="1" fill="#fff" stroke="#231f20" stroke-width="0.9"/>
<rect x="695.6" y="520.8" width="4" height="4" rx="1" fill="#fff" stroke="#231f20" stroke-width="0.9"/>
<rect x="707.4" y="509.8" width="3.2" height="4.6" fill="#555" stroke="#231f20" stroke-width="0.8"/>
<rect x="707.4" y="520" width="3.2" height="4.6" fill="#555" stroke="#231f20" stroke-width="0.8"/>
<path d="M715.4 484.0C715.2 485.3 714.5 489.3 714.1 492.0C713.7 494.7 713.3 497.7 713.0 500.0C712.7 502.3 712.5 505.0 712.4 506.0" fill="none" stroke="#231f20" stroke-width="1.2" />
<path d="M712.8 530.0C712.8 531.3 713.1 535.3 713.3 538.0C713.4 540.7 713.6 543.5 713.8 546.0C714.1 548.5 714.5 551.8 714.6 553.0" fill="none" stroke="#231f20" stroke-width="1.2" />
</g>
<path d="M468.8 516H476.4" fill="none" stroke="#231f20" stroke-width="1.6" />
<path d="M482.9 517H489.3" fill="none" stroke="#231f20" stroke-width="2.2" />
<path d="M456.7 598.7H463M461 597.2L463 598.7L461 600.2" fill="none" stroke="#231f20" stroke-width="0.8" />
<path d="M472.5 599H479.4M474.5 597.5L472.5 599L474.5 600.5" fill="none" stroke="#231f20" stroke-width="0.8" />
<path d="M456 432.5H461M459.3 431L461 432.5L459.3 434" fill="none" stroke="#231f20" stroke-width="0.8" />
<path d="M477 434H471.5M473.2 432.5L471.5 434L473.2 435.5" fill="none" stroke="#231f20" stroke-width="0.8" />
</g>
<path d="M322.8 341.4L467.7 430.0L351.8 396.9A176.6 152.8 0 1 1 322.8 341.4Z" fill="#fff" stroke="#231f20" stroke-width="1.1" />
<clipPath id="clipe"><ellipse cx="179.6" cy="430.8" rx="176.2" ry="152.4"/></clipPath>
<g clip-path="url(#clipe)" stroke-linecap="round">
<g transform="translate(80.7 291.2) rotate(-20)"><ellipse rx="3.4" ry="4.4" fill="#fff" stroke="#231f20" stroke-width="1.0"/><ellipse cx="-0.8" cy="0" rx="2.3" ry="3.5" fill="none" stroke="#231f20" stroke-width="0.9"/></g>
<g transform="translate(85.0 303.5) rotate(-19)"><ellipse rx="3.4" ry="4.5" fill="#fff" stroke="#231f20" stroke-width="1.0"/><ellipse cx="-0.8" cy="0" rx="2.3" ry="3.6" fill="none" stroke="#231f20" stroke-width="0.9"/></g>
<g transform="translate(89.2 315.9) rotate(-18)"><ellipse rx="3.5" ry="4.6" fill="#fff" stroke="#231f20" stroke-width="1.0"/><ellipse cx="-0.8" cy="0" rx="2.4" ry="3.7" fill="none" stroke="#231f20" stroke-width="0.9"/></g>
<g transform="translate(93.2 328.4) rotate(-17)"><ellipse rx="3.6" ry="4.7" fill="#fff" stroke="#231f20" stroke-width="1.0"/><ellipse cx="-0.8" cy="0" rx="2.5" ry="3.8" fill="none" stroke="#231f20" stroke-width="0.9"/></g>
<g transform="translate(96.8 341.0) rotate(-15)"><ellipse rx="3.7" ry="4.9" fill="#fff" stroke="#231f20" stroke-width="1.0"/><ellipse cx="-0.8" cy="0" rx="2.6" ry="4.0" fill="none" stroke="#231f20" stroke-width="0.9"/></g>
<g transform="translate(100.1 353.7) rotate(-13)"><ellipse rx="3.8" ry="5.0" fill="#fff" stroke="#231f20" stroke-width="1.0"/><ellipse cx="-0.8" cy="0" rx="2.7" ry="4.1" fill="none" stroke="#231f20" stroke-width="0.9"/></g>
<g transform="translate(102.8 366.5) rotate(-12)"><ellipse rx="3.9" ry="5.1" fill="#fff" stroke="#231f20" stroke-width="1.0"/><ellipse cx="-0.8" cy="0" rx="2.8" ry="4.2" fill="none" stroke="#231f20" stroke-width="0.9"/></g>
<g transform="translate(105.1 379.4) rotate(-8)"><ellipse rx="4.0" ry="5.2" fill="#fff" stroke="#231f20" stroke-width="1.0"/><ellipse cx="-0.8" cy="0" rx="2.9" ry="4.3" fill="none" stroke="#231f20" stroke-width="0.9"/></g>
<g transform="translate(106.5 392.4) rotate(-4)"><ellipse rx="4.0" ry="5.3" fill="#fff" stroke="#231f20" stroke-width="1.0"/><ellipse cx="-0.8" cy="0" rx="2.9" ry="4.4" fill="none" stroke="#231f20" stroke-width="0.9"/></g>
<g transform="translate(107.2 405.5) rotate(-3)"><ellipse rx="4.1" ry="5.4" fill="#fff" stroke="#231f20" stroke-width="1.0"/><ellipse cx="-0.8" cy="0" rx="3.0" ry="4.5" fill="none" stroke="#231f20" stroke-width="0.9"/></g>
<g transform="translate(107.8 418.6) rotate(-2)"><ellipse rx="4.1" ry="5.4" fill="#fff" stroke="#231f20" stroke-width="1.0"/><ellipse cx="-0.8" cy="0" rx="3.0" ry="4.5" fill="none" stroke="#231f20" stroke-width="0.9"/></g>
<g transform="translate(108.2 431.7) rotate(-2)"><ellipse rx="4.1" ry="5.4" fill="#fff" stroke="#231f20" stroke-width="1.0"/><ellipse cx="-0.8" cy="0" rx="3.0" ry="4.5" fill="none" stroke="#231f20" stroke-width="0.9"/></g>
<g transform="translate(108.6 444.8) rotate(-2)"><ellipse rx="4.1" ry="5.4" fill="#fff" stroke="#231f20" stroke-width="1.0"/><ellipse cx="-0.8" cy="0" rx="3.0" ry="4.5" fill="none" stroke="#231f20" stroke-width="0.9"/></g>
<g transform="translate(109.0 457.9) rotate(-1)"><ellipse rx="4.1" ry="5.4" fill="#fff" stroke="#231f20" stroke-width="1.0"/><ellipse cx="-0.8" cy="0" rx="3.0" ry="4.5" fill="none" stroke="#231f20" stroke-width="0.9"/></g>
<g transform="translate(109.3 471.0) rotate(-1)"><ellipse rx="4.1" ry="5.4" fill="#fff" stroke="#231f20" stroke-width="1.0"/><ellipse cx="-0.8" cy="0" rx="3.0" ry="4.5" fill="none" stroke="#231f20" stroke-width="0.9"/></g>
<g transform="translate(109.5 484.1) rotate(-1)"><ellipse rx="4.1" ry="5.4" fill="#fff" stroke="#231f20" stroke-width="1.0"/><ellipse cx="-0.8" cy="0" rx="3.0" ry="4.5" fill="none" stroke="#231f20" stroke-width="0.9"/></g>
<g transform="translate(109.7 497.2) rotate(-0)"><ellipse rx="4.1" ry="5.4" fill="#fff" stroke="#231f20" stroke-width="1.0"/><ellipse cx="-0.8" cy="0" rx="3.0" ry="4.5" fill="none" stroke="#231f20" stroke-width="0.9"/></g>
<g transform="translate(109.5 510.3) rotate(2)"><ellipse rx="4.1" ry="5.4" fill="#fff" stroke="#231f20" stroke-width="1.0"/><ellipse cx="-0.8" cy="0" rx="3.0" ry="4.5" fill="none" stroke="#231f20" stroke-width="0.9"/></g>
<g transform="translate(109.1 523.4) rotate(2)"><ellipse rx="4.1" ry="5.4" fill="#fff" stroke="#231f20" stroke-width="1.0"/><ellipse cx="-0.8" cy="0" rx="3.0" ry="4.5" fill="none" stroke="#231f20" stroke-width="0.9"/></g>
<g transform="translate(108.5 536.4) rotate(3)"><ellipse rx="4.1" ry="5.4" fill="#fff" stroke="#231f20" stroke-width="1.0"/><ellipse cx="-0.8" cy="0" rx="3.0" ry="4.5" fill="none" stroke="#231f20" stroke-width="0.9"/></g>
<g transform="translate(107.7 549.5) rotate(4)"><ellipse rx="4.1" ry="5.4" fill="#fff" stroke="#231f20" stroke-width="1.0"/><ellipse cx="-0.8" cy="0" rx="3.0" ry="4.5" fill="none" stroke="#231f20" stroke-width="0.9"/></g>
<g transform="translate(106.8 562.6) rotate(4)"><ellipse rx="4.1" ry="5.4" fill="#fff" stroke="#231f20" stroke-width="1.0"/><ellipse cx="-0.8" cy="0" rx="3.0" ry="4.5" fill="none" stroke="#231f20" stroke-width="0.9"/></g>
<g transform="translate(105.7 575.6) rotate(4)"><ellipse rx="4.1" ry="5.4" fill="#fff" stroke="#231f20" stroke-width="1.0"/><ellipse cx="-0.8" cy="0" rx="3.0" ry="4.5" fill="none" stroke="#231f20" stroke-width="0.9"/></g>
<g transform="translate(104.8 588.7) rotate(4)"><ellipse rx="4.1" ry="5.4" fill="#fff" stroke="#231f20" stroke-width="1.0"/><ellipse cx="-0.8" cy="0" rx="3.0" ry="4.5" fill="none" stroke="#231f20" stroke-width="0.9"/></g>
<g transform="translate(85.5 281.1) rotate(-24)"><ellipse rx="3.4" ry="4.4" fill="#fff" stroke="#231f20" stroke-width="1.0"/><ellipse cx="-0.8" cy="0" rx="2.3" ry="3.5" fill="none" stroke="#231f20" stroke-width="0.9"/></g>
<g transform="translate(90.4 293.2) rotate(-20)"><ellipse rx="3.4" ry="4.4" fill="#fff" stroke="#231f20" stroke-width="1.0"/><ellipse cx="-0.8" cy="0" rx="2.3" ry="3.5" fill="none" stroke="#231f20" stroke-width="0.9"/></g>
<g transform="translate(95.0 305.5) rotate(-20)"><ellipse rx="3.4" ry="4.5" fill="#fff" stroke="#231f20" stroke-width="1.0"/><ellipse cx="-0.8" cy="0" rx="2.3" ry="3.6" fill="none" stroke="#231f20" stroke-width="0.9"/></g>
<g transform="translate(99.4 317.8) rotate(-19)"><ellipse rx="3.5" ry="4.6" fill="#fff" stroke="#231f20" stroke-width="1.0"/><ellipse cx="-0.8" cy="0" rx="2.4" ry="3.7" fill="none" stroke="#231f20" stroke-width="0.9"/></g>
<g transform="translate(103.6 330.2) rotate(-18)"><ellipse rx="3.6" ry="4.8" fill="#fff" stroke="#231f20" stroke-width="1.0"/><ellipse cx="-0.8" cy="0" rx="2.5" ry="3.9" fill="none" stroke="#231f20" stroke-width="0.9"/></g>
<g transform="translate(107.4 342.7) rotate(-16)"><ellipse rx="3.7" ry="4.9" fill="#fff" stroke="#231f20" stroke-width="1.0"/><ellipse cx="-0.8" cy="0" rx="2.6" ry="4.0" fill="none" stroke="#231f20" stroke-width="0.9"/></g>
<g transform="translate(110.9 355.4) rotate(-14)"><ellipse rx="3.8" ry="5.0" fill="#fff" stroke="#231f20" stroke-width="1.0"/><ellipse cx="-0.8" cy="0" rx="2.7" ry="4.1" fill="none" stroke="#231f20" stroke-width="0.9"/></g>
<g transform="translate(113.9 368.1) rotate(-13)"><ellipse rx="3.9" ry="5.1" fill="#fff" stroke="#231f20" stroke-width="1.0"/><ellipse cx="-0.8" cy="0" rx="2.8" ry="4.2" fill="none" stroke="#231f20" stroke-width="0.9"/></g>
<g transform="translate(116.4 381.0) rotate(-8)"><ellipse rx="4.0" ry="5.2" fill="#fff" stroke="#231f20" stroke-width="1.0"/><ellipse cx="-0.8" cy="0" rx="2.9" ry="4.3" fill="none" stroke="#231f20" stroke-width="0.9"/></g>
<g transform="translate(117.9 394.0) rotate(-4)"><ellipse rx="4.1" ry="5.3" fill="#fff" stroke="#231f20" stroke-width="1.0"/><ellipse cx="-0.8" cy="0" rx="3.0" ry="4.4" fill="none" stroke="#231f20" stroke-width="0.9"/></g>
<g transform="translate(118.7 407.1) rotate(-3)"><ellipse rx="4.1" ry="5.4" fill="#fff" stroke="#231f20" stroke-width="1.0"/><ellipse cx="-0.8" cy="0" rx="3.0" ry="4.5" fill="none" stroke="#231f20" stroke-width="0.9"/></g>
<g transform="translate(119.3 420.2) rotate(-2)"><ellipse rx="4.1" ry="5.4" fill="#fff" stroke="#231f20" stroke-width="1.0"/><ellipse cx="-0.8" cy="0" rx="3.0" ry="4.5" fill="none" stroke="#231f20" stroke-width="0.9"/></g>
<g transform="translate(119.7 433.3) rotate(-2)"><ellipse rx="4.1" ry="5.4" fill="#fff" stroke="#231f20" stroke-width="1.0"/><ellipse cx="-0.8" cy="0" rx="3.0" ry="4.5" fill="none" stroke="#231f20" stroke-width="0.9"/></g>
<g transform="translate(120.2 446.3) rotate(-2)"><ellipse rx="4.1" ry="5.4" fill="#fff" stroke="#231f20" stroke-width="1.0"/><ellipse cx="-0.8" cy="0" rx="3.0" ry="4.5" fill="none" stroke="#231f20" stroke-width="0.9"/></g>
<g transform="translate(120.6 459.4) rotate(-1)"><ellipse rx="4.1" ry="5.4" fill="#fff" stroke="#231f20" stroke-width="1.0"/><ellipse cx="-0.8" cy="0" rx="3.0" ry="4.5" fill="none" stroke="#231f20" stroke-width="0.9"/></g>
<g transform="translate(120.8 472.5) rotate(-1)"><ellipse rx="4.1" ry="5.4" fill="#fff" stroke="#231f20" stroke-width="1.0"/><ellipse cx="-0.8" cy="0" rx="3.0" ry="4.5" fill="none" stroke="#231f20" stroke-width="0.9"/></g>
<g transform="translate(121.0 485.6) rotate(-1)"><ellipse rx="4.1" ry="5.4" fill="#fff" stroke="#231f20" stroke-width="1.0"/><ellipse cx="-0.8" cy="0" rx="3.0" ry="4.5" fill="none" stroke="#231f20" stroke-width="0.9"/></g>
<g transform="translate(121.2 498.7) rotate(0)"><ellipse rx="4.1" ry="5.4" fill="#fff" stroke="#231f20" stroke-width="1.0"/><ellipse cx="-0.8" cy="0" rx="3.0" ry="4.5" fill="none" stroke="#231f20" stroke-width="0.9"/></g>
<g transform="translate(121.0 511.8) rotate(2)"><ellipse rx="4.1" ry="5.4" fill="#fff" stroke="#231f20" stroke-width="1.0"/><ellipse cx="-0.8" cy="0" rx="3.0" ry="4.5" fill="none" stroke="#231f20" stroke-width="0.9"/></g>
<g transform="translate(120.5 524.9) rotate(2)"><ellipse rx="4.1" ry="5.4" fill="#fff" stroke="#231f20" stroke-width="1.0"/><ellipse cx="-0.8" cy="0" rx="3.0" ry="4.5" fill="none" stroke="#231f20" stroke-width="0.9"/></g>
<g transform="translate(119.9 538.0) rotate(3)"><ellipse rx="4.1" ry="5.4" fill="#fff" stroke="#231f20" stroke-width="1.0"/><ellipse cx="-0.8" cy="0" rx="3.0" ry="4.5" fill="none" stroke="#231f20" stroke-width="0.9"/></g>
<g transform="translate(119.1 551.1) rotate(4)"><ellipse rx="4.1" ry="5.4" fill="#fff" stroke="#231f20" stroke-width="1.0"/><ellipse cx="-0.8" cy="0" rx="3.0" ry="4.5" fill="none" stroke="#231f20" stroke-width="0.9"/></g>
<g transform="translate(118.2 564.2) rotate(4)"><ellipse rx="4.1" ry="5.4" fill="#fff" stroke="#231f20" stroke-width="1.0"/><ellipse cx="-0.8" cy="0" rx="3.0" ry="4.5" fill="none" stroke="#231f20" stroke-width="0.9"/></g>
<g transform="translate(117.1 577.2) rotate(4)"><ellipse rx="4.1" ry="5.4" fill="#fff" stroke="#231f20" stroke-width="1.0"/><ellipse cx="-0.8" cy="0" rx="3.0" ry="4.5" fill="none" stroke="#231f20" stroke-width="0.9"/></g>
<g transform="translate(116.1 590.3) rotate(4)"><ellipse rx="4.1" ry="5.4" fill="#fff" stroke="#231f20" stroke-width="1.0"/><ellipse cx="-0.8" cy="0" rx="3.0" ry="4.5" fill="none" stroke="#231f20" stroke-width="0.9"/></g>
<g transform="translate(95.2 286.3) rotate(-22)"><ellipse rx="3.4" ry="4.4" fill="#fff" stroke="#231f20" stroke-width="1.0"/><ellipse cx="-0.8" cy="0" rx="2.3" ry="3.5" fill="none" stroke="#231f20" stroke-width="0.9"/></g>
<g transform="translate(100.0 298.5) rotate(-21)"><ellipse rx="3.4" ry="4.5" fill="#fff" stroke="#231f20" stroke-width="1.0"/><ellipse cx="-0.8" cy="0" rx="2.3" ry="3.6" fill="none" stroke="#231f20" stroke-width="0.9"/></g>
<g transform="translate(104.7 310.7) rotate(-21)"><ellipse rx="3.5" ry="4.6" fill="#fff" stroke="#231f20" stroke-width="1.0"/><ellipse cx="-0.8" cy="0" rx="2.4" ry="3.7" fill="none" stroke="#231f20" stroke-width="0.9"/></g>
<g transform="translate(109.3 322.9) rotate(-20)"><ellipse rx="3.6" ry="4.7" fill="#fff" stroke="#231f20" stroke-width="1.0"/><ellipse cx="-0.8" cy="0" rx="2.5" ry="3.8" fill="none" stroke="#231f20" stroke-width="0.9"/></g>
<g transform="translate(113.7 335.3) rotate(-18)"><ellipse rx="3.6" ry="4.8" fill="#fff" stroke="#231f20" stroke-width="1.0"/><ellipse cx="-0.8" cy="0" rx="2.5" ry="3.9" fill="none" stroke="#231f20" stroke-width="0.9"/></g>
<g transform="translate(117.6 347.8) rotate(-17)"><ellipse rx="3.7" ry="4.9" fill="#fff" stroke="#231f20" stroke-width="1.0"/><ellipse cx="-0.8" cy="0" rx="2.6" ry="4.0" fill="none" stroke="#231f20" stroke-width="0.9"/></g>
<g transform="translate(121.1 360.4) rotate(-14)"><ellipse rx="3.8" ry="5.0" fill="#fff" stroke="#231f20" stroke-width="1.0"/><ellipse cx="-0.8" cy="0" rx="2.7" ry="4.1" fill="none" stroke="#231f20" stroke-width="0.9"/></g>
<g transform="translate(124.4 373.1) rotate(-13)"><ellipse rx="3.9" ry="5.2" fill="#fff" stroke="#231f20" stroke-width="1.0"/><ellipse cx="-0.8" cy="0" rx="2.8" ry="4.3" fill="none" stroke="#231f20" stroke-width="0.9"/></g>
<g transform="translate(126.8 386.0) rotate(-7)"><ellipse rx="4.0" ry="5.3" fill="#fff" stroke="#231f20" stroke-width="1.0"/><ellipse cx="-0.8" cy="0" rx="2.9" ry="4.4" fill="none" stroke="#231f20" stroke-width="0.9"/></g>
<g transform="translate(128.1 399.0) rotate(-4)"><ellipse rx="4.1" ry="5.4" fill="#fff" stroke="#231f20" stroke-width="1.0"/><ellipse cx="-0.8" cy="0" rx="3.0" ry="4.5" fill="none" stroke="#231f20" stroke-width="0.9"/></g>
<g transform="translate(128.9 412.1) rotate(-3)"><ellipse rx="4.1" ry="5.4" fill="#fff" stroke="#231f20" stroke-width="1.0"/><ellipse cx="-0.8" cy="0" rx="3.0" ry="4.5" fill="none" stroke="#231f20" stroke-width="0.9"/></g>
<g transform="translate(129.4 425.2) rotate(-2)"><ellipse rx="4.1" ry="5.4" fill="#fff" stroke="#231f20" stroke-width="1.0"/><ellipse cx="-0.8" cy="0" rx="3.0" ry="4.5" fill="none" stroke="#231f20" stroke-width="0.9"/></g>
<g transform="translate(129.9 438.3) rotate(-2)"><ellipse rx="4.1" ry="5.4" fill="#fff" stroke="#231f20" stroke-width="1.0"/><ellipse cx="-0.8" cy="0" rx="3.0" ry="4.5" fill="none" stroke="#231f20" stroke-width="0.9"/></g>
<g transform="translate(130.4 451.3) rotate(-2)"><ellipse rx="4.1" ry="5.4" fill="#fff" stroke="#231f20" stroke-width="1.0"/><ellipse cx="-0.8" cy="0" rx="3.0" ry="4.5" fill="none" stroke="#231f20" stroke-width="0.9"/></g>
<g transform="translate(130.7 464.4) rotate(-1)"><ellipse rx="4.1" ry="5.4" fill="#fff" stroke="#231f20" stroke-width="1.0"/><ellipse cx="-0.8" cy="0" rx="3.0" ry="4.5" fill="none" stroke="#231f20" stroke-width="0.9"/></g>
<g transform="translate(130.9 477.5) rotate(-1)"><ellipse rx="4.1" ry="5.4" fill="#fff" stroke="#231f20" stroke-width="1.0"/><ellipse cx="-0.8" cy="0" rx="3.0" ry="4.5" fill="none" stroke="#231f20" stroke-width="0.9"/></g>
<g transform="translate(131.1 490.6) rotate(-1)"><ellipse rx="4.1" ry="5.4" fill="#fff" stroke="#231f20" stroke-width="1.0"/><ellipse cx="-0.8" cy="0" rx="3.0" ry="4.5" fill="none" stroke="#231f20" stroke-width="0.9"/></g>
<g transform="translate(131.1 503.7) rotate(1)"><ellipse rx="4.1" ry="5.4" fill="#fff" stroke="#231f20" stroke-width="1.0"/><ellipse cx="-0.8" cy="0" rx="3.0" ry="4.5" fill="none" stroke="#231f20" stroke-width="0.9"/></g>
<g transform="translate(130.8 516.8) rotate(2)"><ellipse rx="4.1" ry="5.4" fill="#fff" stroke="#231f20" stroke-width="1.0"/><ellipse cx="-0.8" cy="0" rx="3.0" ry="4.5" fill="none" stroke="#231f20" stroke-width="0.9"/></g>
<g transform="translate(130.3 529.9) rotate(3)"><ellipse rx="4.1" ry="5.4" fill="#fff" stroke="#231f20" stroke-width="1.0"/><ellipse cx="-0.8" cy="0" rx="3.0" ry="4.5" fill="none" stroke="#231f20" stroke-width="0.9"/></g>
<g transform="translate(129.6 543.0) rotate(3)"><ellipse rx="4.1" ry="5.4" fill="#fff" stroke="#231f20" stroke-width="1.0"/><ellipse cx="-0.8" cy="0" rx="3.0" ry="4.5" fill="none" stroke="#231f20" stroke-width="0.9"/></g>
<g transform="translate(128.8 556.1) rotate(4)"><ellipse rx="4.1" ry="5.4" fill="#fff" stroke="#231f20" stroke-width="1.0"/><ellipse cx="-0.8" cy="0" rx="3.0" ry="4.5" fill="none" stroke="#231f20" stroke-width="0.9"/></g>
<g transform="translate(127.8 569.1) rotate(5)"><ellipse rx="4.1" ry="5.4" fill="#fff" stroke="#231f20" stroke-width="1.0"/><ellipse cx="-0.8" cy="0" rx="3.0" ry="4.5" fill="none" stroke="#231f20" stroke-width="0.9"/></g>
<g transform="translate(126.8 582.2) rotate(4)"><ellipse rx="4.1" ry="5.4" fill="#fff" stroke="#231f20" stroke-width="1.0"/><ellipse cx="-0.8" cy="0" rx="3.0" ry="4.5" fill="none" stroke="#231f20" stroke-width="0.9"/></g>
<path d="M75.0 296.0L75.1 296.3L75.3 296.5L75.4 296.8L75.6 297.0L75.8 297.3L76.0 297.5L76.2 297.8L76.4 298.1L76.6 298.5L76.9 298.9L77.2 299.4L77.4 299.9L77.7 300.4L78.0 301.1L78.4 301.8L78.7 302.7L79.1 303.6L79.5 304.6L79.9 305.7L80.3 307.0L80.8 308.4L81.2 309.9L81.8 311.6L82.3 313.4L82.9 315.3L83.5 317.2L84.1 319.3L84.7 321.4L85.3 323.6L86.0 325.9L86.6 328.2L87.3 330.5L88.0 332.8L88.6 335.2L89.3 337.5L89.9 339.8L90.6 342.1L91.2 344.3L91.8 346.5L92.4 348.6L93.0 350.7L93.6 352.7L94.2 354.7L94.8 356.7L95.3 358.8L95.9 360.8L96.5 362.7L97.1 364.7L97.7 366.7L98.3 368.8L98.9 370.8L99.4 372.8L100.0 374.9L100.5 376.9L101.1 379.0L101.6 381.1L102.1 383.3L102.6 385.5L103.0 387.7L103.5 390.0L103.9 392.3L104.4 394.7L104.8 397.1L105.2 399.5L105.6 402.0L106.0 404.5L106.3 407.0L106.7 409.5L107.1 412.1L107.4 414.6L107.7 417.2L108.1 419.8L108.4 422.4L108.7 425.0L109.0 427.6L109.3 430.2L109.5 432.7L109.8 435.3L110.1 437.9L110.3 440.4L110.5 442.9L110.8 445.5L111.0 448.2L111.2 450.8L111.4 453.5L111.6 456.2L111.8 458.9L111.9 461.6L112.1 464.3L112.2 467.0L112.4 469.6L112.5 472.2L112.6 474.8L112.8 477.3L112.9 479.8L113.0 482.2L113.1 484.5L113.2 486.7L113.2 488.9L113.3 490.9L113.4 492.8L113.4 494.7L113.4 496.4L113.5 498.1L113.5 499.7L113.5 501.2L113.5 502.6L113.5 504.0L113.5 505.4L113.4 506.7L113.4 508.0L113.4 509.3L113.3 510.6L113.3 511.9L113.2 513.2L113.2 514.5L113.1 515.8L113.1 517.1L113.0 518.6L113.0 520.0L113.0 521.5L112.9 523.0L112.8 524.5L112.8 525.9L112.7 527.4L112.7 528.9L112.6 530.4L112.5 531.9L112.5 533.4L112.4 534.9L112.3 536.4L112.2 538.0L112.1 539.5L112.1 541.0L112.0 542.5L111.9 544.0L111.8 545.5L111.7 547.0L111.6 548.5L111.5 550.0L111.4 551.5L111.3 553.1L111.2 554.7L111.0 556.3L110.9 557.9L110.8 559.6L110.6 561.2L110.5 562.9L110.4 564.5L110.2 566.1L110.1 567.7L109.9 569.3L109.8 570.8L109.7 572.3L109.5 573.8L109.4 575.2L109.3 576.5L109.2 577.7L109.1 578.9L109.0 580.0L108.9 581.0L108.8 582.0L108.8 582.9L108.7 583.7L108.6 584.5L108.6 585.3L108.5 586.0L108.4 586.7L108.4 587.3L108.3 587.9L108.3 588.4L108.3 588.9L108.2 589.4L108.2 589.8L108.1 590.3L108.1 590.7L108.1 591.0L108.1 591.4L108.0 591.7L108.0 592.0L0 600L0 270Z" fill="#fff" stroke="none" stroke-width="0" />
<path d="M75.0 296.0C75.9 297.8 77.4 298.2 80.3 307.0C83.2 315.8 88.5 334.8 92.4 348.6C96.3 362.4 100.5 374.7 103.5 390.0C106.5 405.3 108.7 423.6 110.3 440.4C111.9 457.2 112.8 477.6 113.3 490.9C113.8 504.2 113.3 510.1 113.0 520.0C112.7 529.9 112.2 540.0 111.5 550.0C110.8 560.0 109.6 573.0 109.0 580.0C108.4 587.0 108.2 590.0 108.0 592.0" fill="none" stroke="#231f20" stroke-width="1.0" />
<path d="M72.7 296.0C73.5 297.8 75.0 298.2 77.9 307.0C80.7 315.8 85.9 334.8 89.7 348.6C93.4 362.4 97.5 374.7 100.4 390.0C103.4 405.3 105.6 423.6 107.2 440.4C108.8 457.2 109.8 477.6 110.2 490.9C110.7 504.2 110.2 510.1 109.9 520.0C109.6 529.9 109.1 540.0 108.4 550.0C107.7 560.0 106.5 573.0 105.9 580.0C105.3 587.0 105.1 590.0 104.9 592.0" fill="none" stroke="#231f20" stroke-width="1.0" />
<path d="M70.3 296.0C71.2 297.8 72.7 298.2 75.5 307.0C78.2 315.8 83.3 334.8 86.9 348.6C90.6 362.4 94.5 374.7 97.4 390.0C100.2 405.3 102.5 423.6 104.1 440.4C105.7 457.2 106.6 477.6 107.1 490.9C107.5 504.2 107.1 510.1 106.8 520.0C106.5 529.9 106.0 540.0 105.3 550.0C104.6 560.0 103.4 573.0 102.8 580.0C102.2 587.0 102.0 590.0 101.8 592.0" fill="none" stroke="#231f20" stroke-width="1.0" />
<path d="M68.5 296.0C69.4 297.8 70.9 298.2 73.6 307.0C76.3 315.8 81.2 334.8 84.8 348.6C88.4 362.4 92.2 374.7 95.0 390.0C97.8 405.3 100.1 423.6 101.7 440.4C103.3 457.2 104.2 477.6 104.7 490.9C105.2 504.2 104.7 510.1 104.4 520.0C104.1 529.9 103.6 540.0 102.9 550.0C102.2 560.0 101.0 573.0 100.4 580.0C99.8 587.0 99.6 590.0 99.4 592.0" fill="none" stroke="#231f20" stroke-width="1.0" />
<path d="M100.0 280.0C100.9 282.2 102.0 284.7 105.4 293.1C108.8 301.5 116.3 319.1 120.5 330.4C124.7 341.7 127.8 350.8 130.6 360.7C133.4 370.6 135.8 376.7 137.5 390.0C139.2 403.3 139.8 424.6 140.5 440.4C141.2 456.2 141.3 473.4 141.5 485.0C141.7 496.6 141.8 500.0 141.5 510.0C141.2 520.0 140.7 533.5 140.0 545.0C139.3 556.5 138.1 571.1 137.5 578.9C136.9 586.7 136.7 589.8 136.5 592.0" fill="none" stroke="#231f20" stroke-width="1.0" />
<g transform="translate(109.0 286.9) rotate(-28)"><ellipse rx="5.2" ry="5.2" fill="#fff" stroke="#231f20" stroke-width="1.0"/><ellipse cx="-0.8" cy="0" rx="4.1" ry="4.3" fill="none" stroke="#231f20" stroke-width="0.9"/></g>
<g transform="translate(115.2 298.6) rotate(-28)"><ellipse rx="5.2" ry="5.2" fill="#fff" stroke="#231f20" stroke-width="1.0"/><ellipse cx="-0.8" cy="0" rx="4.1" ry="4.3" fill="none" stroke="#231f20" stroke-width="0.9"/></g>
<g transform="translate(121.5 310.2) rotate(-28)"><ellipse rx="5.2" ry="5.2" fill="#fff" stroke="#231f20" stroke-width="1.0"/><ellipse cx="-0.8" cy="0" rx="4.1" ry="4.3" fill="none" stroke="#231f20" stroke-width="0.9"/></g>
<g transform="translate(127.4 322.1) rotate(-25)"><ellipse rx="5.3" ry="5.3" fill="#fff" stroke="#231f20" stroke-width="1.0"/><ellipse cx="-0.8" cy="0" rx="4.2" ry="4.4" fill="none" stroke="#231f20" stroke-width="0.9"/></g>
<g transform="translate(132.5 334.3) rotate(-22)"><ellipse rx="5.3" ry="5.3" fill="#fff" stroke="#231f20" stroke-width="1.0"/><ellipse cx="-0.8" cy="0" rx="4.2" ry="4.4" fill="none" stroke="#231f20" stroke-width="0.9"/></g>
<g transform="translate(137.4 346.6) rotate(-19)"><ellipse rx="5.4" ry="5.4" fill="#fff" stroke="#231f20" stroke-width="1.0"/><ellipse cx="-0.8" cy="0" rx="4.3" ry="4.5" fill="none" stroke="#231f20" stroke-width="0.9"/></g>
<g transform="translate(141.3 359.3) rotate(-16)"><ellipse rx="5.4" ry="5.4" fill="#fff" stroke="#231f20" stroke-width="1.0"/><ellipse cx="-0.8" cy="0" rx="4.3" ry="4.5" fill="none" stroke="#231f20" stroke-width="0.9"/></g>
<g transform="translate(144.5 372.1) rotate(-14)"><ellipse rx="5.5" ry="5.5" fill="#fff" stroke="#231f20" stroke-width="1.0"/><ellipse cx="-0.8" cy="0" rx="4.4" ry="4.6" fill="none" stroke="#231f20" stroke-width="0.9"/></g>
<g transform="translate(147.8 385.0) rotate(-13)"><ellipse rx="5.5" ry="5.5" fill="#fff" stroke="#231f20" stroke-width="1.0"/><ellipse cx="-0.8" cy="0" rx="4.4" ry="4.6" fill="none" stroke="#231f20" stroke-width="0.9"/></g>
<g transform="translate(149.9 398.0) rotate(-3)"><ellipse rx="5.6" ry="5.6" fill="#fff" stroke="#231f20" stroke-width="1.0"/><ellipse cx="-0.8" cy="0" rx="4.5" ry="4.7" fill="none" stroke="#231f20" stroke-width="0.9"/></g>
<g transform="translate(150.4 411.2) rotate(-2)"><ellipse rx="5.6" ry="5.6" fill="#fff" stroke="#231f20" stroke-width="1.0"/><ellipse cx="-0.8" cy="0" rx="4.5" ry="4.7" fill="none" stroke="#231f20" stroke-width="0.9"/></g>
<g transform="translate(150.7 424.5) rotate(-1)"><ellipse rx="5.6" ry="5.6" fill="#fff" stroke="#231f20" stroke-width="1.0"/><ellipse cx="-0.8" cy="0" rx="4.5" ry="4.7" fill="none" stroke="#231f20" stroke-width="0.9"/></g>
<g transform="translate(151.0 437.7) rotate(-1)"><ellipse rx="5.6" ry="5.6" fill="#fff" stroke="#231f20" stroke-width="1.0"/><ellipse cx="-0.8" cy="0" rx="4.5" ry="4.7" fill="none" stroke="#231f20" stroke-width="0.9"/></g>
<g transform="translate(151.1 451.0) rotate(-0)"><ellipse rx="5.6" ry="5.6" fill="#fff" stroke="#231f20" stroke-width="1.0"/><ellipse cx="-0.8" cy="0" rx="4.5" ry="4.7" fill="none" stroke="#231f20" stroke-width="0.9"/></g>
<g transform="translate(151.1 464.2) rotate(0)"><ellipse rx="5.6" ry="5.6" fill="#fff" stroke="#231f20" stroke-width="1.0"/><ellipse cx="-0.8" cy="0" rx="4.5" ry="4.7" fill="none" stroke="#231f20" stroke-width="0.9"/></g>
<g transform="translate(151.1 477.5) rotate(0)"><ellipse rx="5.6" ry="5.6" fill="#fff" stroke="#231f20" stroke-width="1.0"/><ellipse cx="-0.8" cy="0" rx="4.5" ry="4.7" fill="none" stroke="#231f20" stroke-width="0.9"/></g>
<g transform="translate(151.0 490.7) rotate(1)"><ellipse rx="5.6" ry="5.6" fill="#fff" stroke="#231f20" stroke-width="1.0"/><ellipse cx="-0.8" cy="0" rx="4.5" ry="4.7" fill="none" stroke="#231f20" stroke-width="0.9"/></g>
<g transform="translate(150.8 504.0) rotate(1)"><ellipse rx="5.6" ry="5.6" fill="#fff" stroke="#231f20" stroke-width="1.0"/><ellipse cx="-0.8" cy="0" rx="4.5" ry="4.7" fill="none" stroke="#231f20" stroke-width="0.9"/></g>
<g transform="translate(150.4 517.2) rotate(2)"><ellipse rx="5.6" ry="5.6" fill="#fff" stroke="#231f20" stroke-width="1.0"/><ellipse cx="-0.8" cy="0" rx="4.5" ry="4.7" fill="none" stroke="#231f20" stroke-width="0.9"/></g>
<g transform="translate(150.0 530.5) rotate(2)"><ellipse rx="5.6" ry="5.6" fill="#fff" stroke="#231f20" stroke-width="1.0"/><ellipse cx="-0.8" cy="0" rx="4.5" ry="4.7" fill="none" stroke="#231f20" stroke-width="0.9"/></g>
<g transform="translate(149.6 543.7) rotate(2)"><ellipse rx="5.6" ry="5.6" fill="#fff" stroke="#231f20" stroke-width="1.0"/><ellipse cx="-0.8" cy="0" rx="4.5" ry="4.7" fill="none" stroke="#231f20" stroke-width="0.9"/></g>
<g transform="translate(149.1 557.0) rotate(2)"><ellipse rx="5.6" ry="5.6" fill="#fff" stroke="#231f20" stroke-width="1.0"/><ellipse cx="-0.8" cy="0" rx="4.5" ry="4.7" fill="none" stroke="#231f20" stroke-width="0.9"/></g>
<g transform="translate(148.7 570.2) rotate(2)"><ellipse rx="5.6" ry="5.6" fill="#fff" stroke="#231f20" stroke-width="1.0"/><ellipse cx="-0.8" cy="0" rx="4.5" ry="4.7" fill="none" stroke="#231f20" stroke-width="0.9"/></g>
<g transform="translate(148.3 583.4) rotate(2)"><ellipse rx="5.6" ry="5.6" fill="#fff" stroke="#231f20" stroke-width="1.0"/><ellipse cx="-0.8" cy="0" rx="4.5" ry="4.7" fill="none" stroke="#231f20" stroke-width="0.9"/></g>
<g transform="translate(128.4 294.6) rotate(-29)"><ellipse rx="5.2" ry="5.2" fill="#fff" stroke="#231f20" stroke-width="1.0"/><ellipse cx="-0.8" cy="0" rx="4.1" ry="4.3" fill="none" stroke="#231f20" stroke-width="0.9"/></g>
<g transform="translate(134.7 306.3) rotate(-28)"><ellipse rx="5.2" ry="5.2" fill="#fff" stroke="#231f20" stroke-width="1.0"/><ellipse cx="-0.8" cy="0" rx="4.1" ry="4.3" fill="none" stroke="#231f20" stroke-width="0.9"/></g>
<g transform="translate(140.5 318.1) rotate(-23)"><ellipse rx="5.3" ry="5.3" fill="#fff" stroke="#231f20" stroke-width="1.0"/><ellipse cx="-0.8" cy="0" rx="4.2" ry="4.4" fill="none" stroke="#231f20" stroke-width="0.9"/></g>
<g transform="translate(145.6 330.4) rotate(-24)"><ellipse rx="5.3" ry="5.3" fill="#fff" stroke="#231f20" stroke-width="1.0"/><ellipse cx="-0.8" cy="0" rx="4.2" ry="4.4" fill="none" stroke="#231f20" stroke-width="0.9"/></g>
<g transform="translate(150.6 342.7) rotate(-18)"><ellipse rx="5.4" ry="5.4" fill="#fff" stroke="#231f20" stroke-width="1.0"/><ellipse cx="-0.8" cy="0" rx="4.3" ry="4.5" fill="none" stroke="#231f20" stroke-width="0.9"/></g>
<g transform="translate(154.3 355.4) rotate(-14)"><ellipse rx="5.4" ry="5.4" fill="#fff" stroke="#231f20" stroke-width="1.0"/><ellipse cx="-0.8" cy="0" rx="4.3" ry="4.5" fill="none" stroke="#231f20" stroke-width="0.9"/></g>
<g transform="translate(157.3 368.3) rotate(-14)"><ellipse rx="5.5" ry="5.5" fill="#fff" stroke="#231f20" stroke-width="1.0"/><ellipse cx="-0.8" cy="0" rx="4.4" ry="4.6" fill="none" stroke="#231f20" stroke-width="0.9"/></g>
<g transform="translate(160.6 381.1) rotate(-26)"><ellipse rx="5.5" ry="5.5" fill="#fff" stroke="#231f20" stroke-width="1.0"/><ellipse cx="-0.8" cy="0" rx="4.4" ry="4.6" fill="none" stroke="#231f20" stroke-width="0.9"/></g>
<g transform="translate(163.2 394.0) rotate(-6)"><ellipse rx="5.6" ry="5.6" fill="#fff" stroke="#231f20" stroke-width="1.0"/><ellipse cx="-0.8" cy="0" rx="4.5" ry="4.7" fill="none" stroke="#231f20" stroke-width="0.9"/></g>
<g transform="translate(164.4 407.2) rotate(-5)"><ellipse rx="5.6" ry="5.6" fill="#fff" stroke="#231f20" stroke-width="1.0"/><ellipse cx="-0.8" cy="0" rx="4.5" ry="4.7" fill="none" stroke="#231f20" stroke-width="0.9"/></g>
<g transform="translate(165.4 420.4) rotate(-4)"><ellipse rx="5.6" ry="5.6" fill="#fff" stroke="#231f20" stroke-width="1.0"/><ellipse cx="-0.8" cy="0" rx="4.5" ry="4.7" fill="none" stroke="#231f20" stroke-width="0.9"/></g>
<g transform="translate(166.2 433.6) rotate(-3)"><ellipse rx="5.6" ry="5.6" fill="#fff" stroke="#231f20" stroke-width="1.0"/><ellipse cx="-0.8" cy="0" rx="4.5" ry="4.7" fill="none" stroke="#231f20" stroke-width="0.9"/></g>
<g transform="translate(166.7 446.9) rotate(-1)"><ellipse rx="5.6" ry="5.6" fill="#fff" stroke="#231f20" stroke-width="1.0"/><ellipse cx="-0.8" cy="0" rx="4.5" ry="4.7" fill="none" stroke="#231f20" stroke-width="0.9"/></g>
<g transform="translate(166.9 460.1) rotate(-0)"><ellipse rx="5.6" ry="5.6" fill="#fff" stroke="#231f20" stroke-width="1.0"/><ellipse cx="-0.8" cy="0" rx="4.5" ry="4.7" fill="none" stroke="#231f20" stroke-width="0.9"/></g>
<g transform="translate(166.9 473.4) rotate(0)"><ellipse rx="5.6" ry="5.6" fill="#fff" stroke="#231f20" stroke-width="1.0"/><ellipse cx="-0.8" cy="0" rx="4.5" ry="4.7" fill="none" stroke="#231f20" stroke-width="0.9"/></g>
<g transform="translate(166.8 486.6) rotate(1)"><ellipse rx="5.6" ry="5.6" fill="#fff" stroke="#231f20" stroke-width="1.0"/><ellipse cx="-0.8" cy="0" rx="4.5" ry="4.7" fill="none" stroke="#231f20" stroke-width="0.9"/></g>
<g transform="translate(166.7 499.9) rotate(1)"><ellipse rx="5.6" ry="5.6" fill="#fff" stroke="#231f20" stroke-width="1.0"/><ellipse cx="-0.8" cy="0" rx="4.5" ry="4.7" fill="none" stroke="#231f20" stroke-width="0.9"/></g>
<g transform="translate(166.4 513.1) rotate(2)"><ellipse rx="5.6" ry="5.6" fill="#fff" stroke="#231f20" stroke-width="1.0"/><ellipse cx="-0.8" cy="0" rx="4.5" ry="4.7" fill="none" stroke="#231f20" stroke-width="0.9"/></g>
<g transform="translate(166.0 526.4) rotate(2)"><ellipse rx="5.6" ry="5.6" fill="#fff" stroke="#231f20" stroke-width="1.0"/><ellipse cx="-0.8" cy="0" rx="4.5" ry="4.7" fill="none" stroke="#231f20" stroke-width="0.9"/></g>
<g transform="translate(165.5 539.6) rotate(2)"><ellipse rx="5.6" ry="5.6" fill="#fff" stroke="#231f20" stroke-width="1.0"/><ellipse cx="-0.8" cy="0" rx="4.5" ry="4.7" fill="none" stroke="#231f20" stroke-width="0.9"/></g>
<g transform="translate(165.0 552.8) rotate(3)"><ellipse rx="5.6" ry="5.6" fill="#fff" stroke="#231f20" stroke-width="1.0"/><ellipse cx="-0.8" cy="0" rx="4.5" ry="4.7" fill="none" stroke="#231f20" stroke-width="0.9"/></g>
<g transform="translate(164.3 566.1) rotate(3)"><ellipse rx="5.6" ry="5.6" fill="#fff" stroke="#231f20" stroke-width="1.0"/><ellipse cx="-0.8" cy="0" rx="4.5" ry="4.7" fill="none" stroke="#231f20" stroke-width="0.9"/></g>
<g transform="translate(163.7 579.3) rotate(2)"><ellipse rx="5.6" ry="5.6" fill="#fff" stroke="#231f20" stroke-width="1.0"/><ellipse cx="-0.8" cy="0" rx="4.5" ry="4.7" fill="none" stroke="#231f20" stroke-width="0.9"/></g>
<g transform="translate(138.4 287.7) rotate(-34)"><ellipse rx="5.2" ry="5.2" fill="#fff" stroke="#231f20" stroke-width="1.0"/><ellipse cx="-0.8" cy="0" rx="4.1" ry="4.3" fill="none" stroke="#231f20" stroke-width="0.9"/></g>
<g transform="translate(146.0 298.5) rotate(-30)"><ellipse rx="5.2" ry="5.2" fill="#fff" stroke="#231f20" stroke-width="1.0"/><ellipse cx="-0.8" cy="0" rx="4.1" ry="4.3" fill="none" stroke="#231f20" stroke-width="0.9"/></g>
<g transform="translate(151.9 310.4) rotate(-24)"><ellipse rx="5.2" ry="5.2" fill="#fff" stroke="#231f20" stroke-width="1.0"/><ellipse cx="-0.8" cy="0" rx="4.1" ry="4.3" fill="none" stroke="#231f20" stroke-width="0.9"/></g>
<g transform="translate(157.0 322.6) rotate(-23)"><ellipse rx="5.3" ry="5.3" fill="#fff" stroke="#231f20" stroke-width="1.0"/><ellipse cx="-0.8" cy="0" rx="4.2" ry="4.4" fill="none" stroke="#231f20" stroke-width="0.9"/></g>
<g transform="translate(162.0 334.9) rotate(-19)"><ellipse rx="5.3" ry="5.3" fill="#fff" stroke="#231f20" stroke-width="1.0"/><ellipse cx="-0.8" cy="0" rx="4.2" ry="4.4" fill="none" stroke="#231f20" stroke-width="0.9"/></g>
<g transform="translate(165.9 347.6) rotate(-17)"><ellipse rx="5.4" ry="5.4" fill="#fff" stroke="#231f20" stroke-width="1.0"/><ellipse cx="-0.8" cy="0" rx="4.3" ry="4.5" fill="none" stroke="#231f20" stroke-width="0.9"/></g>
<g transform="translate(169.9 360.2) rotate(-16)"><ellipse rx="5.4" ry="5.4" fill="#fff" stroke="#231f20" stroke-width="1.0"/><ellipse cx="-0.8" cy="0" rx="4.3" ry="4.5" fill="none" stroke="#231f20" stroke-width="0.9"/></g>
<g transform="translate(173.1 373.1) rotate(-14)"><ellipse rx="5.5" ry="5.5" fill="#fff" stroke="#231f20" stroke-width="1.0"/><ellipse cx="-0.8" cy="0" rx="4.4" ry="4.6" fill="none" stroke="#231f20" stroke-width="0.9"/></g>
<g transform="translate(176.2 385.9) rotate(-14)"><ellipse rx="5.5" ry="5.5" fill="#fff" stroke="#231f20" stroke-width="1.0"/><ellipse cx="-0.8" cy="0" rx="4.4" ry="4.6" fill="none" stroke="#231f20" stroke-width="0.9"/></g>
<g transform="translate(178.2 399.0) rotate(-4)"><ellipse rx="5.6" ry="5.6" fill="#fff" stroke="#231f20" stroke-width="1.0"/><ellipse cx="-0.8" cy="0" rx="4.5" ry="4.7" fill="none" stroke="#231f20" stroke-width="0.9"/></g>
<g transform="translate(179.1 412.2) rotate(-4)"><ellipse rx="5.6" ry="5.6" fill="#fff" stroke="#231f20" stroke-width="1.0"/><ellipse cx="-0.8" cy="0" rx="4.5" ry="4.7" fill="none" stroke="#231f20" stroke-width="0.9"/></g>
<g transform="translate(179.8 425.4) rotate(-3)"><ellipse rx="5.6" ry="5.6" fill="#fff" stroke="#231f20" stroke-width="1.0"/><ellipse cx="-0.8" cy="0" rx="4.5" ry="4.7" fill="none" stroke="#231f20" stroke-width="0.9"/></g>
<g transform="translate(180.3 438.7) rotate(-1)"><ellipse rx="5.6" ry="5.6" fill="#fff" stroke="#231f20" stroke-width="1.0"/><ellipse cx="-0.8" cy="0" rx="4.5" ry="4.7" fill="none" stroke="#231f20" stroke-width="0.9"/></g>
<g transform="translate(180.4 451.9) rotate(0)"><ellipse rx="5.6" ry="5.6" fill="#fff" stroke="#231f20" stroke-width="1.0"/><ellipse cx="-0.8" cy="0" rx="4.5" ry="4.7" fill="none" stroke="#231f20" stroke-width="0.9"/></g>
<g transform="translate(180.3 465.2) rotate(1)"><ellipse rx="5.6" ry="5.6" fill="#fff" stroke="#231f20" stroke-width="1.0"/><ellipse cx="-0.8" cy="0" rx="4.5" ry="4.7" fill="none" stroke="#231f20" stroke-width="0.9"/></g>
<g transform="translate(180.1 478.4) rotate(1)"><ellipse rx="5.6" ry="5.6" fill="#fff" stroke="#231f20" stroke-width="1.0"/><ellipse cx="-0.8" cy="0" rx="4.5" ry="4.7" fill="none" stroke="#231f20" stroke-width="0.9"/></g>
<g transform="translate(179.9 491.7) rotate(1)"><ellipse rx="5.6" ry="5.6" fill="#fff" stroke="#231f20" stroke-width="1.0"/><ellipse cx="-0.8" cy="0" rx="4.5" ry="4.7" fill="none" stroke="#231f20" stroke-width="0.9"/></g>
<g transform="translate(179.6 504.9) rotate(1)"><ellipse rx="5.6" ry="5.6" fill="#fff" stroke="#231f20" stroke-width="1.0"/><ellipse cx="-0.8" cy="0" rx="4.5" ry="4.7" fill="none" stroke="#231f20" stroke-width="0.9"/></g>
<g transform="translate(179.2 518.2) rotate(2)"><ellipse rx="5.6" ry="5.6" fill="#fff" stroke="#231f20" stroke-width="1.0"/><ellipse cx="-0.8" cy="0" rx="4.5" ry="4.7" fill="none" stroke="#231f20" stroke-width="0.9"/></g>
<g transform="translate(178.8 531.4) rotate(2)"><ellipse rx="5.6" ry="5.6" fill="#fff" stroke="#231f20" stroke-width="1.0"/><ellipse cx="-0.8" cy="0" rx="4.5" ry="4.7" fill="none" stroke="#231f20" stroke-width="0.9"/></g>
<g transform="translate(178.3 544.7) rotate(2)"><ellipse rx="5.6" ry="5.6" fill="#fff" stroke="#231f20" stroke-width="1.0"/><ellipse cx="-0.8" cy="0" rx="4.5" ry="4.7" fill="none" stroke="#231f20" stroke-width="0.9"/></g>
<g transform="translate(177.7 557.9) rotate(3)"><ellipse rx="5.6" ry="5.6" fill="#fff" stroke="#231f20" stroke-width="1.0"/><ellipse cx="-0.8" cy="0" rx="4.5" ry="4.7" fill="none" stroke="#231f20" stroke-width="0.9"/></g>
<g transform="translate(177.0 571.1) rotate(3)"><ellipse rx="5.6" ry="5.6" fill="#fff" stroke="#231f20" stroke-width="1.0"/><ellipse cx="-0.8" cy="0" rx="4.5" ry="4.7" fill="none" stroke="#231f20" stroke-width="0.9"/></g>
<g transform="translate(176.5 584.4) rotate(2)"><ellipse rx="5.6" ry="5.6" fill="#fff" stroke="#231f20" stroke-width="1.0"/><ellipse cx="-0.8" cy="0" rx="4.5" ry="4.7" fill="none" stroke="#231f20" stroke-width="0.9"/></g>
<path d="M139.3 279.0C140.2 280.5 142.9 284.9 145.0 288.1C147.1 291.3 149.9 294.5 152.1 298.2C154.3 301.9 156.3 306.3 158.1 310.3C160.0 314.3 161.5 318.4 163.2 322.4C164.9 326.4 166.7 330.3 168.2 334.5C169.7 338.7 170.9 343.2 172.2 347.6C173.6 352.0 175.1 356.5 176.3 360.7C177.5 364.9 178.3 368.8 179.3 372.8C180.3 376.8 181.5 380.9 182.3 384.9C183.1 388.9 183.6 387.8 184.3 397.0C185.0 406.2 186.3 424.4 186.6 440.0C186.9 455.6 186.5 474.2 186.2 490.9C185.9 507.6 185.3 526.3 184.8 540.0C184.3 553.7 183.6 564.3 183.2 573.0C182.8 581.7 182.7 588.8 182.6 592.0" fill="none" stroke="#231f20" stroke-width="1.0" stroke-dasharray="5.5 2"/>
<path d="M144.0 279.0C144.9 280.5 147.6 284.9 149.7 288.1C151.8 291.3 154.6 294.5 156.8 298.2C159.0 301.9 161.0 306.3 162.8 310.3C164.7 314.3 166.2 318.4 167.9 322.4C169.6 326.4 171.4 330.3 172.9 334.5C174.4 338.7 175.6 343.2 176.9 347.6C178.2 352.0 179.8 356.5 181.0 360.7C182.2 364.9 183.0 368.8 184.0 372.8C185.0 376.8 186.2 380.9 187.0 384.9C187.8 388.9 188.3 387.8 189.0 397.0C189.7 406.2 191.0 424.4 191.3 440.0C191.6 455.6 191.2 474.2 190.9 490.9C190.6 507.6 190.0 526.3 189.5 540.0C189.0 553.7 188.3 564.3 187.9 573.0C187.5 581.7 187.4 588.8 187.3 592.0" fill="none" stroke="#231f20" stroke-width="1.0" />
<path d="M170.0 270.0C171.2 271.8 173.5 272.6 177.2 281.0C180.9 289.4 188.6 310.6 192.3 320.4C196.0 330.2 197.8 332.1 199.6 340.0C201.4 347.9 202.4 358.0 203.4 368.0C204.4 378.0 205.1 389.7 205.5 400.0C205.9 410.3 205.8 418.3 205.8 430.0C205.8 441.7 205.8 458.1 205.5 470.0C205.2 481.9 204.7 489.1 204.3 501.6C203.9 514.1 203.4 532.3 203.0 545.0C202.6 557.7 202.2 570.2 201.9 578.0C201.7 585.8 201.6 589.7 201.5 592.0" fill="none" stroke="#231f20" stroke-width="1.0" />
<path d="M179.0 270.0C180.2 271.9 183.4 276.8 186.2 281.1C189.0 285.4 193.3 290.9 196.0 296.0C198.7 301.1 200.0 305.5 202.4 312.0C204.8 318.5 208.3 325.7 210.3 335.0C212.3 344.3 213.7 357.2 214.6 368.0C215.5 378.8 215.7 389.7 216.0 400.0C216.3 410.3 216.5 418.3 216.5 430.0C216.5 441.7 216.2 458.1 216.0 470.0C215.8 481.9 215.4 489.1 215.1 501.6C214.8 514.1 214.4 532.6 214.0 545.0C213.6 557.4 213.0 567.9 212.7 575.7C212.4 583.5 212.4 589.3 212.3 592.0" fill="none" stroke="#231f20" stroke-width="1.0" />
<path d="M208.0 275.0C209.2 276.6 212.4 279.8 215.1 284.8C217.8 289.8 221.2 297.8 224.0 305.0C226.8 312.2 229.6 319.5 231.8 327.8C234.0 336.1 235.9 346.3 237.0 355.0C238.1 363.7 238.3 367.5 238.6 380.0C238.9 392.5 238.9 409.7 239.0 430.0C239.1 450.3 239.2 482.4 239.0 501.6C238.8 520.8 238.4 533.0 238.0 545.0C237.6 557.0 236.9 565.5 236.6 573.3C236.3 581.1 236.1 588.9 236.0 592.0" fill="none" stroke="#231f20" stroke-width="1.0" />
<path d="M211.7 275.0C212.9 276.6 216.1 279.8 218.8 284.8C221.5 289.8 224.9 297.8 227.7 305.0C230.5 312.2 233.3 319.5 235.5 327.8C237.7 336.1 239.6 346.3 240.7 355.0C241.8 363.7 242.0 367.5 242.3 380.0C242.6 392.5 242.6 409.7 242.7 430.0C242.8 450.3 242.9 482.4 242.7 501.6C242.5 520.8 242.1 533.0 241.7 545.0C241.3 557.0 240.6 565.5 240.3 573.3C240.0 581.1 239.8 588.9 239.7 592.0" fill="none" stroke="#231f20" stroke-width="1.0" />
<path d="M215.0 275.0C216.2 276.6 219.4 279.8 222.1 284.8C224.8 289.8 228.2 297.8 231.0 305.0C233.8 312.2 236.6 319.5 238.8 327.8C241.0 336.1 242.9 346.3 244.0 355.0C245.1 363.7 245.3 367.5 245.6 380.0C245.9 392.5 245.9 409.7 246.0 430.0C246.1 450.3 246.2 482.4 246.0 501.6C245.8 520.8 245.4 533.0 245.0 545.0C244.6 557.0 243.9 565.5 243.6 573.3C243.3 581.1 243.1 588.9 243.0 592.0" fill="none" stroke="#231f20" stroke-width="1.0" />
<path d="M220.0 275.0C221.2 277.0 224.3 282.2 227.0 287.2C229.7 292.2 233.2 298.2 236.0 305.0C238.8 311.8 241.6 319.5 243.7 327.8C245.8 336.1 247.4 346.3 248.5 355.0C249.6 363.7 250.0 367.5 250.5 380.0C251.0 392.5 251.5 409.7 251.6 430.0C251.7 450.3 251.2 482.4 250.9 501.6C250.6 520.8 250.2 534.0 249.8 545.0C249.4 556.0 248.8 559.5 248.5 567.3C248.2 575.1 248.1 587.9 248.0 592.0" fill="none" stroke="#231f20" stroke-width="1.0" />
<path d="M240.0 280.0C241.2 282.4 244.8 288.5 247.3 294.3C249.8 300.1 252.6 307.4 255.0 315.0C257.4 322.6 259.9 331.4 261.6 339.7C263.3 348.0 264.2 354.9 265.0 365.0C265.8 375.1 265.9 389.2 266.2 400.0C266.5 410.8 266.6 418.3 266.6 430.0C266.6 441.7 266.1 458.3 266.0 470.0C265.9 481.7 265.9 495.0 265.9 500.0Q266 512.6 274 512.8H345" fill="none" stroke="#231f20" stroke-width="1.0" />
<path d="M274 514.2H345" fill="none" stroke="#231f20" stroke-width="1.6" />
<path d="M275 517.2H345" fill="none" stroke="#231f20" stroke-width="0.7" />
<path d="M276 527.9H330" fill="none" stroke="#231f20" stroke-width="0.7" />
<path d="M264 600V541Q264.5 531 274 530.6H330" fill="none" stroke="#231f20" stroke-width="1.0" />
<path d="M274 531.4H330" fill="none" stroke="#231f20" stroke-width="1.4" />
<path d="M190.5 517.6L208.5 518.4L208.5 521L190.5 519.6Z" fill="#fff" stroke="#231f20" stroke-width="1.0" />
<path d="M240 518.8H228.5Q226.8 521 228.5 523.2H240" fill="#fff" stroke="#231f20" stroke-width="1.0" />
<path d="M236 516.5V525.5" fill="none" stroke="#231f20" stroke-width="1.0" />
<path d="M171.1 312L181 312L181 309.3L190.3 314.4L181 319.5L181 316.8L171.1 316.8Z" fill="#fff" stroke="#231f20" stroke-width="1.0" />
<path d="M225.7 312.3L215.6 312.3L215.6 309L206.5 314.8L215.6 320.5L215.6 317.3L225.7 317.3Z" fill="#fff" stroke="#231f20" stroke-width="1.0" />
<rect x="111.7" y="495.5" width="10.6" height="51" rx="2" fill="#fff" stroke="#231f20" stroke-width="1.0"/>
<rect x="113.3" y="498.2" width="7.1" height="45.4" fill="#555" stroke="#231f20" stroke-width="1"/>
<path d="M115.0 498.5V543.4" fill="none" stroke="#231f20" stroke-width="0.6" />
<path d="M116.8 498.5V543.4" fill="none" stroke="#231f20" stroke-width="0.6" />
<path d="M118.6 498.5V543.4" fill="none" stroke="#231f20" stroke-width="0.6" />
</g>
<path d="M322.8 341.4L467.7 430.0L351.8 396.9A176.6 152.8 0 1 1 322.8 341.4Z" fill="none" stroke="#231f20" stroke-width="1.15" />
</svg></body></html>
